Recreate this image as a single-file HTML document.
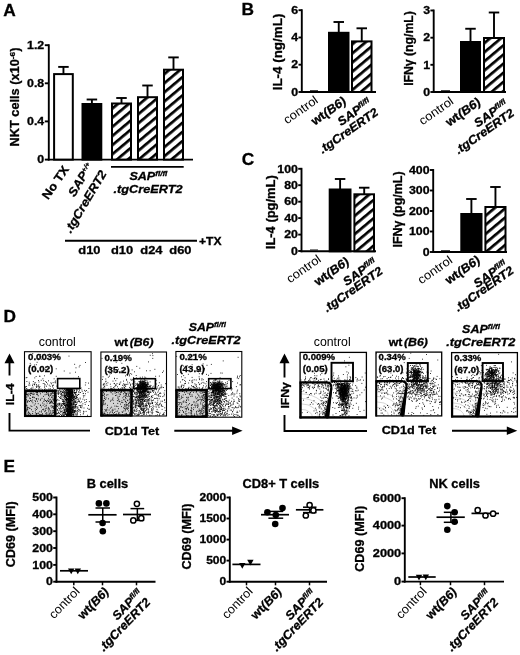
<!DOCTYPE html><html><head><meta charset="utf-8"><title>Figure</title><style>html,body{margin:0;padding:0;background:#fff}svg{display:block}text{font-family:"Liberation Sans",sans-serif}</style></head><body><svg width="520" height="655" viewBox="0 0 520 655">
<defs><pattern id="h" width="7" height="7" patternUnits="userSpaceOnUse" patternTransform="rotate(-40)"><rect width="7" height="7" fill="#fff"/><rect width="7" height="2.7" fill="#000"/></pattern><filter id="bl" x="-5%" y="-5%" width="110%" height="110%"><feGaussianBlur stdDeviation="0.35"/></filter></defs>
<rect width="520" height="655" fill="#fff"/>
<g fill="#000" stroke="#000" stroke-width="0" font-weight="bold">
<text transform="translate(3.2 15.6)" font-size="17.3" stroke-width=".3">A</text>
<text transform="translate(241.5 15.3)" font-size="17.3" stroke-width=".3">B</text>
<text transform="translate(241.7 164.5)" font-size="17.3" stroke-width=".3">C</text>
<text transform="translate(3.4 321.9)" font-size="17.3" stroke-width=".3">D</text>
<text transform="translate(3.4 471.7)" font-size="17.3" stroke-width=".3">E</text>
<line x1="48.8" y1="44.25" x2="48.8" y2="160.54999999999998" stroke-width="1.9"/>
<line x1="44.8" y1="45.2" x2="48.8" y2="45.2" stroke-width="1.9"/>
<text transform="translate(44.199999999999996 48.908) scale(1.2 1)" font-size="10.3" stroke-width=".3" text-anchor="end">1.2</text>
<line x1="44.8" y1="83.3" x2="48.8" y2="83.3" stroke-width="1.9"/>
<text transform="translate(44.199999999999996 87.008) scale(1.2 1)" font-size="10.3" stroke-width=".3" text-anchor="end">0.8</text>
<line x1="44.8" y1="121.4" x2="48.8" y2="121.4" stroke-width="1.9"/>
<text transform="translate(44.199999999999996 125.108) scale(1.2 1)" font-size="10.3" stroke-width=".3" text-anchor="end">0.4</text>
<line x1="44.8" y1="159.6" x2="48.8" y2="159.6" stroke-width="1.9"/>
<text transform="translate(44.199999999999996 163.308) scale(1.2 1)" font-size="10.3" stroke-width=".3" text-anchor="end">0</text>
<line x1="47.849999999999994" y1="159.6" x2="193" y2="159.6" stroke-width="1.9"/>
<line x1="63.45" y1="66.9" x2="63.45" y2="74.1" stroke-width="1.9"/>
<line x1="58.2" y1="66.9" x2="68.7" y2="66.9" stroke-width="1.9"/>
<rect x="54.1" y="74.1" width="18.699999999999996" height="85.5" fill="#fff" stroke-width="2.0"/>
<line x1="91.9" y1="99.5" x2="91.9" y2="104" stroke-width="1.9"/>
<line x1="86.65" y1="99.5" x2="97.15" y2="99.5" stroke-width="1.9"/>
<rect x="82.5" y="104.0" width="18.799999999999997" height="55.599999999999994" fill="#000" stroke-width="2.0"/>
<line x1="121.5" y1="98" x2="121.5" y2="103.5" stroke-width="1.9"/>
<line x1="116.25" y1="98" x2="126.75" y2="98" stroke-width="1.9"/>
<rect x="112.0" y="103.5" width="19.0" height="56.099999999999994" fill="url(#h)" stroke-width="2.0"/>
<line x1="147.5" y1="85.5" x2="147.5" y2="97.2" stroke-width="1.9"/>
<line x1="142.25" y1="85.5" x2="152.75" y2="85.5" stroke-width="1.9"/>
<rect x="138.0" y="97.2" width="19.0" height="62.39999999999999" fill="url(#h)" stroke-width="2.0"/>
<line x1="173.5" y1="57.4" x2="173.5" y2="69.7" stroke-width="1.9"/>
<line x1="168.25" y1="57.4" x2="178.75" y2="57.4" stroke-width="1.9"/>
<rect x="164.0" y="69.7" width="19.0" height="89.89999999999999" fill="url(#h)" stroke-width="2.0"/>
<text transform="translate(19.3 146.5) rotate(-90) scale(1.04 1)" font-size="12.3" stroke-width=".3">NKT cells (x10<tspan font-size="8" dy="-4">-6</tspan><tspan dy="4">)</tspan></text>
<text transform="translate(69.5 169.5) rotate(-55) scale(1.08 1)" font-size="12" stroke-width=".3" text-anchor="end">No TX</text>
<text transform="translate(93.5 166) rotate(-59) scale(1.08 1)" font-size="12" stroke-width=".3" font-style="italic" text-anchor="end">SAP<tspan font-size="6.5" dy="-4">+/+</tspan></text>
<text transform="translate(107 173.5) rotate(-59) scale(1.08 1)" font-size="12" stroke-width=".3" font-style="italic" text-anchor="end">.tgCreERT2</text>
<line x1="111" y1="166.9" x2="183.7" y2="166.9" stroke-width="1.9"/>
<text transform="translate(148.4 180) scale(1.1 1)" font-size="11.4" stroke-width=".3" font-style="italic" text-anchor="middle">SAP<tspan font-size="7.4" dy="-3.6">fl/fl</tspan></text>
<text transform="translate(148 192.5) scale(1.12 1)" font-size="11.4" stroke-width=".3" font-style="italic" text-anchor="middle">.tgCreERT2</text>
<line x1="65" y1="240.8" x2="197" y2="240.8" stroke-width="1.9"/>
<text transform="translate(199 245) scale(1.1 1)" font-size="11" stroke-width=".3">+TX</text>
<text transform="translate(89.4 253.5) scale(1.12 1)" font-size="11.5" stroke-width=".3" text-anchor="middle">d10</text>
<text transform="translate(122 253.5) scale(1.12 1)" font-size="11.5" stroke-width=".3" text-anchor="middle">d10</text>
<text transform="translate(151.4 253.5) scale(1.12 1)" font-size="11.5" stroke-width=".3" text-anchor="middle">d24</text>
<text transform="translate(180.4 253.5) scale(1.12 1)" font-size="11.5" stroke-width=".3" text-anchor="middle">d60</text>
<line x1="301.8" y1="9.25" x2="301.8" y2="92.95" stroke-width="1.9"/>
<line x1="298.5" y1="10.2" x2="301.8" y2="10.2" stroke-width="1.9"/>
<text transform="translate(298.2 13.908) scale(1.2 1)" font-size="10.3" stroke-width=".3" text-anchor="end">6</text>
<line x1="298.5" y1="37.5" x2="301.8" y2="37.5" stroke-width="1.9"/>
<text transform="translate(298.2 41.208) scale(1.2 1)" font-size="10.3" stroke-width=".3" text-anchor="end">4</text>
<line x1="298.5" y1="64.7" x2="301.8" y2="64.7" stroke-width="1.9"/>
<text transform="translate(298.2 68.408) scale(1.2 1)" font-size="10.3" stroke-width=".3" text-anchor="end">2</text>
<line x1="298.5" y1="92" x2="301.8" y2="92" stroke-width="1.9"/>
<text transform="translate(298.2 95.708) scale(1.2 1)" font-size="10.3" stroke-width=".3" text-anchor="end">0</text>
<line x1="300.85" y1="92" x2="376" y2="92" stroke-width="1.9"/>
<line x1="310" y1="90.6" x2="318" y2="90.6" stroke-width="0.8"/>
<line x1="338.75" y1="22" x2="338.75" y2="32.8" stroke-width="1.9"/>
<line x1="333.5" y1="22" x2="344.0" y2="22" stroke-width="1.9"/>
<rect x="329.0" y="32.8" width="19.5" height="59.2" fill="#000" stroke-width="2.0"/>
<line x1="361.75" y1="28.3" x2="361.75" y2="41.4" stroke-width="1.9"/>
<line x1="356.5" y1="28.3" x2="367.0" y2="28.3" stroke-width="1.9"/>
<rect x="352.0" y="41.4" width="19.5" height="50.6" fill="url(#h)" stroke-width="2.0"/>
<text transform="translate(281.8 52) rotate(-90) scale(1.09 1)" font-size="12.3" stroke-width=".3" text-anchor="middle">IL-4 (ng/mL)</text>
<text transform="translate(319 102) rotate(-35) scale(1.06 1)" font-size="12.3" font-weight="normal" text-anchor="end">control</text>
<text transform="translate(347 103) rotate(-35) scale(1.06 1)" font-size="12.2" stroke-width=".3" text-anchor="end">wt<tspan font-style="italic">(B6)</tspan></text>
<text transform="translate(372 104.5) rotate(-35) scale(1.06 1)" font-size="12" stroke-width=".3" font-style="italic" text-anchor="end">SAP<tspan font-size="7.4" dy="-4">fl/fl</tspan></text>
<text transform="translate(379 114.3) rotate(-35) scale(1.06 1)" font-size="12" stroke-width=".3" font-style="italic" text-anchor="end">.tgCreERT2</text>
<line x1="433.7" y1="9.55" x2="433.7" y2="92.95" stroke-width="1.9"/>
<line x1="430.4" y1="10.5" x2="433.7" y2="10.5" stroke-width="1.9"/>
<text transform="translate(430.09999999999997 14.208) scale(1.2 1)" font-size="10.3" stroke-width=".3" text-anchor="end">3</text>
<line x1="430.4" y1="37.7" x2="433.7" y2="37.7" stroke-width="1.9"/>
<text transform="translate(430.09999999999997 41.408) scale(1.2 1)" font-size="10.3" stroke-width=".3" text-anchor="end">2</text>
<line x1="430.4" y1="64.8" x2="433.7" y2="64.8" stroke-width="1.9"/>
<text transform="translate(430.09999999999997 68.508) scale(1.2 1)" font-size="10.3" stroke-width=".3" text-anchor="end">1</text>
<line x1="430.4" y1="92" x2="433.7" y2="92" stroke-width="1.9"/>
<text transform="translate(430.09999999999997 95.708) scale(1.2 1)" font-size="10.3" stroke-width=".3" text-anchor="end">0</text>
<line x1="432.75" y1="92" x2="506" y2="92" stroke-width="1.9"/>
<line x1="441" y1="90.6" x2="450" y2="90.6" stroke-width="0.8"/>
<line x1="470.5" y1="28.75" x2="470.5" y2="42" stroke-width="1.9"/>
<line x1="465.25" y1="28.75" x2="475.75" y2="28.75" stroke-width="1.9"/>
<rect x="461.0" y="42.0" width="19.0" height="50.0" fill="#000" stroke-width="2.0"/>
<line x1="494.0" y1="12.5" x2="494.0" y2="38" stroke-width="1.9"/>
<line x1="488.75" y1="12.5" x2="499.25" y2="12.5" stroke-width="1.9"/>
<rect x="484.0" y="38.0" width="20.0" height="54.0" fill="url(#h)" stroke-width="2.0"/>
<text transform="translate(413.40000000000003 48.5) rotate(-90) scale(1.02 1)" font-size="12" stroke-width=".3" text-anchor="middle">IFN&#947; (ng/mL)</text>
<text transform="translate(454.5 103) rotate(-35) scale(1.06 1)" font-size="12.3" font-weight="normal" text-anchor="end">control</text>
<text transform="translate(481.5 104) rotate(-35) scale(1.06 1)" font-size="12.2" stroke-width=".3" text-anchor="end">wt<tspan font-style="italic">(B6)</tspan></text>
<text transform="translate(508.5 106.0) rotate(-35) scale(1.06 1)" font-size="12" stroke-width=".3" font-style="italic" text-anchor="end">SAP<tspan font-size="7.4" dy="-4">fl/fl</tspan></text>
<text transform="translate(515 115.0) rotate(-35) scale(1.06 1)" font-size="12" stroke-width=".3" font-style="italic" text-anchor="end">.tgCreERT2</text>
<line x1="301.5" y1="167.85000000000002" x2="301.5" y2="252.25" stroke-width="1.9"/>
<line x1="298.2" y1="168.8" x2="301.5" y2="168.8" stroke-width="1.9"/>
<text transform="translate(297.9 172.508) scale(1.2 1)" font-size="10.3" stroke-width=".3" text-anchor="end">100</text>
<line x1="298.2" y1="185.2" x2="301.5" y2="185.2" stroke-width="1.9"/>
<text transform="translate(297.9 188.908) scale(1.2 1)" font-size="10.3" stroke-width=".3" text-anchor="end">80</text>
<line x1="298.2" y1="201.7" x2="301.5" y2="201.7" stroke-width="1.9"/>
<text transform="translate(297.9 205.408) scale(1.2 1)" font-size="10.3" stroke-width=".3" text-anchor="end">60</text>
<line x1="298.2" y1="218.1" x2="301.5" y2="218.1" stroke-width="1.9"/>
<text transform="translate(297.9 221.808) scale(1.2 1)" font-size="10.3" stroke-width=".3" text-anchor="end">40</text>
<line x1="298.2" y1="234.6" x2="301.5" y2="234.6" stroke-width="1.9"/>
<text transform="translate(297.9 238.308) scale(1.2 1)" font-size="10.3" stroke-width=".3" text-anchor="end">20</text>
<line x1="298.2" y1="251" x2="301.5" y2="251" stroke-width="1.9"/>
<text transform="translate(297.9 254.708) scale(1.2 1)" font-size="10.3" stroke-width=".3" text-anchor="end">0</text>
<line x1="300.55" y1="251.3" x2="376" y2="251.3" stroke-width="1.9"/>
<line x1="310" y1="249.9" x2="318" y2="249.9" stroke-width="0.8"/>
<line x1="340.1" y1="179" x2="340.1" y2="189.5" stroke-width="1.9"/>
<line x1="334.85" y1="179" x2="345.35" y2="179" stroke-width="1.9"/>
<rect x="329.7" y="189.5" width="20.80000000000001" height="61.80000000000001" fill="#000" stroke-width="2.0"/>
<line x1="364.2" y1="187.7" x2="364.2" y2="194.3" stroke-width="1.9"/>
<line x1="358.95" y1="187.7" x2="369.45" y2="187.7" stroke-width="1.9"/>
<rect x="354.4" y="194.3" width="19.600000000000023" height="57.0" fill="url(#h)" stroke-width="2.0"/>
<text transform="translate(275.40000000000003 212.2) rotate(-90) scale(1.07 1)" font-size="12.1" stroke-width=".3" text-anchor="middle">IL-4 (pg/mL)</text>
<text transform="translate(322 261) rotate(-35) scale(1.06 1)" font-size="12.3" font-weight="normal" text-anchor="end">control</text>
<text transform="translate(350 263.5) rotate(-35) scale(1.06 1)" font-size="12.2" stroke-width=".3" text-anchor="end">wt<tspan font-style="italic">(B6)</tspan></text>
<text transform="translate(377.5 264.5) rotate(-35) scale(1.06 1)" font-size="12" stroke-width=".3" font-style="italic" text-anchor="end">SAP<tspan font-size="7.4" dy="-4">fl/fl</tspan></text>
<text transform="translate(383.5 273.0) rotate(-35) scale(1.06 1)" font-size="12" stroke-width=".3" font-style="italic" text-anchor="end">.tgCreERT2</text>
<line x1="433.2" y1="169.05" x2="433.2" y2="252.95" stroke-width="1.9"/>
<line x1="429.9" y1="170" x2="433.2" y2="170" stroke-width="1.9"/>
<text transform="translate(429.59999999999997 173.708) scale(1.2 1)" font-size="10.3" stroke-width=".3" text-anchor="end">400</text>
<line x1="429.9" y1="190.5" x2="433.2" y2="190.5" stroke-width="1.9"/>
<text transform="translate(429.59999999999997 194.208) scale(1.2 1)" font-size="10.3" stroke-width=".3" text-anchor="end">300</text>
<line x1="429.9" y1="211" x2="433.2" y2="211" stroke-width="1.9"/>
<text transform="translate(429.59999999999997 214.708) scale(1.2 1)" font-size="10.3" stroke-width=".3" text-anchor="end">200</text>
<line x1="429.9" y1="231.5" x2="433.2" y2="231.5" stroke-width="1.9"/>
<text transform="translate(429.59999999999997 235.208) scale(1.2 1)" font-size="10.3" stroke-width=".3" text-anchor="end">100</text>
<line x1="429.9" y1="252" x2="433.2" y2="252" stroke-width="1.9"/>
<text transform="translate(429.59999999999997 255.708) scale(1.2 1)" font-size="10.3" stroke-width=".3" text-anchor="end">0</text>
<line x1="432.25" y1="252" x2="507" y2="252" stroke-width="1.9"/>
<line x1="441" y1="250.6" x2="450" y2="250.6" stroke-width="0.8"/>
<line x1="471.4" y1="199" x2="471.4" y2="214" stroke-width="1.9"/>
<line x1="466.15" y1="199" x2="476.65" y2="199" stroke-width="1.9"/>
<rect x="461.3" y="214.0" width="20.19999999999999" height="38.0" fill="#000" stroke-width="2.0"/>
<line x1="495.45" y1="187" x2="495.45" y2="207" stroke-width="1.9"/>
<line x1="490.2" y1="187" x2="500.7" y2="187" stroke-width="1.9"/>
<rect x="485.4" y="207.0" width="20.100000000000023" height="45.0" fill="url(#h)" stroke-width="2.0"/>
<text transform="translate(401.6 209.5) rotate(-90) scale(1.03 1)" font-size="12.1" stroke-width=".3" text-anchor="middle">IFN&#947; (pg/mL)</text>
<text transform="translate(453.3 262) rotate(-35) scale(1.06 1)" font-size="12.3" font-weight="normal" text-anchor="end">control</text>
<text transform="translate(481 262) rotate(-35) scale(1.06 1)" font-size="12.2" stroke-width=".3" text-anchor="end">wt<tspan font-style="italic">(B6)</tspan></text>
<text transform="translate(508 266.5) rotate(-35) scale(1.06 1)" font-size="12" stroke-width=".3" font-style="italic" text-anchor="end">SAP<tspan font-size="7.4" dy="-4">fl/fl</tspan></text>
<text transform="translate(514.5 272.5) rotate(-35) scale(1.06 1)" font-size="12" stroke-width=".3" font-style="italic" text-anchor="end">.tgCreERT2</text>
<rect x="24" y="390.8" width="31.299999999999997" height="26.19999999999999" fill="#d4d4d4"/>
<path d="M25 391.9h0M25 406.8h0M25 409.8h0M25.1 391.4h0M25.1 394.7h0M25.1 413.8h0M25.1 415.6h0M25.2 401.7h0M25.2 404.2h0M25.3 386.7h0M25.3 394.1h0M25.3 405.5h0M25.4 400.9h0M25.5 387.9h0M25.5 398.7h0M25.6 402.4h0M25.6 404.7h0M25.6 407.6h0M25.7 413.9h0M25.8 389.7h0M25.8 408.9h0M25.8 415.6h0M25.9 391.5h0M25.9 405.9h0M26 393.2h0M26.1 377.8h0M26.1 409.8h0M26.2 394.6h0M26.3 394.5h0M26.4 386.5h0M26.4 388.6h0M26.4 410.9h0M26.5 391.3h0M26.5 392.1h0M26.5 399.8h0M26.6 405.2h0M26.7 391.6h0M26.8 393.3h0M26.8 397.1h0M26.9 377.5h0M26.9 381.5h0M26.9 394.5h0M27.1 405.9h0M27.1 415.3h0M27.2 389.2h0M27.2 402.1h0M27.3 390.2h0M27.3 401h0M27.3 408.7h0M27.3 409.7h0M27.5 394.4h0M27.6 401.9h0M27.6 407.4h0M27.8 395.8h0M27.8 409.9h0M28 413.3h0M28.2 407.6h0M28.2 412h0M28.3 390h0M28.3 390.9h0M28.3 400.8h0M28.4 415.8h0M28.5 394h0M28.5 412.2h0M28.6 414.8h0M28.7 395.9h0M28.8 385.1h0M29.1 412.9h0M29.2 382.2h0M29.2 389.6h0M29.3 383.6h0M29.3 408.2h0M29.4 398.1h0M29.4 401.5h0M29.4 413.7h0M29.9 385.1h0M29.9 389.8h0M29.9 394.3h0M30 408.4h0M30.1 393.2h0M30.2 363.4h0M30.3 374h0M30.3 390.7h0M30.4 395.5h0M30.4 415.2h0M30.5 400.4h0M30.6 398.4h0M30.6 415.2h0M30.7 414.1h0M30.8 390.2h0M30.8 393.7h0M30.9 388.6h0M30.9 393.1h0M30.9 405.9h0M31 400.5h0M31.3 391h0M31.4 409.7h0M31.7 388.1h0M31.7 389.8h0M31.7 391.8h0M31.7 393.5h0M31.9 401.6h0M31.9 406.5h0M32.1 389.3h0M32.3 394.1h0M32.4 385.4h0M32.4 397.5h0M32.4 415.8h0M32.7 400h0M32.7 413.5h0M32.8 353.6h0M32.8 390.4h0M32.9 390.7h0M32.9 396.8h0M32.9 402.8h0M32.9 411.6h0M33 384.2h0M33 387.1h0M33 389h0M33.2 393h0M33.3 381.5h0M33.3 394.6h0M34 397.3h0M34.1 390h0M34.2 397.7h0M34.2 405.1h0M34.3 383h0M34.3 391.2h0M34.3 394h0M34.4 384.8h0M34.5 384.4h0M34.7 365h0M34.8 377.9h0M34.9 390.4h0M35 400.6h0M35.2 389.1h0M35.2 408.8h0M35.3 403.8h0M35.3 412.8h0M35.4 410.8h0M35.5 401.6h0M35.7 382.8h0M36.1 376.5h0M36.1 392.6h0M36.2 398.5h0M36.2 414h0M36.3 364.7h0M36.3 384.5h0M36.3 386.5h0M36.3 406.7h0M36.3 414.9h0M36.4 389.9h0M36.4 399.6h0M36.4 409.5h0M36.5 394.3h0M36.5 413.5h0M36.6 387.4h0M36.6 391.5h0M36.7 415.2h0M36.8 392.7h0M36.8 398.6h0M36.8 407.2h0M36.9 385.4h0M37.1 362.3h0M37.2 415.9h0M37.3 392.4h0M37.4 401.2h0M37.4 408.1h0M37.6 394.8h0M37.7 392.3h0M37.7 394h0M37.8 413.3h0M37.8 415.7h0M37.9 386.7h0M38.1 390.4h0M38.2 403.7h0M38.3 371.9h0M38.3 395.8h0M38.4 358.6h0M38.4 386h0M38.5 380.5h0M38.6 399h0M38.6 413.2h0M38.7 390.9h0M38.8 384.9h0M38.8 389.8h0M38.9 387.1h0M38.9 388.7h0M39 382h0M39.4 376.2h0M39.5 387.7h0M39.6 390h0M39.7 414.4h0M39.8 411.7h0M39.9 386.5h0M39.9 392h0M40 356.9h0M40 376.3h0M40.3 400.3h0M40.3 405h0M40.5 393.8h0M40.6 405.5h0M40.7 354.5h0M40.7 399.3h0M40.8 414.6h0M41 389h0M41.2 380.3h0M41.3 407h0M41.3 412.1h0M41.3 415.8h0M41.5 411h0M41.6 359.2h0M41.7 414.9h0M41.9 391.1h0M42 391.5h0M42 398.3h0M42.3 389.7h0M42.6 392.2h0M42.6 413.7h0M42.6 414.9h0M42.7 403h0M42.7 409.6h0M42.9 378.8h0M42.9 390.5h0M43.1 405.4h0M43.2 383.5h0M43.5 396.4h0M43.7 380.7h0M43.7 409.8h0M43.8 409.1h0M43.9 401.5h0M44.1 404.1h0M44.2 391.9h0M44.2 400.1h0M44.4 389.5h0M44.4 391.4h0M44.6 375.8h0M44.6 383.9h0M44.6 387.2h0M44.6 399.1h0M44.8 386h0M44.8 411.7h0M44.9 406.7h0M45 389.9h0M45 394.8h0M45.1 384.7h0M45.1 388.8h0M45.1 390.9h0M45.2 410.9h0M45.5 369.3h0M45.6 400.5h0M45.6 408.9h0M45.8 381.5h0M45.8 410.6h0M45.9 413.4h0M46.1 405.2h0M46.1 415.1h0M46.2 394.3h0M46.2 405.9h0M46.3 390.4h0M46.3 392.5h0M46.4 392.3h0M46.4 401.5h0M46.5 386.2h0M46.6 382.5h0M46.6 390.6h0M46.6 401.2h0M46.6 408.1h0M46.7 414h0M46.8 391.6h0M46.8 412.6h0M46.9 389.6h0M47.1 393.9h0M47.1 403.1h0M47.5 384h0M47.6 400.3h0M48 391.1h0M48 414.1h0M48.1 390.2h0M48.1 392.2h0M48.1 409.1h0M48.2 394.2h0M48.2 401.1h0M48.3 407.4h0M48.4 395.4h0M48.4 398.6h0M48.5 380.8h0M48.5 401.4h0M48.7 389.1h0M48.7 394h0M48.8 395.2h0M48.8 408.5h0M48.8 411.8h0M48.9 391.5h0M48.9 410.3h0M49.2 385.2h0M49.2 396.8h0M49.2 399.8h0M49.2 414.4h0M49.4 390.2h0M49.4 403h0M49.6 409.1h0M49.7 391.5h0M49.7 413.3h0M49.8 390h0M49.9 390.9h0M49.9 401.1h0M50 403.5h0M50.2 386.3h0M50.2 388.7h0M50.2 395.1h0M50.4 410.9h0M50.5 373.5h0M50.5 402.3h0M50.7 399.3h0M50.7 402.5h0M50.8 389.9h0M50.8 395.4h0M50.8 412.3h0M50.9 382.8h0M50.9 393.4h0M50.9 406.1h0M50.9 415.3h0M51 391.5h0M51 413.5h0M51.1 394.2h0M51.2 401.5h0M51.3 400.8h0M51.4 397.3h0M51.5 383.8h0M51.5 401.4h0M51.6 414.8h0M51.7 393.8h0M51.8 402.8h0M51.9 390.7h0M51.9 405.7h0M51.9 407.7h0M52 390.4h0M52.1 397h0M52.2 389.5h0M52.2 392.1h0M52.2 402h0M52.2 411h0M52.3 393.2h0M52.4 406.6h0M52.5 413.1h0M52.6 385.4h0M52.6 386.8h0M52.6 402.9h0M52.8 392.7h0M52.8 395.7h0M52.9 398h0M52.9 415.8h0M53 399.4h0M53 410.7h0M53.1 382.6h0M53.1 407.5h0M53.2 399.9h0M53.2 412.8h0M53.3 412.2h0M53.4 390.4h0M53.4 391.1h0M53.4 408.2h0M53.4 415.4h0M53.5 403.4h0M53.5 406.4h0M53.6 385.2h0M53.6 388.2h0M53.6 395.9h0M53.7 408.8h0M53.7 410.8h0M53.8 391.9h0M53.8 393.6h0M53.8 398.9h0M53.8 400.5h0M53.8 412.6h0M54 390.5h0M54 390.9h0M54 401.6h0M54.1 378.8h0M54.1 405h0M54.2 392.8h0M54.2 397.7h0M54.2 407h0M54.3 399.5h0M54.3 403.7h0M54.3 413.5h0M54.4 412.2h0M54.4 415.3h0M54.5 394.5h0M54.5 407.5h0M54.6 405h0M54.9 403.3h0M54.9 413.2h0M55 382.1h0M55 390.1h0M55 408.9h0M55 414.2h0M55 414.8h0M55.1 402.3h0M55.2 394.6h0M55.3 382.8h0M55.3 396.2h0M55.4 391.2h0M55.4 397.3h0M55.4 407.9h0M55.6 381h0M55.6 392.3h0M55.6 403.8h0M55.6 411.4h0M55.7 397.7h0M55.7 412.7h0M55.8 406.8h0M55.8 409.3h0M55.9 408.1h0M56 395.5h0M56 413.9h0M56.1 356.6h0M56.1 393.7h0M56.2 368.8h0M56.2 376.3h0M56.3 396.9h0M56.5 400.3h0M56.5 400.8h0M56.5 405.4h0M56.5 406h0M56.7 390.4h0M56.8 400.2h0M56.9 386.1h0M56.9 400.8h0M57 413.2h0M57.1 413.5h0M57.2 390.6h0M57.3 392h0M57.4 404.2h0M57.4 406.6h0M57.4 409.4h0M57.4 410.1h0M57.5 356.3h0M57.7 415.2h0M57.8 399.4h0M57.9 413.5h0M58 393.3h0M58 404.1h0M58 405.6h0M58 410.7h0M58.1 393.9h0M58.2 403.3h0M58.3 394.4h0M58.5 391.3h0M58.5 408.1h0M58.6 387.7h0M58.6 412.3h0M58.6 412.8h0M58.7 392.4h0M58.7 396.4h0M58.8 381.2h0M58.8 393.6h0M58.8 415.4h0M58.9 390.5h0M58.9 412.2h0M59 400.4h0M59 404.6h0M59.1 405.9h0M59.3 403.3h0M59.4 404.5h0M59.4 410h0M59.4 413.6h0M59.6 397.6h0M59.6 403.4h0M59.6 415.6h0M59.7 408.6h0M59.8 392.9h0M59.9 389.4h0M59.9 390.1h0M60 405h0M60.2 391.1h0M60.3 391.8h0M60.3 407.4h0M60.4 394.1h0M60.4 396.8h0M60.5 414.4h0M60.6 391.8h0M60.6 398.5h0M60.6 411.1h0M60.6 412.1h0M60.7 408.1h0M60.8 406.3h0M60.9 388.5h0M60.9 398.4h0M60.9 403.3h0M61 409.8h0M61.1 397.2h0M61.1 405.1h0M61.1 408.5h0M61.2 394.2h0M61.2 395h0M61.2 411.4h0M61.3 387.4h0M61.3 404.7h0M61.4 393.7h0M61.4 415.5h0M61.4 415.9h0M61.6 393.9h0M61.6 395.9h0M61.7 406.2h0M61.7 411.8h0M61.8 391.9h0M61.8 405.5h0M61.8 415h0M61.9 391.2h0M61.9 398.9h0M62 389.8h0M62.1 381.1h0M62.1 403.6h0M62.2 399.8h0M62.2 405.6h0M62.2 413.7h0M62.3 391.9h0M62.4 401.5h0M62.4 403.9h0M62.5 392.5h0M62.5 395h0M62.6 392.7h0M62.6 412h0M62.6 414.9h0M62.7 382.4h0M62.8 387.8h0M62.8 408h0M62.9 389.2h0M62.9 399.9h0M63 395.7h0M63 396.2h0M63 399.3h0M63 403.4h0M63 410.4h0M63.1 407.1h0M63.1 408.1h0M63.1 414h0M63.1 415.5h0M63.2 392.5h0M63.2 397.6h0M63.2 401h0M63.4 390.8h0M63.4 403.7h0M63.5 400h0M63.5 407.1h0M63.5 412.2h0M63.5 412.8h0M63.5 415.2h0M63.6 379.6h0M63.6 401.7h0M63.6 404.7h0M63.6 412.7h0M63.7 401.4h0M63.7 403.2h0M63.7 403.6h0M63.7 415.9h0M63.8 390.8h0M63.8 394h0M63.9 392.3h0M63.9 404.5h0M63.9 412.7h0M64 387.7h0M64 395.3h0M64 402h0M64 402.8h0M64 409.5h0M64.1 391.6h0M64.1 401.2h0M64.1 414.5h0M64.2 371h0M64.2 393.2h0M64.2 408.2h0M64.2 415.4h0M64.3 389.1h0M64.3 389.5h0M64.3 395.4h0M64.3 396.4h0M64.3 403.4h0M64.3 412.8h0M64.4 386.7h0M64.4 396.3h0M64.5 395.1h0M64.5 405.1h0M64.5 409.9h0M64.5 410.4h0M64.5 411.8h0M64.5 412h0M64.6 393.8h0M64.6 396h0M64.6 403.5h0M64.6 405.6h0M64.6 413h0M64.6 415h0M64.7 388.9h0M64.7 396.9h0M64.7 397.9h0M64.7 398.3h0M64.7 412.5h0M64.8 391.2h0M64.8 392.2h0M64.8 394.2h0M64.8 401.5h0M64.8 405.4h0M64.9 400.1h0M64.9 403.9h0M64.9 409.7h0M64.9 410.6h0M65 404.1h0M65.1 396.4h0M65.1 412.4h0M65.2 392.6h0M65.2 392.9h0M65.2 393.1h0M65.2 396.4h0M65.2 399.2h0M65.2 399.5h0M65.2 407.5h0M65.2 412.1h0M65.2 413.3h0M65.3 405.3h0M65.3 406.6h0M65.3 411.1h0M65.4 388.7h0M65.4 391h0M65.4 395.7h0M65.4 406.9h0M65.4 409.2h0M65.4 413.8h0M65.5 390.8h0M65.6 395.3h0M65.6 397.3h0M65.6 397.5h0M65.6 399.3h0M65.6 405.3h0M65.6 412.6h0M65.6 413.9h0M65.7 389.8h0M65.7 396.5h0M65.7 403h0M65.7 406.3h0M65.8 395h0M65.8 395.6h0M65.8 406.1h0M65.8 408.9h0M65.8 414.3h0M65.9 399.9h0M65.9 402.2h0M65.9 405.3h0M66 394h0M66 399.8h0M66 400.1h0M66 404h0M66 405.3h0M66 414.7h0M66.1 389.3h0M66.1 390.6h0M66.1 395.6h0M66.1 399.6h0M66.1 407.1h0M66.1 408.1h0M66.1 410h0M66.1 411.2h0M66.2 390.4h0M66.2 398.7h0M66.2 399.5h0M66.2 401.6h0M66.3 392.1h0M66.3 400.5h0M66.3 404.2h0M66.3 411.6h0M66.3 414.2h0M66.3 415.9h0M66.4 392.8h0M66.4 393.7h0M66.4 397.8h0M66.4 398.5h0M66.4 400.5h0M66.4 411.1h0M66.4 414.6h0M66.5 389.8h0M66.5 391.3h0M66.5 393.1h0M66.5 394.8h0M66.5 404.8h0M66.5 411.7h0M66.5 415.2h0M66.5 415.8h0M66.6 389.4h0M66.6 397.2h0M66.6 397.3h0M66.6 397.7h0M66.6 398.4h0M66.6 400.7h0M66.6 404.2h0M66.6 407h0M66.6 410h0M66.7 388.6h0M66.7 398.1h0M66.7 409.3h0M66.7 410.8h0M66.7 415.5h0M66.8 389.5h0M66.8 394.5h0M66.8 394.8h0M66.8 399.2h0M66.8 402h0M66.8 406.1h0M66.8 414.2h0M66.8 415.2h0M66.9 388.2h0M66.9 389.8h0M66.9 393.8h0M66.9 395h0M66.9 395.8h0M66.9 398.7h0M66.9 398.8h0M66.9 399.7h0M66.9 402.9h0M66.9 405.4h0M66.9 408.4h0M66.9 409.8h0M66.9 411h0M66.9 415.8h0M67 389.3h0M67 391h0M67 391.8h0M67 392.4h0M67 398.1h0M67 402.1h0M67 404.7h0M67 405.3h0M67 408.4h0M67 408.6h0M67 410.4h0M67 414.9h0M67.1 390.5h0M67.1 392.7h0M67.1 393.6h0M67.1 395h0M67.1 395.8h0M67.1 401.9h0M67.1 407.3h0M67.1 409.2h0M67.1 414.2h0M67.2 397h0M67.2 400.6h0M67.2 402.4h0M67.2 408.4h0M67.2 408.7h0M67.2 410.7h0M67.2 412.7h0M67.2 413.3h0M67.2 414.1h0M67.2 415.7h0M67.3 389.8h0M67.3 392.3h0M67.3 393.2h0M67.3 403.3h0M67.3 412.9h0M67.3 413.7h0M67.4 394.1h0M67.4 409.3h0M67.4 412h0M67.4 413.3h0M67.5 392.3h0M67.5 394h0M67.5 396.5h0M67.5 399.3h0M67.5 402.6h0M67.5 402.7h0M67.5 404.2h0M67.5 405.3h0M67.5 408.4h0M67.5 410.5h0M67.5 410.9h0M67.5 415.3h0M67.5 415.5h0M67.6 389.6h0M67.6 389.7h0M67.6 389.8h0M67.6 390.9h0M67.6 396h0M67.6 396.2h0M67.6 398.5h0M67.6 399.3h0M67.6 404.4h0M67.6 405.1h0M67.6 405.2h0M67.6 406.9h0M67.6 408.4h0M67.6 409.4h0M67.6 411.4h0M67.6 412.4h0M67.6 415.9h0M67.7 392.7h0M67.7 399.3h0M67.7 405.4h0M67.7 405.8h0M67.7 410.1h0M67.7 414.4h0M67.7 415h0M67.7 415.1h0M67.8 392.8h0M67.8 396h0M67.8 396.1h0M67.8 399.1h0M67.8 402.2h0M67.8 413.8h0M67.8 414.3h0M67.8 415.1h0M67.8 415.3h0M67.9 390.2h0M67.9 392.6h0M67.9 398.7h0M67.9 399.2h0M67.9 401h0M67.9 402.1h0M67.9 403h0M67.9 403.8h0M67.9 406.5h0M67.9 408.3h0M67.9 410.4h0M67.9 413.1h0M67.9 414.5h0M67.9 414.8h0M67.9 415.2h0M68 389.4h0M68 395h0M68 398.7h0M68 399.2h0M68 405.4h0M68 406.6h0M68 406.9h0M68 407.6h0M68 410.9h0M68 411.4h0M68 413.9h0M68 414.2h0M68.1 390.5h0M68.1 391.5h0M68.1 391.9h0M68.1 392.9h0M68.1 394.1h0M68.1 398.9h0M68.1 400h0M68.1 400.6h0M68.1 401h0M68.1 403.8h0M68.1 405.1h0M68.1 407.2h0M68.1 409.7h0M68.1 411.1h0M68.1 413.8h0M68.1 415.2h0M68.2 394.3h0M68.2 396.4h0M68.2 399h0M68.2 399.3h0M68.2 401.3h0M68.2 402.3h0M68.2 408.5h0M68.2 409.2h0M68.2 409.4h0M68.2 411.2h0M68.2 413.3h0M68.3 392.7h0M68.3 399.4h0M68.3 400.3h0M68.3 402.1h0M68.3 409.6h0M68.3 412.8h0M68.3 415.9h0M68.4 382.4h0M68.4 389.7h0M68.4 390h0M68.4 390.5h0M68.4 391.1h0M68.4 394.9h0M68.4 400.5h0M68.4 401.6h0M68.4 402.7h0M68.4 403.3h0M68.4 404.5h0M68.4 406.3h0M68.4 407.2h0M68.4 412h0M68.4 414.6h0M68.4 415h0M68.4 415.1h0M68.5 389.3h0M68.5 390.8h0M68.5 391.4h0M68.5 392h0M68.5 392.1h0M68.5 393.5h0M68.5 397.4h0M68.5 398.2h0M68.5 405.9h0M68.5 406.8h0M68.5 410.4h0M68.5 413.4h0M68.5 414.3h0M68.6 388.9h0M68.6 393.5h0M68.6 394.1h0M68.6 394.2h0M68.6 399.7h0M68.6 400.3h0M68.6 402h0M68.6 402.2h0M68.6 404.1h0M68.6 406h0M68.6 409.4h0M68.6 409.6h0M68.6 411.5h0M68.6 411.6h0M68.6 411.8h0M68.6 415.2h0M68.7 389.7h0M68.7 393.8h0M68.7 394.9h0M68.7 396.6h0M68.7 398.9h0M68.7 400.3h0M68.7 400.5h0M68.7 401.1h0M68.7 402.1h0M68.7 402.6h0M68.7 409.1h0M68.7 409.5h0M68.7 415.8h0M68.8 390.6h0M68.8 392.8h0M68.8 396.1h0M68.8 396.4h0M68.8 396.6h0M68.8 397.5h0M68.8 400.1h0M68.8 402h0M68.8 404.6h0M68.8 405.7h0M68.8 406.8h0M68.8 407.1h0M68.8 407.2h0M68.8 409.4h0M68.8 410.9h0M68.8 411.1h0M68.8 411.6h0M68.8 412.1h0M68.8 412.2h0M68.8 412.4h0M68.8 414.8h0M68.9 391h0M68.9 391.9h0M68.9 398.1h0M68.9 399h0M68.9 400.9h0M68.9 402.7h0M68.9 402.9h0M68.9 404.7h0M68.9 405.5h0M68.9 406.3h0M68.9 409.3h0M68.9 413h0M68.9 414h0M68.9 415.1h0M69 356.1h0M69 388.7h0M69 390.6h0M69 390.9h0M69 391.5h0M69 394h0M69 395.6h0M69 401.2h0M69 401.7h0M69 402.1h0M69 407h0M69 407.8h0M69 408.5h0M69 409.6h0M69 410.2h0M69 411.8h0M69 413.8h0M69 414.3h0M69 415.1h0M69.1 391.1h0M69.1 392.1h0M69.1 392.4h0M69.1 392.6h0M69.1 394.1h0M69.1 394.2h0M69.1 395.1h0M69.1 396h0M69.1 396.1h0M69.1 400.3h0M69.1 402.3h0M69.1 405.5h0M69.1 407.6h0M69.1 415h0M69.1 415.4h0M69.2 390.1h0M69.2 390.2h0M69.2 393.1h0M69.2 394.1h0M69.2 395.5h0M69.2 397.4h0M69.2 398.1h0M69.2 399.2h0M69.2 402.3h0M69.2 405.2h0M69.2 409.7h0M69.2 412.2h0M69.2 414.2h0M69.3 391.7h0M69.3 391.8h0M69.3 393.1h0M69.3 393.9h0M69.3 394.3h0M69.3 394.9h0M69.3 396.5h0M69.3 396.6h0M69.3 398.2h0M69.3 398.9h0M69.3 399.1h0M69.3 401.9h0M69.3 403.3h0M69.3 404.4h0M69.3 404.9h0M69.3 405.9h0M69.3 406.4h0M69.3 407.4h0M69.3 408.8h0M69.3 411.5h0M69.3 414.4h0M69.3 415.6h0M69.3 415.9h0M69.4 389h0M69.4 391.6h0M69.4 392.5h0M69.4 394.1h0M69.4 396.2h0M69.4 399.4h0M69.4 404.9h0M69.4 406.2h0M69.4 406.7h0M69.4 409.6h0M69.4 410.2h0M69.4 410.9h0M69.4 411.4h0M69.4 413.5h0M69.4 413.6h0M69.4 414.5h0M69.4 414.6h0M69.5 391.7h0M69.5 394.1h0M69.5 396.1h0M69.5 397.9h0M69.5 402h0M69.5 402.4h0M69.5 402.7h0M69.5 403.3h0M69.5 405h0M69.5 405.8h0M69.5 406.5h0M69.5 407.9h0M69.5 412h0M69.5 413.2h0M69.5 414.4h0M69.6 389.2h0M69.6 390.8h0M69.6 391.8h0M69.6 393.7h0M69.6 394.5h0M69.6 394.9h0M69.6 395.5h0M69.6 395.6h0M69.6 398.8h0M69.6 400h0M69.6 400.2h0M69.6 401.2h0M69.6 401.6h0M69.6 402h0M69.6 406.8h0M69.6 406.9h0M69.6 407.2h0M69.6 408h0M69.6 408.7h0M69.6 408.8h0M69.6 412.6h0M69.6 413h0M69.7 389.7h0M69.7 390.4h0M69.7 390.5h0M69.7 391h0M69.7 393.1h0M69.7 394.4h0M69.7 394.9h0M69.7 396h0M69.7 398h0M69.7 398.1h0M69.7 398.9h0M69.7 400.9h0M69.7 401.8h0M69.7 403.9h0M69.7 407.2h0M69.7 407.9h0M69.7 408.2h0M69.7 408.9h0M69.7 415h0M69.8 392.8h0M69.8 396h0M69.8 397.1h0M69.8 397.2h0M69.8 400h0M69.8 402.1h0M69.8 404.4h0M69.8 405.7h0M69.8 408h0M69.8 410h0M69.8 414.5h0M69.9 392.6h0M69.9 393.5h0M69.9 395.1h0M69.9 395.7h0M69.9 396.4h0M69.9 396.9h0M69.9 398.3h0M69.9 400.2h0M69.9 401.5h0M69.9 402.4h0M69.9 403h0M69.9 403.3h0M69.9 407h0M69.9 407.4h0M69.9 408h0M69.9 409h0M69.9 411h0M69.9 411.1h0M69.9 411.9h0M69.9 414.8h0M69.9 415.5h0M70 373.1h0M70 389.1h0M70 389.4h0M70 392.1h0M70 392.7h0M70 396.1h0M70 396.9h0M70 398h0M70 398.5h0M70 399.9h0M70 400.3h0M70 403.4h0M70 403.8h0M70 405.6h0M70 405.7h0M70 408h0M70 408.1h0M70 409.6h0M70 410.1h0M70 410.7h0M70 411.9h0M70.1 390.8h0M70.1 391.2h0M70.1 391.5h0M70.1 392.2h0M70.1 392.4h0M70.1 393.2h0M70.1 398.8h0M70.1 399.1h0M70.1 400.9h0M70.1 401h0M70.1 401.6h0M70.1 401.7h0M70.1 402.9h0M70.1 403.8h0M70.1 408.6h0M70.1 409.9h0M70.1 413.2h0M70.1 413.5h0M70.1 414.2h0M70.1 414.4h0M70.2 388.7h0M70.2 389.9h0M70.2 390.5h0M70.2 399.6h0M70.2 400.2h0M70.2 404.7h0M70.2 404.9h0M70.2 406.9h0M70.2 407.9h0M70.2 408.6h0M70.2 409.6h0M70.2 410.9h0M70.2 412.4h0M70.2 414h0M70.2 414.4h0M70.3 391.2h0M70.3 391.6h0M70.3 393.1h0M70.3 393.8h0M70.3 394.6h0M70.3 399.1h0M70.3 399.2h0M70.3 403.4h0M70.3 404.8h0M70.3 406h0M70.3 407.4h0M70.3 410.6h0M70.3 411h0M70.3 415.4h0M70.4 390.7h0M70.4 393.4h0M70.4 396.7h0M70.4 400.7h0M70.4 402.1h0M70.4 402.2h0M70.4 405.6h0M70.4 408.5h0M70.4 409.6h0M70.4 409.9h0M70.4 410.7h0M70.4 411.8h0M70.4 411.9h0M70.4 414.8h0M70.5 387.3h0M70.5 389.8h0M70.5 391.4h0M70.5 392.4h0M70.5 392.5h0M70.5 393.8h0M70.5 394.9h0M70.5 400.7h0M70.5 402.3h0M70.5 403.8h0M70.5 408.4h0M70.5 410.5h0M70.5 411.1h0M70.5 411.3h0M70.6 388.6h0M70.6 389.9h0M70.6 392.8h0M70.6 393.5h0M70.6 397.4h0M70.6 399h0M70.6 399.7h0M70.6 399.9h0M70.6 401.9h0M70.6 403h0M70.6 403.3h0M70.6 403.5h0M70.6 405.1h0M70.6 405.2h0M70.6 405.9h0M70.6 406.6h0M70.6 409.9h0M70.6 412.2h0M70.6 412.5h0M70.7 392.6h0M70.7 394.2h0M70.7 395.9h0M70.7 397.5h0M70.7 398.8h0M70.7 402h0M70.7 403.8h0M70.7 407.7h0M70.7 411.8h0M70.8 388.3h0M70.8 390.5h0M70.8 392.2h0M70.8 394.1h0M70.8 395.8h0M70.8 396.3h0M70.8 396.8h0M70.8 397.7h0M70.8 398h0M70.8 404.8h0M70.8 410.6h0M70.8 411.1h0M70.8 412.2h0M70.8 413.2h0M70.8 413.3h0M70.8 415.7h0M70.8 415.9h0M70.9 389.3h0M70.9 389.7h0M70.9 391.8h0M70.9 394.6h0M70.9 394.7h0M70.9 395.3h0M70.9 400.3h0M70.9 401.4h0M70.9 401.9h0M70.9 406.1h0M70.9 412h0M70.9 412.1h0M70.9 415.3h0M70.9 415.8h0M71 392.3h0M71 392.7h0M71 392.9h0M71 396.2h0M71 396.9h0M71 397.9h0M71 404.8h0M71 405.6h0M71 408.1h0M71 409.2h0M71 411.3h0M71 413.9h0M71 414.1h0M71.1 392.5h0M71.1 392.7h0M71.1 395h0M71.1 395.4h0M71.1 396h0M71.1 396.6h0M71.1 397h0M71.1 399.5h0M71.1 400.4h0M71.1 401h0M71.1 403.8h0M71.1 404.7h0M71.1 407.9h0M71.1 409.2h0M71.1 413h0M71.1 415.7h0M71.2 389.2h0M71.2 390.8h0M71.2 396.1h0M71.2 396.7h0M71.2 399.6h0M71.2 401.2h0M71.2 403.2h0M71.2 404.7h0M71.2 405h0M71.2 407.1h0M71.2 411.8h0M71.2 412.8h0M71.3 389.1h0M71.3 390.6h0M71.3 391.7h0M71.3 392.9h0M71.3 393h0M71.3 394.7h0M71.3 397.2h0M71.3 397.7h0M71.3 400.3h0M71.3 404.3h0M71.3 404.4h0M71.3 409.5h0M71.3 410.7h0M71.3 413.2h0M71.3 413.6h0M71.3 413.8h0M71.4 395.3h0M71.4 395.7h0M71.4 404.2h0M71.4 405.2h0M71.5 389.5h0M71.5 391.4h0M71.5 394.8h0M71.5 397.6h0M71.5 400.8h0M71.5 403.5h0M71.5 404.1h0M71.5 406.4h0M71.5 408.9h0M71.5 409.7h0M71.5 411.9h0M71.5 412.9h0M71.6 392.5h0M71.6 392.7h0M71.6 393.1h0M71.6 393.4h0M71.6 396.6h0M71.6 399.6h0M71.6 402.9h0M71.6 411.8h0M71.6 413.8h0M71.6 413.9h0M71.6 415.5h0M71.7 389.3h0M71.7 392.1h0M71.7 399.1h0M71.7 399.3h0M71.7 407.9h0M71.7 408h0M71.7 409.4h0M71.7 415.1h0M71.8 389h0M71.8 390.1h0M71.8 391.5h0M71.8 396.7h0M71.8 398.3h0M71.8 399.2h0M71.8 402.6h0M71.8 403.9h0M71.8 408.6h0M71.8 410.6h0M71.8 415.1h0M71.9 393.4h0M71.9 395.3h0M71.9 398.2h0M71.9 399.1h0M71.9 400.7h0M71.9 406.9h0M71.9 408.1h0M71.9 413.9h0M72 389h0M72 389.1h0M72 392.7h0M72 393.5h0M72 397.5h0M72 408h0M72 408.9h0M72 412h0M72 414.2h0M72.1 390.2h0M72.1 390.3h0M72.1 392.8h0M72.1 395.9h0M72.1 396.4h0M72.1 407.9h0M72.1 412.5h0M72.2 391.3h0M72.2 393.2h0M72.2 393.5h0M72.2 403.9h0M72.2 413h0M72.3 391.5h0M72.3 393.7h0M72.3 396h0M72.3 396.5h0M72.3 397h0M72.3 405.3h0M72.3 410h0M72.4 390.3h0M72.4 392.3h0M72.4 392.9h0M72.4 394.2h0M72.4 397.7h0M72.4 403.1h0M72.4 411.2h0M72.4 411.4h0M72.5 390.7h0M72.5 391.5h0M72.5 394.8h0M72.5 400.6h0M72.5 404.7h0M72.5 408.9h0M72.5 412.8h0M72.6 392.3h0M72.6 392.5h0M72.6 395.5h0M72.6 398.1h0M72.6 398.5h0M72.6 400.3h0M72.6 401.1h0M72.6 410h0M72.6 410.2h0M72.6 410.4h0M72.7 389.7h0M72.7 391.6h0M72.7 393h0M72.7 394.8h0M72.7 395.5h0M72.7 406.8h0M72.7 409.7h0M72.7 412.5h0M72.8 381.2h0M72.8 393h0M72.8 393.2h0M72.8 393.8h0M72.8 406.7h0M72.8 407.6h0M72.8 414.5h0M72.9 407.3h0M72.9 415.3h0M73 394.4h0M73 399.8h0M73 402.2h0M73 406.1h0M73 407.5h0M73 411.9h0M73 412.4h0M73.1 392.6h0M73.1 395.4h0M73.1 411.1h0M73.1 414.9h0M73.2 401.9h0M73.2 406.7h0M73.2 409.1h0M73.2 415.8h0M73.3 389.9h0M73.3 397.6h0M73.3 414.3h0M73.4 396.9h0M73.4 398h0M73.4 400.9h0M73.4 404.5h0M73.5 394.8h0M73.5 399.3h0M73.5 403.3h0M73.6 378.4h0M73.6 395.7h0M73.6 399.5h0M73.6 403.9h0M73.6 406.2h0M73.6 408.7h0M73.6 411h0M73.6 414.4h0M73.7 391.8h0M73.7 399.1h0M73.7 402.6h0M73.7 409.7h0M73.7 413.2h0M73.8 398h0M73.8 403.7h0M73.8 404.8h0M73.8 407.6h0M73.8 410.7h0M73.8 414.8h0M73.9 396.4h0M73.9 399.8h0M74 396.1h0M74 410.5h0M74 412.4h0M74 415.2h0M74.1 390h0M74.1 397h0M74.1 397.3h0M74.1 397.6h0M74.1 401.8h0M74.1 404.5h0M74.1 411.5h0M74.1 412.7h0M74.2 399.1h0M74.2 399.8h0M74.2 412.7h0M74.3 390.5h0M74.3 392.5h0M74.3 396.9h0M74.3 406.1h0M74.4 393h0M74.4 396.3h0M74.4 401.2h0M74.4 402.7h0M74.4 411.2h0M74.5 410.6h0M74.6 388.8h0M74.6 390.3h0M74.6 392.1h0M74.6 392.3h0M74.6 411.1h0M74.7 364.3h0M74.7 407.4h0M74.8 400.9h0M74.8 403.9h0M74.8 408.5h0M74.8 412.6h0M74.9 398.7h0M75 393.4h0M75 397h0M75 411.8h0M75.1 402.1h0M75.1 406.2h0M75.1 406.5h0M75.2 392.7h0M75.2 393.2h0M75.2 401.9h0M75.2 414h0M75.3 394.6h0M75.3 406.3h0M75.4 372.2h0M75.4 398.4h0M75.4 401.9h0M75.4 407.8h0M75.5 398.4h0M75.5 410.2h0M75.6 405.2h0M75.6 411.2h0M75.7 394.8h0M75.7 404.5h0M75.7 405.3h0M75.7 410.9h0M75.8 392.5h0M75.8 402.1h0M75.8 402.4h0M75.8 407.3h0M75.9 392.5h0M75.9 401.1h0M75.9 415.1h0M76 367.8h0M76 395.2h0M76 396.6h0M76 400h0M76 406.5h0M76.1 389.6h0M76.1 413.9h0M76.2 392.7h0M76.3 396.4h0M76.3 397.2h0M76.3 398.7h0M76.3 411.8h0M76.4 391.7h0M76.4 397.3h0M76.4 404.4h0M76.6 404.6h0M76.9 390h0M76.9 390.6h0M76.9 394.9h0M76.9 397.8h0M77 389.2h0M77 402.6h0M77 403h0M77 406.9h0M77 414.4h0M77 415.4h0M77.1 408.3h0M77.1 410.2h0M77.3 397.7h0M77.4 382.8h0M77.4 395.6h0M77.5 410.7h0M77.6 412.8h0M77.6 413.9h0M77.7 387.6h0M77.8 379.6h0M77.8 388.8h0M77.8 407.1h0M77.9 399.6h0M78 401.5h0M78 408.1h0M78.1 411.5h0M78.3 378.1h0M78.5 394.5h0M78.5 401.1h0M78.6 376.6h0M78.6 391.9h0M78.6 399.1h0M78.7 409.8h0M78.8 384.6h0M78.8 394.5h0M79 409.5h0M79.1 386.9h0M79.1 389.4h0M79.1 392.7h0M79.1 400.8h0M79.1 405.6h0M79.2 366.9h0M79.5 390.8h0M79.6 385.5h0M79.6 401.5h0M79.9 405.5h0M80 365.4h0M80 410.3h0M80 410.8h0M80.1 398h0M80.1 402.7h0M80.2 388.5h0M80.2 399h0M80.2 412.2h0M80.4 414.8h0M80.5 407.1h0M80.6 388.5h0M80.6 392.5h0M80.7 405.6h0M80.7 407.1h0M80.9 407.2h0M81.1 388h0M81.7 401.8h0M81.8 407.8h0M81.9 389.9h0M81.9 405.2h0M82.1 406.1h0M82.2 391.3h0M82.9 399.2h0M82.9 403.8h0M83.2 393.3h0M83.2 414h0M83.3 393.6h0M83.3 395.7h0M83.4 413.1h0M83.6 411.3h0M83.7 397h0M84 408h0M84 411.8h0M84.5 390.4h0M84.5 400.1h0M84.8 395.7h0M85 402.5h0M85.2 404.4h0M85.3 385h0M85.3 391.3h0M85.6 362.5h0M85.6 393.7h0M85.8 382.7h0M86.1 411.4h0M86.2 399.5h0M86.6 390.5h0M86.6 401.7h0M87.5 415.3h0M87.7 408.3h0M88 392.2h0M88.4 405.5h0M88.5 383.1h0M88.9 388.5h0M89.1 409.1h0M89.1 409.5h0M89.3 401.6h0" stroke-width="1.0" stroke-linecap="round" stroke-opacity="1" fill="none" filter="url(#bl)"/>
<rect x="24" y="389.6" width="32.599999999999994" height="2.5"/>
<rect x="54.0" y="389.6" width="2.6" height="27.399999999999988"/>
<rect x="24" y="390.8" width="2.3" height="26.19999999999999"/>
<rect x="24" y="414.8" width="31.299999999999997" height="2.2"/>
<rect x="24.5" y="351.7" width="66.6" height="64.80000000000001" fill="none" stroke-width="1.1"/>
<rect x="57.6" y="378.6" width="22.199999999999996" height="9.799999999999955" fill="#fff" stroke-width="1.6"/>
<text transform="translate(28 360.4) scale(1.1 1)" font-size="8.8" stroke-width=".3">0.003%</text>
<text transform="translate(28 372.2) scale(1.1 1)" font-size="8.8" stroke-width=".3">(0.02)</text>
<rect x="100.4" y="390" width="31.099999999999994" height="26.5" fill="#d4d4d4"/>
<path d="M101.4 392.9h0M101.5 395.2h0M101.5 401.5h0M101.5 413.8h0M101.7 399h0M101.7 405.5h0M101.8 390.4h0M101.8 391.3h0M101.8 397.3h0M101.8 399.9h0M101.9 406.8h0M102 358.4h0M102 413h0M102.1 388.3h0M102.2 395.6h0M102.2 409.3h0M102.4 395.4h0M102.4 415h0M102.5 379.4h0M102.6 391.5h0M102.7 405.7h0M102.7 413h0M102.9 403.9h0M103 376.8h0M103.1 404.6h0M103.2 384.9h0M103.3 395.4h0M103.3 414.2h0M103.4 390.4h0M103.4 392.8h0M103.4 402.2h0M103.5 400.4h0M103.6 414h0M103.7 384.8h0M103.7 387.7h0M103.7 392h0M103.8 384.1h0M103.8 401.7h0M103.8 403.8h0M104 388.9h0M104.1 390.2h0M104.1 400.5h0M104.1 412.1h0M104.2 383.4h0M104.2 394.2h0M104.3 386.5h0M104.3 398.5h0M104.5 396.3h0M104.5 413.4h0M104.6 390.7h0M104.6 394h0M104.7 398h0M104.8 387h0M104.9 385h0M105 404.6h0M105 409.5h0M105 413.7h0M105.2 415.4h0M105.3 403.3h0M105.7 399.4h0M105.8 379h0M105.8 381.8h0M105.8 410.5h0M105.9 389.9h0M106 381.2h0M106 411.3h0M106.1 397.9h0M106.3 383.7h0M106.3 391.4h0M106.7 391.4h0M106.7 395.1h0M106.8 409.3h0M106.8 410.2h0M107 385.3h0M107.3 412.8h0M107.4 390.2h0M107.4 405.3h0M107.5 407.7h0M107.7 414.5h0M107.9 382.8h0M107.9 394.7h0M108 390.6h0M108.3 377.2h0M108.5 398.8h0M108.6 389.1h0M109 390.7h0M109.1 410h0M109.3 366.3h0M109.4 376.1h0M109.4 415.4h0M109.7 413h0M110.1 373.9h0M110.3 367.1h0M110.3 384.2h0M110.3 391.8h0M110.3 408.2h0M110.4 389h0M110.4 401.2h0M110.7 412h0M110.8 389h0M110.9 386.8h0M111.1 391.1h0M111.1 400.2h0M111.2 392.7h0M111.4 373.4h0M111.6 415h0M111.7 388.5h0M111.7 407.2h0M112.1 410.2h0M112.2 411.8h0M112.3 391.4h0M112.4 412.7h0M112.5 399.2h0M112.8 359h0M112.8 388.9h0M112.8 394h0M112.9 409.3h0M113 381.1h0M113 398h0M113 410.5h0M113.1 400.3h0M113.4 387.6h0M113.4 389.7h0M113.5 403.4h0M113.6 413.8h0M114.2 383.4h0M114.2 391.7h0M114.3 383.6h0M114.3 388.9h0M114.4 378.7h0M114.5 378.3h0M114.5 412.5h0M114.7 386.8h0M114.9 406.1h0M114.9 414.5h0M115 409.1h0M115.1 393.2h0M115.3 384.9h0M115.4 391.2h0M115.5 385.8h0M115.6 395.5h0M115.8 380.7h0M115.8 414.4h0M116 411.4h0M116.2 362.3h0M116.3 385.1h0M116.3 392.6h0M116.5 406.2h0M116.5 414h0M116.8 371.7h0M116.8 392.4h0M116.8 395.1h0M116.9 390.4h0M117 378.6h0M117 383.6h0M117.3 400.6h0M117.6 386.8h0M117.7 411.1h0M117.8 371.9h0M117.8 403.4h0M117.9 398.1h0M117.9 406.5h0M118 396.9h0M118.2 392.7h0M118.4 388.6h0M118.4 390.3h0M118.4 408.7h0M118.4 415.1h0M118.6 369.2h0M118.7 399.2h0M118.7 413.6h0M118.9 400.1h0M119 412.5h0M119.2 391.4h0M119.2 394.1h0M119.2 401.5h0M119.3 384.2h0M119.3 396.3h0M119.4 389.8h0M119.7 384.5h0M119.8 401.6h0M119.8 414.2h0M120 383.1h0M120.3 391h0M120.5 392.8h0M120.6 394.6h0M120.6 404.1h0M120.8 382h0M120.8 388.7h0M121.4 391.5h0M121.4 406.6h0M121.7 390.7h0M121.7 392.3h0M121.8 371h0M121.8 402.5h0M121.9 363.3h0M121.9 400.8h0M122 387.7h0M122.1 411.8h0M122.2 389.6h0M122.3 388.7h0M122.5 385.3h0M122.5 414.9h0M122.7 412.4h0M122.8 402.6h0M122.9 397.8h0M123 387.8h0M123 389.5h0M123.1 391h0M123.4 381.1h0M123.4 383.9h0M123.5 393.8h0M123.6 407.8h0M123.7 399.7h0M123.8 411h0M123.9 386.1h0M123.9 391h0M123.9 396.4h0M124.1 389h0M124.1 391.5h0M124.3 406.1h0M124.4 385.1h0M124.4 387.6h0M124.4 392.7h0M124.6 404.7h0M124.6 408.3h0M124.7 384.3h0M124.7 387.9h0M124.8 399.9h0M124.9 389.7h0M125 385.4h0M125 408.8h0M125.1 396h0M125.1 413.8h0M125.2 389h0M125.3 395.3h0M125.3 401.3h0M125.3 406.1h0M125.3 410.8h0M125.4 375.9h0M125.4 397.5h0M125.5 393h0M125.6 409.3h0M125.7 386.4h0M125.7 390.9h0M125.7 401.5h0M125.8 384.4h0M125.8 389.4h0M125.8 393.9h0M125.9 390.2h0M126 398.6h0M126 404.1h0M126.1 407.8h0M126.2 402.5h0M126.2 405h0M126.2 414.2h0M126.4 379.4h0M126.5 394.7h0M126.5 396h0M126.5 405.9h0M126.6 413.4h0M126.7 380.3h0M126.7 393.4h0M126.7 408.7h0M126.8 384.4h0M126.8 393.7h0M126.8 404.4h0M127.1 408h0M127.1 414.8h0M127.2 390.4h0M127.4 355.8h0M127.5 375.4h0M127.6 409.3h0M127.7 382h0M127.7 400.6h0M127.8 400.1h0M127.8 408h0M127.9 384.1h0M127.9 396.6h0M127.9 404.9h0M128 392h0M128 405h0M128.4 389.8h0M128.4 403.5h0M128.4 415.4h0M128.5 395h0M128.5 408.2h0M128.6 406.2h0M128.7 394h0M128.7 410.9h0M128.8 389.9h0M128.9 395.9h0M129.3 375.9h0M129.3 393.2h0M129.3 402.1h0M129.3 402.8h0M129.4 414.2h0M129.5 374.9h0M129.5 399.8h0M129.5 413h0M129.6 382.8h0M129.6 387.4h0M129.6 391.9h0M129.6 414.3h0M129.7 415.2h0M129.8 390.3h0M129.8 396.6h0M129.9 398.3h0M129.9 405.9h0M130 402.6h0M130.1 391.3h0M130.2 373.5h0M130.3 388.5h0M130.3 404.1h0M130.3 412.1h0M130.4 407.5h0M130.5 385.1h0M130.5 392h0M130.5 394.7h0M130.5 407.7h0M130.5 410.5h0M130.6 385h0M130.6 406.7h0M130.6 413.5h0M130.7 411.7h0M130.8 384.1h0M130.8 405.2h0M130.8 406.2h0M130.8 408.9h0M130.8 409.8h0M130.9 379.3h0M130.9 388.3h0M130.9 393.3h0M130.9 413.3h0M131 397.8h0M131.1 387h0M131.1 402h0M131.1 415.1h0M131.3 380.2h0M131.3 389.6h0M131.3 403.4h0M131.4 397.3h0M131.4 399h0M131.5 395h0M131.5 405.4h0M131.6 399.8h0M131.6 399.9h0M131.7 374.2h0M131.7 395.7h0M131.7 403.3h0M131.7 404.5h0M131.8 390.5h0M131.8 407.5h0M131.8 408.9h0M131.9 397.8h0M132 409.9h0M132 411.3h0M132.1 369.9h0M132.1 393.1h0M132.1 401.6h0M132.2 396.8h0M132.4 392.2h0M132.4 394.4h0M132.4 398.3h0M132.4 408.3h0M132.4 412.2h0M132.5 379.8h0M132.5 401.4h0M132.5 402h0M132.6 383.9h0M132.6 411.7h0M132.8 387.2h0M132.8 399.7h0M132.9 396.3h0M133 388.7h0M133 394.7h0M133.2 407.5h0M133.3 390.7h0M133.3 396.3h0M133.3 412.8h0M133.4 377.6h0M133.4 396.7h0M133.5 403.7h0M133.6 401.3h0M133.7 391.4h0M133.7 412.1h0M133.8 391.7h0M133.8 391.8h0M133.8 400h0M133.8 400.9h0M133.8 404.7h0M133.9 402.4h0M133.9 408h0M133.9 410.6h0M134 389h0M134 390.6h0M134 403.8h0M134 406.9h0M134 409.8h0M134 413.5h0M134.3 386.5h0M134.6 371.8h0M134.6 388.5h0M134.6 389.3h0M134.6 392.7h0M134.7 393.5h0M134.7 396.7h0M134.7 410.1h0M134.7 411.2h0M134.7 414h0M134.9 381.9h0M134.9 398h0M134.9 399.9h0M135 394h0M135 410.3h0M135 414.5h0M135.1 404.1h0M135.2 406.1h0M135.3 392.3h0M135.3 405.2h0M135.3 406.7h0M135.4 399.2h0M135.4 403.1h0M135.4 407.6h0M135.5 399.8h0M135.6 397.6h0M135.6 405.7h0M135.7 385.3h0M135.8 394.1h0M135.9 383.7h0M135.9 388.4h0M135.9 396.9h0M135.9 404.2h0M135.9 407.9h0M136 387.8h0M136 389.2h0M136 400.6h0M136 402.8h0M136 411.4h0M136 413.4h0M136.1 402.3h0M136.2 375.5h0M136.2 393.1h0M136.2 395.2h0M136.2 401.7h0M136.3 399.2h0M136.3 400.8h0M136.3 405.4h0M136.4 403.6h0M136.5 378h0M136.5 388.8h0M136.5 397.4h0M136.6 388.7h0M136.6 392.6h0M136.6 396.7h0M136.6 409.7h0M136.7 384.2h0M136.7 394.3h0M136.7 397.4h0M136.7 401.8h0M136.7 402.7h0M136.7 411.2h0M136.8 366.4h0M136.8 387.5h0M136.8 406.9h0M136.9 389.1h0M136.9 415.2h0M137 390.9h0M137 403.8h0M137.1 387.6h0M137.1 389.8h0M137.1 390.3h0M137.1 396.5h0M137.2 385.1h0M137.2 387.7h0M137.2 390.9h0M137.2 391h0M137.2 405.4h0M137.2 408.7h0M137.2 415h0M137.3 392.7h0M137.3 400.6h0M137.4 393.3h0M137.4 398.7h0M137.5 397.2h0M137.6 383.3h0M137.6 385.6h0M137.6 386.7h0M137.6 389.6h0M137.6 390h0M137.6 391h0M137.7 378.8h0M137.7 385h0M137.7 394.7h0M137.8 386.5h0M137.8 386.9h0M137.8 387.3h0M137.8 396.7h0M137.8 399.6h0M137.8 402.2h0M137.9 384.1h0M137.9 384.6h0M137.9 389.7h0M137.9 410.8h0M137.9 414.2h0M138 385.6h0M138 385.8h0M138 389.2h0M138 389.3h0M138 398.4h0M138.1 387.6h0M138.1 387.7h0M138.1 388.4h0M138.1 388.9h0M138.1 391.8h0M138.1 393.3h0M138.1 395.5h0M138.2 385.2h0M138.2 387.2h0M138.2 396.6h0M138.2 400.5h0M138.2 405.4h0M138.2 415.2h0M138.3 384.7h0M138.3 391.7h0M138.3 403.3h0M138.3 405.9h0M138.3 406.6h0M138.3 415.1h0M138.4 391.8h0M138.4 400h0M138.5 385.5h0M138.5 385.9h0M138.5 389.3h0M138.5 389.9h0M138.5 403.3h0M138.6 389.5h0M138.6 391.6h0M138.6 396.3h0M138.6 397.5h0M138.6 399.4h0M138.6 414h0M138.7 385.2h0M138.7 386.3h0M138.7 388.9h0M138.7 390.9h0M138.8 387.6h0M138.8 387.7h0M138.8 389.2h0M138.8 389.5h0M138.8 389.7h0M138.8 391.8h0M138.8 401.4h0M138.8 402.2h0M138.8 406h0M138.9 385.2h0M138.9 385.9h0M138.9 386h0M138.9 387.6h0M138.9 392.7h0M138.9 396.9h0M138.9 401.1h0M138.9 412.4h0M139 384.4h0M139 386.6h0M139 387.7h0M139 388.9h0M139 404.9h0M139.1 381.5h0M139.1 384h0M139.1 386.7h0M139.1 389.9h0M139.1 390.8h0M139.1 395.7h0M139.1 406.5h0M139.2 381.6h0M139.2 386.6h0M139.2 389.6h0M139.2 392h0M139.2 397.5h0M139.2 402.8h0M139.2 410.8h0M139.2 414.5h0M139.3 392.2h0M139.3 395.3h0M139.3 397.9h0M139.3 404.4h0M139.4 393.4h0M139.4 394.1h0M139.4 395.1h0M139.4 399h0M139.4 405.7h0M139.5 383.7h0M139.5 385.7h0M139.5 386.1h0M139.5 387.6h0M139.5 396.6h0M139.5 397.2h0M139.5 397.4h0M139.5 400.6h0M139.5 406.2h0M139.6 393.6h0M139.6 398.6h0M139.7 387.7h0M139.7 388.9h0M139.7 389.3h0M139.7 391.2h0M139.7 410.9h0M139.8 368.2h0M139.8 387.5h0M139.8 392.2h0M139.8 392.3h0M139.8 393h0M139.8 394.7h0M139.8 403.6h0M139.8 403.9h0M139.8 407.1h0M139.9 382.1h0M139.9 384.4h0M139.9 385.4h0M139.9 386.9h0M139.9 388.4h0M139.9 390.4h0M139.9 392.2h0M139.9 395.1h0M139.9 395.9h0M139.9 400h0M140 384h0M140 388.4h0M140 393.1h0M140 393.4h0M140 406.5h0M140.1 382.5h0M140.1 382.6h0M140.1 384.7h0M140.1 388.3h0M140.1 388.7h0M140.1 389h0M140.1 389.8h0M140.1 395.5h0M140.1 408h0M140.1 413.5h0M140.2 377.3h0M140.2 386h0M140.2 394.6h0M140.2 399.1h0M140.2 399.4h0M140.2 399.6h0M140.2 404.2h0M140.3 380h0M140.3 383.8h0M140.3 384.3h0M140.3 385.4h0M140.3 386h0M140.3 388h0M140.3 392.3h0M140.3 397.6h0M140.3 402.2h0M140.3 403.1h0M140.3 405h0M140.3 406.4h0M140.3 411.8h0M140.3 412.8h0M140.3 413.1h0M140.4 383.8h0M140.4 387.2h0M140.4 388.5h0M140.4 406.2h0M140.5 382.2h0M140.5 386h0M140.5 386.2h0M140.5 387.3h0M140.5 389.1h0M140.5 396h0M140.5 397.4h0M140.5 401.4h0M140.5 406.5h0M140.6 382.3h0M140.6 388.1h0M140.6 388.6h0M140.6 389.6h0M140.6 390.6h0M140.6 391.1h0M140.6 391.7h0M140.6 393.8h0M140.6 397h0M140.7 383.2h0M140.7 384h0M140.7 385.2h0M140.7 385.8h0M140.7 386.2h0M140.7 390.7h0M140.7 399h0M140.7 401.3h0M140.7 402.8h0M140.7 405.1h0M140.8 380.8h0M140.8 381.7h0M140.8 382.6h0M140.8 387.7h0M140.8 392.1h0M140.8 408h0M140.9 381.4h0M140.9 381.7h0M140.9 386h0M140.9 388.8h0M140.9 389.1h0M140.9 391.1h0M140.9 392.6h0M140.9 395.2h0M140.9 400.5h0M140.9 405.9h0M141 386.7h0M141 386.8h0M141 387.5h0M141 387.6h0M141 391.4h0M141 392.2h0M141 392.8h0M141 408.6h0M141 409.4h0M141.1 382.5h0M141.1 388h0M141.1 393.2h0M141.1 396.2h0M141.1 407.4h0M141.1 409.5h0M141.2 382h0M141.2 386.6h0M141.2 392.7h0M141.2 395.4h0M141.2 396.4h0M141.2 396.9h0M141.2 398h0M141.2 399.6h0M141.2 401.9h0M141.3 384h0M141.3 386.7h0M141.3 387h0M141.3 387.9h0M141.3 399.5h0M141.3 401.6h0M141.4 384.8h0M141.4 386.1h0M141.4 388.9h0M141.4 410.3h0M141.5 384h0M141.5 391.3h0M141.5 394.6h0M141.5 408.6h0M141.6 387.1h0M141.6 389.2h0M141.6 393.3h0M141.6 393.5h0M141.6 396.7h0M141.6 404.2h0M141.7 384.4h0M141.7 385.9h0M141.7 386h0M141.7 387.6h0M141.7 388.6h0M141.7 389.8h0M141.7 391.3h0M141.7 399.3h0M141.7 404.2h0M141.7 405.3h0M141.8 379.9h0M141.8 387.7h0M141.8 387.8h0M141.8 388.9h0M141.8 392.2h0M141.8 392.4h0M141.8 393.4h0M141.8 393.9h0M141.8 403.9h0M141.8 409.2h0M141.9 382.1h0M141.9 382.3h0M141.9 383.3h0M141.9 384.5h0M141.9 385.4h0M141.9 389.4h0M141.9 392.7h0M141.9 395h0M141.9 397.7h0M141.9 399.4h0M141.9 402.1h0M141.9 413.7h0M142 383.4h0M142 384.9h0M142 387.8h0M142 388h0M142 388.1h0M142 389h0M142 394.9h0M142 396.4h0M142 396.7h0M142 397.8h0M142 409h0M142 415.4h0M142.1 383.5h0M142.1 384h0M142.1 386.6h0M142.1 387.3h0M142.1 389.8h0M142.1 399.8h0M142.1 403.1h0M142.1 406.7h0M142.2 383h0M142.2 383.3h0M142.2 383.8h0M142.2 385.1h0M142.2 385.5h0M142.2 387.9h0M142.2 393h0M142.2 398.7h0M142.2 402.6h0M142.2 403.1h0M142.2 403.2h0M142.3 382.3h0M142.3 383.8h0M142.3 384.6h0M142.3 386.3h0M142.3 387.5h0M142.3 390.4h0M142.3 392.4h0M142.3 399.5h0M142.3 400.8h0M142.3 404h0M142.3 412.6h0M142.4 383h0M142.4 387.1h0M142.4 387.6h0M142.4 387.8h0M142.4 390.3h0M142.4 391.9h0M142.5 385.4h0M142.5 385.9h0M142.5 386.2h0M142.5 387.3h0M142.5 387.8h0M142.5 388.5h0M142.5 390.9h0M142.5 391.4h0M142.5 391.7h0M142.5 392.2h0M142.5 395h0M142.5 395.1h0M142.5 410.1h0M142.5 410.3h0M142.6 377.1h0M142.6 385.7h0M142.6 386.5h0M142.6 387.1h0M142.6 389.9h0M142.6 394.3h0M142.7 381.1h0M142.7 383.3h0M142.7 383.6h0M142.7 385.2h0M142.7 385.8h0M142.7 386.4h0M142.7 388.2h0M142.7 395.4h0M142.7 396.3h0M142.7 399.9h0M142.7 404.8h0M142.8 383.8h0M142.8 384.4h0M142.8 385.2h0M142.8 385.6h0M142.8 385.7h0M142.8 386.9h0M142.8 387h0M142.8 387.6h0M142.8 388.4h0M142.8 389h0M142.8 390.7h0M142.8 399.1h0M142.8 400.2h0M142.8 400.9h0M142.9 381.5h0M142.9 381.6h0M142.9 384.6h0M142.9 391.3h0M142.9 391.4h0M142.9 391.5h0M142.9 395.9h0M142.9 397.4h0M142.9 399.9h0M142.9 401.8h0M142.9 404.8h0M142.9 408.4h0M143 381h0M143 381.1h0M143 383.2h0M143 383.8h0M143 384.3h0M143 386.9h0M143 391.3h0M143 392.7h0M143 393.9h0M143 396.7h0M143 403.7h0M143 406.7h0M143.1 385.3h0M143.1 385.9h0M143.1 390.9h0M143.2 383.5h0M143.2 385.4h0M143.2 385.8h0M143.2 387.4h0M143.2 388.6h0M143.2 389.1h0M143.2 389.7h0M143.2 391h0M143.2 392.2h0M143.2 392.9h0M143.2 396.4h0M143.2 397.2h0M143.2 408h0M143.2 408.8h0M143.3 381.7h0M143.3 381.9h0M143.3 382.8h0M143.3 384.5h0M143.3 385.5h0M143.3 386h0M143.3 386.8h0M143.3 387.7h0M143.3 391.4h0M143.3 401.3h0M143.3 406.5h0M143.3 411.5h0M143.4 383.7h0M143.4 384.6h0M143.4 389.9h0M143.4 393.5h0M143.4 399.1h0M143.4 412.3h0M143.4 414.4h0M143.5 383.4h0M143.5 387.7h0M143.5 388.6h0M143.5 389.7h0M143.5 390.3h0M143.5 390.5h0M143.5 390.7h0M143.5 399.1h0M143.6 386.4h0M143.6 388.5h0M143.6 394.9h0M143.6 403.1h0M143.6 405.4h0M143.6 410.2h0M143.7 385.5h0M143.7 388.3h0M143.7 392.6h0M143.7 397.7h0M143.7 404.1h0M143.7 410h0M143.8 383.3h0M143.8 386.1h0M143.8 388.1h0M143.8 388.9h0M143.8 391.4h0M143.8 393.1h0M143.8 395.7h0M143.8 409.2h0M143.8 409.6h0M143.8 412h0M143.9 381.7h0M143.9 383h0M143.9 383.6h0M143.9 386.5h0M143.9 388.5h0M143.9 393.7h0M143.9 395h0M143.9 395.1h0M143.9 410.6h0M143.9 411.1h0M143.9 413.1h0M144 382.7h0M144 384.1h0M144 387.4h0M144 387.9h0M144 389.2h0M144 390.7h0M144 395.7h0M144 396.3h0M144.1 383.3h0M144.1 383.4h0M144.1 384.7h0M144.1 385.1h0M144.1 386.8h0M144.1 387.1h0M144.1 390.6h0M144.1 396.7h0M144.1 413.3h0M144.2 379.6h0M144.2 383.2h0M144.2 386.4h0M144.2 387.8h0M144.2 390h0M144.2 391.3h0M144.2 391.6h0M144.2 392.3h0M144.2 393.8h0M144.2 395.3h0M144.3 380.1h0M144.3 382.6h0M144.3 386.4h0M144.3 387.1h0M144.3 387.4h0M144.3 387.6h0M144.3 388.6h0M144.3 388.8h0M144.3 389h0M144.3 390.7h0M144.3 391.7h0M144.3 394.9h0M144.3 397.7h0M144.3 414.3h0M144.4 381.8h0M144.4 383.9h0M144.4 384.2h0M144.4 387.1h0M144.4 387.2h0M144.4 387.4h0M144.4 391.2h0M144.4 391.5h0M144.4 398.8h0M144.4 400.6h0M144.4 401.3h0M144.5 381h0M144.5 383.7h0M144.5 386.7h0M144.5 390.6h0M144.5 400.8h0M144.5 408.7h0M144.6 384.5h0M144.6 385.7h0M144.6 386.9h0M144.6 391.9h0M144.6 394.1h0M144.6 395.5h0M144.6 400.8h0M144.6 412.6h0M144.7 389.8h0M144.7 391.6h0M144.7 392.3h0M144.7 396h0M144.7 411.7h0M144.8 377.1h0M144.8 386.4h0M144.8 387.4h0M144.8 388.3h0M144.8 407h0M144.9 384.4h0M144.9 384.8h0M144.9 384.9h0M144.9 386.2h0M144.9 386.5h0M144.9 387h0M144.9 387.4h0M144.9 387.5h0M144.9 387.8h0M144.9 393.7h0M144.9 395.2h0M144.9 396.4h0M144.9 405.3h0M145 381.7h0M145 384.8h0M145 385.8h0M145 386.1h0M145 386.8h0M145 389h0M145 389.5h0M145 391.4h0M145 391.5h0M145 401.5h0M145 408.6h0M145.1 384.6h0M145.1 385.3h0M145.1 386.2h0M145.1 387h0M145.1 390.8h0M145.1 394.5h0M145.2 389.1h0M145.2 390.7h0M145.2 391.7h0M145.2 397h0M145.2 397.3h0M145.2 399.4h0M145.2 406.6h0M145.3 386.9h0M145.3 388.3h0M145.3 389h0M145.3 390.8h0M145.3 395.5h0M145.3 396.2h0M145.3 399.9h0M145.4 385.1h0M145.4 387.3h0M145.4 393.2h0M145.4 394.5h0M145.4 403.9h0M145.5 382.7h0M145.5 383.5h0M145.5 384.6h0M145.5 405.8h0M145.5 410.9h0M145.6 382.9h0M145.6 385.2h0M145.6 388h0M145.6 388.8h0M145.6 390.3h0M145.6 391.1h0M145.6 391.7h0M145.7 380.3h0M145.7 382.5h0M145.7 385.3h0M145.7 386.3h0M145.7 386.6h0M145.7 389.7h0M145.8 377.9h0M145.8 390.4h0M145.8 405.3h0M145.9 386.8h0M145.9 390.1h0M145.9 392.7h0M145.9 397.5h0M145.9 410.6h0M146 382.8h0M146 389.7h0M146 397.2h0M146.1 380.8h0M146.1 386.5h0M146.1 389.4h0M146.1 393.6h0M146.1 395.2h0M146.1 400.9h0M146.1 401.2h0M146.2 386h0M146.2 407.3h0M146.3 383.1h0M146.3 385.5h0M146.3 388h0M146.3 388.6h0M146.3 388.7h0M146.3 389h0M146.3 391.8h0M146.4 385.4h0M146.4 389.8h0M146.4 395.6h0M146.4 405.3h0M146.5 387.4h0M146.5 388.2h0M146.5 389.7h0M146.6 370.8h0M146.6 384.5h0M146.6 384.6h0M146.6 384.9h0M146.6 385.6h0M146.6 389.8h0M146.6 405h0M146.6 405.1h0M146.6 414.2h0M146.7 390.7h0M146.7 391.2h0M146.7 396.3h0M146.7 399.3h0M146.7 409.8h0M146.7 412.7h0M146.8 386.7h0M146.8 388.1h0M146.8 389.9h0M146.8 395.2h0M146.8 406.2h0M146.9 384.4h0M146.9 385.3h0M146.9 389.5h0M146.9 395.8h0M146.9 396.6h0M146.9 402.2h0M146.9 403.4h0M146.9 407.9h0M146.9 409.3h0M147 388.8h0M147 395.2h0M147.1 386.3h0M147.1 390.3h0M147.1 408.8h0M147.2 388.4h0M147.2 391.7h0M147.2 397.6h0M147.3 382.7h0M147.3 383h0M147.3 386h0M147.3 388.7h0M147.3 401.2h0M147.3 405.7h0M147.4 389.4h0M147.4 391.2h0M147.5 384.2h0M147.5 386.7h0M147.5 392.7h0M147.6 385h0M147.6 392.5h0M147.7 381.1h0M147.7 384h0M147.7 386.8h0M147.7 388.4h0M147.8 386.8h0M147.8 391.8h0M147.8 399.2h0M147.9 383.2h0M147.9 394.5h0M147.9 397.4h0M147.9 400.6h0M147.9 412.3h0M148 384.8h0M148.1 389.3h0M148.1 390.1h0M148.1 402.9h0M148.2 399.9h0M148.2 400h0M148.3 384.6h0M148.3 387.8h0M148.3 399.3h0M148.3 401.1h0M148.3 411.6h0M148.4 361.9h0M148.4 383h0M148.4 388.9h0M148.4 392.5h0M148.4 403.4h0M148.4 404.3h0M148.4 410h0M148.4 413h0M148.5 392.6h0M148.6 394.2h0M148.6 395.9h0M148.7 386.6h0M148.7 391.5h0M148.7 402.9h0M148.7 409h0M148.7 412.4h0M148.8 403.7h0M148.9 391.2h0M149.2 396.5h0M149.3 393.2h0M149.4 392.1h0M149.4 394.1h0M149.4 406.4h0M149.4 415.2h0M149.5 386.7h0M149.5 398.7h0M149.5 405.4h0M149.6 389.6h0M149.6 399h0M149.7 400.8h0M149.7 407.3h0M149.9 386.6h0M149.9 386.7h0M149.9 403h0M149.9 404.2h0M150 385.3h0M150.1 370.7h0M150.1 381.9h0M150.1 411.9h0M150.2 355.3h0M150.2 386.4h0M150.2 392.2h0M150.3 387.9h0M150.3 403.7h0M150.4 389.8h0M150.4 392.1h0M150.9 388.5h0M151 385.6h0M151 392.2h0M151 406.5h0M151 415.2h0M151.1 397.9h0M151.1 399.9h0M151.3 396.1h0M151.4 396.7h0M151.4 408.7h0M151.4 412.9h0M151.6 410.7h0M151.7 389.3h0M151.7 396.5h0M151.8 400.4h0M151.8 401.8h0M151.8 409.6h0M152 403.5h0M152.1 390.2h0M152.2 402.5h0M152.3 403.5h0M152.4 387.1h0M152.4 391h0M152.5 353.7h0M152.5 403.5h0M152.5 413.8h0M152.6 390.3h0M152.6 411h0M152.7 397.4h0M152.7 402.6h0M152.8 358.4h0M152.8 391.2h0M152.8 400.5h0M152.8 407.4h0M152.8 412.5h0M152.9 355.6h0M152.9 395.6h0M153 405.3h0M153 409.8h0M153.2 408.7h0M153.3 390.6h0M153.4 392.3h0M153.4 400h0M153.8 386.2h0M153.9 406.6h0M154.1 390.9h0M154.7 398.4h0M154.9 369.3h0M154.9 389.3h0M154.9 394.4h0M155.2 398.5h0M155.2 402.3h0M155.3 393.9h0M155.4 392.3h0M155.7 376.3h0M155.9 404.5h0M156 406.1h0M156 415.4h0M156.1 411.4h0M156.2 380.3h0M156.2 407.2h0M156.3 384h0M156.3 388.9h0M156.3 394.1h0M156.5 389.7h0M156.5 411.8h0M156.7 398.2h0M156.7 403.8h0M157 388.4h0M157 403.1h0M157.1 395.2h0M157.1 409.4h0M157.2 387h0M157.3 412.5h0M157.6 414.8h0M157.7 398.4h0M157.7 402.2h0M157.8 392.2h0M157.8 400.2h0M157.8 404.5h0M157.8 411.3h0M158.1 405.7h0M158.4 385.6h0M158.4 394.6h0M158.4 412.5h0M158.5 390.9h0M158.8 395.6h0M158.9 389.1h0M158.9 396.6h0M158.9 406h0M159 407.5h0M159.2 398.7h0M159.2 404.5h0M159.3 376.1h0M159.3 382.7h0M159.4 393.6h0M159.5 414.2h0M159.6 389h0M159.7 404h0M159.7 415.4h0M160 387.8h0M160.1 413.1h0M160.2 392.8h0M160.3 403.2h0M160.6 396.3h0M160.8 393.5h0M161 387.9h0M161 401.2h0M161.2 385h0M161.2 386.9h0M161.2 404.7h0M161.3 406.1h0M161.7 405.4h0M162 387.2h0M162.1 409.4h0M162.4 401.2h0M162.5 372.4h0M162.5 414.7h0M162.8 396.6h0M162.8 406.5h0M163.4 371h0M163.4 413.8h0M163.5 387.5h0M163.8 414.3h0M163.8 414.7h0M164 395.9h0M164.1 393.1h0M164.2 412.7h0M164.4 400.3h0M164.6 394.7h0M164.7 399.7h0M164.8 390.7h0M164.8 407.8h0M165 402.4h0M165.2 410.6h0M165.5 383.7h0" stroke-width="1.0" stroke-linecap="round" stroke-opacity="1" fill="none" filter="url(#bl)"/>
<rect x="100.4" y="388.8" width="32.39999999999999" height="2.5"/>
<rect x="130.2" y="388.8" width="2.6" height="27.7"/>
<rect x="100.4" y="390" width="2.3" height="26.5"/>
<rect x="100.4" y="414.3" width="31.099999999999994" height="2.2"/>
<rect x="100.9" y="352.0" width="65.6" height="64.0" fill="none" stroke-width="1.1"/>
<rect x="133.7" y="378.7" width="21.700000000000017" height="9.800000000000011" fill="none" stroke-width="1.6"/>
<text transform="translate(104.4 360.7) scale(1.1 1)" font-size="8.8" stroke-width=".3">0.19%</text>
<text transform="translate(104.4 372.5) scale(1.1 1)" font-size="8.8" stroke-width=".3">(35.2)</text>
<rect x="175.4" y="390" width="31.099999999999994" height="27.69999999999999" fill="#d4d4d4"/>
<path d="M176.4 400.8h0M176.4 406.7h0M176.4 410.3h0M176.4 412.6h0M176.6 398.5h0M176.6 402.2h0M176.7 356.4h0M176.7 391h0M176.8 399.5h0M176.8 402.9h0M176.9 392.6h0M177.1 394.5h0M177.1 395.9h0M177.2 397.3h0M177.2 411.7h0M177.2 413.9h0M177.3 389.8h0M177.4 374.5h0M177.4 408.3h0M177.5 406.5h0M177.7 397.9h0M177.8 396.3h0M177.9 392.4h0M178 390.9h0M178 413.2h0M178 416.1h0M178.1 387h0M178.1 397.2h0M178.1 410.2h0M178.2 393.7h0M178.2 394.7h0M178.2 402.5h0M178.3 404.8h0M178.6 395.9h0M178.8 390h0M179 387h0M179 388h0M179 399.3h0M179 415h0M179.1 391.6h0M179.2 412.5h0M179.3 395.4h0M179.4 393.5h0M179.4 397.1h0M179.5 389.1h0M179.5 408.4h0M179.5 409.2h0M179.6 404h0M179.7 402.7h0M179.7 412.2h0M179.9 399.4h0M180 391.3h0M180 406.3h0M180.1 410.6h0M180.4 372h0M180.5 382h0M180.5 407h0M180.8 402.6h0M181 390.6h0M181.2 386.7h0M181.2 387.7h0M181.2 390.2h0M181.2 398.4h0M181.3 385.9h0M181.3 416h0M181.4 376.8h0M181.4 415.2h0M181.5 386.3h0M181.5 396.2h0M181.7 404.6h0M181.7 406.8h0M181.8 403.3h0M181.9 397.6h0M182 385h0M182 391.6h0M182 414.7h0M182.2 407.5h0M182.3 379.9h0M182.4 390.2h0M182.5 388.8h0M182.6 390.9h0M182.6 391.5h0M182.6 410.6h0M182.9 379.5h0M182.9 397.4h0M183 401.9h0M183.1 390.4h0M183.2 385.3h0M183.2 394.9h0M183.4 366h0M183.5 387.4h0M183.5 411.7h0M183.5 412.4h0M183.6 355h0M183.7 375.6h0M183.8 402.1h0M183.9 401h0M184 385.9h0M184 391.6h0M184 407h0M184.5 383.8h0M184.7 380.5h0M184.7 392.6h0M185.1 377.8h0M185.1 390.5h0M185.1 413.2h0M185.2 408.9h0M185.4 388.8h0M185.5 383.5h0M185.5 394.4h0M185.6 381.7h0M185.7 402.1h0M185.8 406.6h0M185.8 414.2h0M185.9 411.4h0M186 408.4h0M186.1 391.1h0M186.4 400.6h0M186.5 400h0M186.5 402.6h0M186.5 409.8h0M186.6 391.3h0M186.6 415.3h0M186.7 408.6h0M186.8 391.9h0M186.8 413.7h0M186.9 388.8h0M186.9 397.2h0M186.9 397.6h0M186.9 405.1h0M186.9 415.9h0M187.2 365.7h0M187.4 407.2h0M187.8 357h0M187.8 416.2h0M187.9 398.9h0M187.9 408.1h0M188 389.6h0M188 393.2h0M188.3 374.3h0M188.3 388.5h0M188.4 388.2h0M188.4 409.7h0M188.5 404.8h0M188.6 388.5h0M188.6 397.3h0M188.6 409.1h0M188.6 416.1h0M188.7 383h0M188.7 400.1h0M188.9 412.8h0M189 387.3h0M189 390.4h0M189.5 356.4h0M189.5 403.6h0M189.7 380.4h0M189.7 394.7h0M189.8 393.2h0M189.9 394.1h0M190.3 413h0M190.4 392.5h0M190.5 410.7h0M190.8 396.4h0M190.9 388.6h0M191 388.2h0M191.1 410.1h0M191.1 415h0M191.3 405.5h0M191.3 407.4h0M191.3 413.8h0M191.4 385.7h0M191.4 390.9h0M191.4 412h0M191.6 410.3h0M191.7 381h0M191.7 413.1h0M191.7 415.7h0M191.8 390.7h0M191.8 408.5h0M191.8 411.3h0M191.9 404.7h0M192 394.9h0M192.1 364.7h0M192.1 377.4h0M192.1 382.7h0M192.1 415.3h0M192.2 396.3h0M192.3 386.7h0M192.5 404.7h0M192.7 380.2h0M192.7 382.1h0M193.2 390h0M193.4 386.9h0M193.5 389.4h0M193.6 386.4h0M193.6 392.3h0M193.6 409.6h0M193.7 354.4h0M193.8 407.7h0M194 387h0M194 401.6h0M194 402.7h0M194.1 389.6h0M194.1 416h0M194.2 379.8h0M194.2 387.9h0M194.5 414.1h0M194.6 415.6h0M194.7 405.1h0M194.9 383.8h0M195 387.5h0M195.1 390.5h0M195.3 385h0M195.4 388.9h0M195.4 407h0M195.5 389.7h0M195.6 397h0M195.8 405.2h0M196 403h0M196.2 380h0M196.2 392.7h0M196.2 398.7h0M196.3 388.2h0M196.4 389.3h0M196.5 386.4h0M196.5 411.4h0M196.6 384.9h0M196.6 391.5h0M196.6 412.9h0M196.7 414.1h0M196.8 401.6h0M197.1 405.6h0M197.3 397.7h0M197.5 400.2h0M197.6 388.1h0M197.6 407.4h0M197.7 394.1h0M197.7 415h0M197.8 404.1h0M198 406.3h0M198 410.8h0M198.1 405.1h0M198.3 370.6h0M198.4 382.7h0M198.4 400.3h0M198.7 395.2h0M198.8 411.5h0M198.9 389.8h0M199 396.1h0M199.1 376.8h0M199.1 399.5h0M199.1 409h0M199.2 387.7h0M199.3 373.7h0M199.3 378.7h0M199.3 413.8h0M199.4 410.8h0M199.5 379.6h0M199.5 389.5h0M199.6 384.6h0M199.7 388.9h0M199.8 410.2h0M199.9 384h0M200 392.2h0M200 397.3h0M200.3 399.2h0M200.3 412.7h0M200.5 414h0M200.7 402.9h0M200.7 410.6h0M200.8 371.5h0M200.8 404h0M201 391.3h0M201 393.4h0M201 411.7h0M201.1 401h0M201.2 416.1h0M201.3 396.9h0M201.3 408.9h0M201.4 383.2h0M201.5 410.1h0M201.7 399.6h0M201.8 380h0M201.8 413h0M201.9 400.7h0M201.9 411.6h0M202 378.7h0M202 388.6h0M202 389.9h0M202 391.8h0M202 413.7h0M202.1 395.5h0M202.3 374.6h0M202.3 408.1h0M202.3 415.4h0M202.4 388.2h0M202.4 397.2h0M202.4 405.8h0M202.5 389.6h0M202.5 399.3h0M202.6 404.1h0M202.6 409.9h0M202.6 414h0M202.7 392.9h0M202.8 397h0M202.8 407.1h0M202.9 387.4h0M202.9 392.1h0M202.9 413.5h0M203 382.4h0M203.1 363.9h0M203.1 398.6h0M203.1 415.3h0M203.2 379.7h0M203.2 402.5h0M203.2 415.8h0M203.3 408.1h0M203.4 395.6h0M203.4 405.8h0M203.5 385.8h0M203.5 390.9h0M203.5 400.5h0M203.5 412.2h0M203.7 394.6h0M203.7 406.9h0M203.8 408.3h0M203.8 410.5h0M204 369.8h0M204 392.6h0M204 394.4h0M204 396.1h0M204.1 383.1h0M204.1 399.2h0M204.1 415.3h0M204.1 415.8h0M204.2 389.5h0M204.2 392.4h0M204.2 397.4h0M204.2 412h0M204.3 368.4h0M204.3 390.6h0M204.3 406.4h0M204.6 368.9h0M204.6 401.7h0M204.7 398.2h0M204.7 406.1h0M204.8 392.4h0M204.8 394.4h0M204.9 400.1h0M204.9 415.8h0M205 391.3h0M205 396.7h0M205 404.4h0M205 408h0M205 408.8h0M205.1 395.8h0M205.2 389.9h0M205.2 404.9h0M205.2 407h0M205.2 409.6h0M205.2 415.5h0M205.3 412h0M205.4 394.6h0M205.4 398.6h0M205.5 392.8h0M205.6 405.4h0M205.6 410.7h0M205.7 387h0M205.7 401.3h0M205.7 414.4h0M205.8 394h0M205.9 383.8h0M205.9 396.2h0M205.9 398.6h0M205.9 402.1h0M206 394.8h0M206.1 398.4h0M206.1 405.6h0M206.2 413h0M206.5 374.4h0M206.5 381.6h0M206.5 390.7h0M206.6 385.9h0M206.6 402.7h0M206.6 404h0M206.6 410.4h0M206.9 409h0M207 365.3h0M207.1 397.1h0M207.1 397.6h0M207.1 412.2h0M207.1 412.6h0M207.1 416.2h0M207.2 405.3h0M207.3 399.6h0M207.3 400.3h0M207.3 406.7h0M207.4 413.8h0M207.4 415h0M207.5 397.9h0M207.5 399.9h0M207.7 414.2h0M207.8 413h0M208 388h0M208 391.5h0M208 400.1h0M208 411.9h0M208.1 393.6h0M208.2 404.3h0M208.3 396.7h0M208.3 399.3h0M208.3 415.6h0M208.5 375.3h0M208.5 395.1h0M208.5 405.9h0M208.6 383.2h0M208.7 389h0M208.8 407.8h0M208.9 413.8h0M209 391.9h0M209 404.8h0M209 409.5h0M209 410.5h0M209.1 396.6h0M209.2 399.2h0M209.3 403.3h0M209.3 411.4h0M209.3 413.4h0M209.4 395.8h0M209.4 404.3h0M209.5 387.5h0M209.5 402h0M209.6 399.4h0M209.6 411.2h0M209.7 389.9h0M209.7 393.2h0M209.7 409.8h0M209.8 401.2h0M210 397.6h0M210 401.6h0M210 403.8h0M210 416h0M210.1 409.1h0M210.2 416.3h0M210.4 385.3h0M210.4 385.5h0M210.4 403.3h0M210.4 405.4h0M210.4 413.6h0M210.5 400.7h0M210.6 382.5h0M210.6 390h0M210.7 396h0M210.7 408h0M210.8 409.2h0M210.8 415.9h0M210.9 394.9h0M210.9 397.8h0M210.9 399.5h0M210.9 402.6h0M210.9 404.9h0M211 373.4h0M211 382.9h0M211 397.3h0M211 402h0M211.1 384.7h0M211.1 389.2h0M211.1 392.3h0M211.1 400.5h0M211.2 383.6h0M211.2 385.1h0M211.2 389.9h0M211.2 393.1h0M211.3 364.4h0M211.3 387.3h0M211.3 403.1h0M211.4 387.4h0M211.4 397.5h0M211.5 392.6h0M211.5 408.4h0M211.6 395.3h0M211.6 400h0M211.6 402.1h0M211.7 386.7h0M211.7 395.4h0M211.7 404.8h0M211.7 411.7h0M211.8 384.4h0M211.8 395.6h0M211.8 399.8h0M211.8 409.1h0M211.9 384h0M211.9 394.3h0M211.9 414.3h0M212 386.5h0M212 386.6h0M212 393h0M212 396.3h0M212 399.4h0M212 400h0M212.1 384.4h0M212.1 387.9h0M212.1 389.3h0M212.1 392.2h0M212.1 411.9h0M212.2 385.2h0M212.2 388.1h0M212.2 395.2h0M212.2 399.5h0M212.3 388h0M212.4 416.4h0M212.6 386.8h0M212.6 389.3h0M212.6 390.2h0M212.6 399.4h0M212.7 382.1h0M212.7 384.2h0M212.7 385.8h0M212.7 391.4h0M212.7 391.7h0M212.7 392.3h0M212.7 392.5h0M212.8 385.7h0M212.8 387h0M212.8 390.8h0M212.8 393h0M212.9 387.1h0M212.9 391.7h0M212.9 400.9h0M212.9 404h0M212.9 404.7h0M212.9 407.4h0M213 384.1h0M213 392.4h0M213 400h0M213 401.2h0M213 402.3h0M213 404.4h0M213 405.4h0M213.1 382.3h0M213.1 385.6h0M213.1 385.8h0M213.1 398.2h0M213.1 410.4h0M213.1 414.5h0M213.2 390.5h0M213.2 395.5h0M213.2 411.5h0M213.3 384.2h0M213.3 385.4h0M213.3 387.8h0M213.3 394.3h0M213.3 394.9h0M213.3 403h0M213.4 387.3h0M213.4 387.9h0M213.4 390.6h0M213.4 392.1h0M213.4 392.6h0M213.4 393.2h0M213.5 385.1h0M213.5 385.4h0M213.5 387h0M213.5 409.1h0M213.6 386.9h0M213.6 387.9h0M213.6 388.1h0M213.6 389.1h0M213.6 390h0M213.6 391.1h0M213.6 391.5h0M213.6 397.2h0M213.6 403.2h0M213.6 404.1h0M213.6 404.2h0M213.6 405.4h0M213.6 407.6h0M213.6 410h0M213.7 383h0M213.7 386.8h0M213.7 388h0M213.7 389.9h0M213.7 390.9h0M213.7 405.6h0M213.7 408.2h0M213.7 415h0M213.7 415.9h0M213.8 380.7h0M213.8 382.3h0M213.8 383.3h0M213.8 388h0M213.8 392.5h0M213.8 393.7h0M213.8 395.9h0M213.8 407.1h0M213.9 384.3h0M213.9 384.7h0M213.9 389.3h0M213.9 390.4h0M213.9 390.7h0M213.9 398.5h0M213.9 401.1h0M213.9 408.3h0M214 378.7h0M214 383.4h0M214 384.7h0M214 386.3h0M214 386.8h0M214 387.5h0M214 387.6h0M214 391.7h0M214 392.3h0M214 401.6h0M214.1 384.8h0M214.1 385.2h0M214.1 385.4h0M214.1 386.9h0M214.1 387.2h0M214.1 391.3h0M214.1 391.8h0M214.1 397.7h0M214.1 402.5h0M214.1 403.6h0M214.2 384.1h0M214.2 385.3h0M214.2 387.4h0M214.2 388h0M214.2 395.2h0M214.2 395.7h0M214.3 385.8h0M214.3 399.4h0M214.3 401.8h0M214.3 410.3h0M214.4 383.6h0M214.4 386.1h0M214.4 407h0M214.4 407.1h0M214.5 382.4h0M214.5 386.8h0M214.5 400.9h0M214.5 405.9h0M214.6 385.2h0M214.6 385.4h0M214.6 389.4h0M214.6 395.6h0M214.6 396.8h0M214.6 397.7h0M214.6 403.6h0M214.6 410h0M214.6 414.7h0M214.7 383.6h0M214.7 385.7h0M214.7 390.3h0M214.7 402.1h0M214.7 405.9h0M214.7 411.9h0M214.7 416h0M214.8 398.6h0M214.9 386.1h0M214.9 386.7h0M214.9 394.6h0M215 379.3h0M215 381h0M215 384.9h0M215 385.3h0M215 386.4h0M215 386.5h0M215 387.4h0M215 388.4h0M215 390.5h0M215 390.6h0M215 392.3h0M215 393.4h0M215 393.6h0M215 394h0M215 398.2h0M215 400.5h0M215.1 384.2h0M215.1 386.4h0M215.1 387.5h0M215.1 388.7h0M215.1 389h0M215.1 391.1h0M215.1 393.6h0M215.1 394.7h0M215.1 396.8h0M215.1 398h0M215.1 400.5h0M215.1 406.4h0M215.1 407.5h0M215.2 380.4h0M215.2 385.1h0M215.2 386.8h0M215.2 388.1h0M215.2 388.3h0M215.2 388.4h0M215.2 389.2h0M215.2 395.4h0M215.2 411.2h0M215.2 412.6h0M215.3 379.6h0M215.3 387.4h0M215.3 393.1h0M215.3 401h0M215.3 401.3h0M215.3 408.8h0M215.3 412.2h0M215.3 416.6h0M215.4 378.5h0M215.4 384h0M215.4 388.9h0M215.4 389.5h0M215.4 390.6h0M215.4 410.5h0M215.5 384.1h0M215.5 384.3h0M215.5 384.7h0M215.5 388.8h0M215.5 392.1h0M215.5 399.6h0M215.5 405.6h0M215.5 408.6h0M215.6 385.2h0M215.6 389.4h0M215.6 390h0M215.6 390.1h0M215.6 396.8h0M215.6 402.4h0M215.7 382.5h0M215.7 388h0M215.7 388.6h0M215.7 388.7h0M215.7 390.6h0M215.7 393h0M215.7 393.4h0M215.7 394.4h0M215.8 386.4h0M215.8 386.6h0M215.8 387.4h0M215.8 387.8h0M215.8 388.1h0M215.8 389h0M215.8 389.8h0M215.8 390.1h0M215.8 390.5h0M215.8 393.1h0M215.8 401.2h0M215.9 382.7h0M215.9 385.3h0M215.9 388.4h0M215.9 391.3h0M215.9 394.1h0M215.9 410.5h0M216 382.8h0M216 384.7h0M216 384.9h0M216 385.5h0M216 385.7h0M216 386.8h0M216 387.7h0M216 389.3h0M216 391.3h0M216 391.9h0M216 396.6h0M216 397.1h0M216 401.9h0M216 410.2h0M216 416.1h0M216.1 378.5h0M216.1 384.6h0M216.1 386h0M216.1 388.2h0M216.1 388.3h0M216.1 390h0M216.1 390.3h0M216.1 395.2h0M216.1 411.5h0M216.2 379.5h0M216.2 384.1h0M216.2 384.5h0M216.2 388.2h0M216.2 389.9h0M216.2 393.3h0M216.2 399.1h0M216.2 404.4h0M216.2 405.7h0M216.2 411.4h0M216.3 384.9h0M216.3 385.3h0M216.3 385.7h0M216.3 386.3h0M216.3 387.9h0M216.3 390.3h0M216.3 396.2h0M216.3 397.8h0M216.3 399.1h0M216.4 384.1h0M216.4 389.9h0M216.4 390.6h0M216.4 391.2h0M216.4 408.8h0M216.5 385.8h0M216.5 387.3h0M216.5 387.7h0M216.5 389.9h0M216.5 397.6h0M216.5 401.5h0M216.5 403h0M216.6 385.1h0M216.6 387.5h0M216.6 388.6h0M216.6 401.1h0M216.6 405.7h0M216.7 384.5h0M216.7 385.2h0M216.7 389.3h0M216.7 403.9h0M216.7 409.9h0M216.8 385.6h0M216.8 386.5h0M216.8 388.6h0M216.8 389.8h0M216.8 390.1h0M216.8 391.6h0M216.8 392.8h0M216.8 396.2h0M216.8 397.8h0M216.8 414.2h0M216.9 384.9h0M216.9 385.9h0M216.9 386.3h0M216.9 387.1h0M216.9 388.1h0M216.9 389.5h0M216.9 394.5h0M216.9 396.6h0M216.9 396.8h0M217 380.9h0M217 383.1h0M217 383.7h0M217 384.5h0M217 385.8h0M217 387h0M217 390.1h0M217 405.3h0M217.1 383.2h0M217.1 384.8h0M217.1 388h0M217.1 388.7h0M217.1 390.4h0M217.1 390.9h0M217.1 392.2h0M217.1 393.6h0M217.1 396.9h0M217.1 397.7h0M217.1 399.5h0M217.1 399.7h0M217.1 400.5h0M217.1 410.2h0M217.2 383.4h0M217.2 383.9h0M217.2 388.8h0M217.2 389.4h0M217.2 394.7h0M217.2 396.3h0M217.2 398.8h0M217.2 406.9h0M217.3 386.3h0M217.3 386.4h0M217.3 386.8h0M217.3 389.4h0M217.3 390h0M217.3 403.1h0M217.3 406h0M217.3 415.5h0M217.4 383.7h0M217.4 384.7h0M217.4 387.2h0M217.4 400.6h0M217.4 403.8h0M217.5 384.3h0M217.5 384.5h0M217.5 385.3h0M217.5 387.5h0M217.5 389h0M217.5 389.7h0M217.5 389.8h0M217.5 393.2h0M217.5 394.6h0M217.5 403.3h0M217.5 409.1h0M217.5 415.7h0M217.6 383.9h0M217.6 384.4h0M217.6 385.3h0M217.6 385.7h0M217.6 387.6h0M217.6 389.6h0M217.6 390h0M217.6 390.8h0M217.6 393.2h0M217.6 400.4h0M217.6 401h0M217.6 410.9h0M217.7 386.2h0M217.7 388.8h0M217.7 393.5h0M217.7 394.5h0M217.7 396.9h0M217.7 399.7h0M217.7 411.9h0M217.7 414.4h0M217.8 381.6h0M217.8 384.3h0M217.8 385.6h0M217.8 386.9h0M217.8 387.7h0M217.8 389.7h0M217.8 394.3h0M217.8 396.5h0M217.8 400.8h0M217.9 382.8h0M217.9 383.6h0M217.9 384.6h0M217.9 389.8h0M217.9 391.1h0M217.9 392.3h0M217.9 401.7h0M217.9 403.4h0M218 383.2h0M218 383.8h0M218 384.3h0M218 385.1h0M218 387.6h0M218 387.9h0M218 389.4h0M218 392.9h0M218 394.8h0M218 397.6h0M218 403h0M218.1 384.6h0M218.1 386.2h0M218.1 386.9h0M218.1 389.8h0M218.1 390.2h0M218.1 397.2h0M218.1 403.4h0M218.2 382.1h0M218.2 383.2h0M218.2 385.4h0M218.2 386h0M218.2 389.3h0M218.2 389.5h0M218.2 402.1h0M218.2 415h0M218.3 384.2h0M218.3 386.7h0M218.3 387.4h0M218.3 393.2h0M218.3 394.6h0M218.3 408.1h0M218.4 387.3h0M218.4 391.5h0M218.4 404.5h0M218.5 386h0M218.5 390h0M218.5 390.5h0M218.5 394.1h0M218.5 396.6h0M218.5 399.5h0M218.5 401.1h0M218.5 411.5h0M218.6 384.6h0M218.6 386.5h0M218.6 386.7h0M218.6 388.2h0M218.6 389.7h0M218.6 398.2h0M218.6 411.6h0M218.6 414.1h0M218.7 385.3h0M218.7 388.8h0M218.7 390.8h0M218.7 392.6h0M218.7 399.2h0M218.8 382.5h0M218.8 384.3h0M218.8 386.6h0M218.8 391.8h0M218.8 392.6h0M218.8 393.2h0M218.9 384.1h0M218.9 384.9h0M218.9 389.4h0M218.9 390.4h0M218.9 391.1h0M218.9 391.5h0M218.9 393.8h0M218.9 396.4h0M219 381.1h0M219 383.3h0M219 387h0M219 387.9h0M219 388.7h0M219 401.1h0M219 408.2h0M219.1 382.2h0M219.1 382.8h0M219.1 383.5h0M219.1 385.2h0M219.1 386.8h0M219.1 388h0M219.1 391.4h0M219.1 394.6h0M219.1 402.2h0M219.1 412.4h0M219.2 387.1h0M219.2 387.2h0M219.2 389h0M219.2 395.1h0M219.2 398.6h0M219.2 400.5h0M219.2 401h0M219.3 386h0M219.3 387.8h0M219.3 388.2h0M219.3 389.3h0M219.3 392.4h0M219.3 400.1h0M219.3 400.5h0M219.4 383.8h0M219.4 386.4h0M219.4 390.9h0M219.4 392.8h0M219.4 396.4h0M219.4 405.7h0M219.4 410.7h0M219.5 384.6h0M219.5 386h0M219.5 387h0M219.5 394.3h0M219.5 403.5h0M219.5 407.1h0M219.5 409h0M219.6 382.5h0M219.6 384.9h0M219.6 387.8h0M219.6 388.8h0M219.6 391h0M219.6 391.3h0M219.6 393.9h0M219.6 398.6h0M219.6 402.7h0M219.6 414.1h0M219.7 381.7h0M219.7 387.7h0M219.7 389.6h0M219.7 395.1h0M219.7 397.3h0M219.7 397.9h0M219.7 402.1h0M219.8 380.3h0M219.8 381.8h0M219.8 384.6h0M219.8 387.6h0M219.8 387.8h0M219.8 388.5h0M219.8 392.1h0M219.8 393.3h0M219.8 398.8h0M219.8 403.7h0M219.8 411.5h0M219.9 385.2h0M219.9 386.4h0M219.9 387.2h0M219.9 387.5h0M219.9 390.7h0M219.9 392.2h0M219.9 395.3h0M220 383.5h0M220 384.7h0M220 390.9h0M220 405.1h0M220.1 377.8h0M220.1 387.3h0M220.1 389.3h0M220.1 390.7h0M220.2 386.8h0M220.2 390.6h0M220.2 391.5h0M220.2 396.4h0M220.2 397.8h0M220.2 399.9h0M220.2 400.3h0M220.2 409.5h0M220.3 386.8h0M220.3 391.2h0M220.3 391.5h0M220.3 392.3h0M220.3 393.1h0M220.3 395.4h0M220.3 400.5h0M220.3 400.9h0M220.3 403.1h0M220.3 403.4h0M220.3 407.9h0M220.4 383.4h0M220.4 383.5h0M220.4 383.7h0M220.4 386.1h0M220.4 386.5h0M220.4 386.8h0M220.4 387.2h0M220.4 389.2h0M220.4 389.9h0M220.4 394.1h0M220.4 406.3h0M220.4 411.6h0M220.4 415.6h0M220.5 386.2h0M220.5 398.8h0M220.5 413.4h0M220.6 384.1h0M220.6 386.9h0M220.6 392.1h0M220.6 410.1h0M220.7 382.2h0M220.7 385.4h0M220.7 387.7h0M220.7 390.4h0M220.7 395.6h0M220.7 396.7h0M220.7 406.4h0M220.7 411.6h0M220.8 373h0M220.8 387.1h0M220.8 390.8h0M220.8 401.7h0M220.8 405h0M220.8 408.9h0M220.9 383.6h0M220.9 384h0M220.9 384.2h0M220.9 414.8h0M221 383.7h0M221 385.1h0M221 388.4h0M221 389.1h0M221 391.5h0M221.1 384h0M221.1 389.2h0M221.1 395h0M221.1 407.3h0M221.2 384.5h0M221.2 389.3h0M221.2 390.6h0M221.2 393.5h0M221.2 401.7h0M221.2 414.1h0M221.3 383.1h0M221.3 384.8h0M221.3 385.5h0M221.3 389h0M221.3 391.5h0M221.3 396.3h0M221.3 409.2h0M221.4 384.5h0M221.4 391.2h0M221.4 397.8h0M221.4 402.7h0M221.4 404.4h0M221.5 385.3h0M221.5 394.1h0M221.5 396.8h0M221.5 407.3h0M221.5 409.5h0M221.6 386.5h0M221.6 389.1h0M221.6 392.8h0M221.6 393.5h0M221.6 394.2h0M221.6 394.8h0M221.6 407.8h0M221.7 395.3h0M221.7 401.4h0M221.8 382.1h0M221.8 387.7h0M221.8 391.2h0M221.8 409.2h0M221.8 413.7h0M221.9 392h0M222 387.1h0M222 391.3h0M222 402.8h0M222 414.4h0M222.1 400.1h0M222.1 408.5h0M222.2 373.1h0M222.2 381.9h0M222.2 386.9h0M222.2 391.1h0M222.2 392.3h0M222.2 393.1h0M222.2 410.8h0M222.3 384.9h0M222.3 387.3h0M222.3 388.7h0M222.3 389.2h0M222.3 390h0M222.3 405.2h0M222.3 413.2h0M222.4 385.3h0M222.4 388.9h0M222.4 390.7h0M222.4 391.7h0M222.4 394.3h0M222.4 395.2h0M222.4 399.3h0M222.4 410.8h0M222.5 383.9h0M222.5 393.6h0M222.5 395.4h0M222.6 383.6h0M222.6 384.9h0M222.6 405.9h0M222.6 412.4h0M222.7 386h0M222.7 389.8h0M222.8 390.8h0M222.9 387h0M222.9 394.2h0M223 386.3h0M223 390.3h0M223 410h0M223.1 387.7h0M223.1 394.6h0M223.1 416h0M223.2 360.9h0M223.2 392.3h0M223.2 392.5h0M223.2 395h0M223.2 404.7h0M223.3 387.7h0M223.3 394.2h0M223.4 390.1h0M223.4 390.4h0M223.4 408.4h0M223.5 391h0M223.5 392.1h0M223.5 395.7h0M223.6 383.4h0M223.6 388.4h0M223.6 389.3h0M223.6 401.2h0M223.6 410.5h0M223.7 384.5h0M223.8 403.9h0M223.8 406.7h0M223.8 414.9h0M223.9 385.3h0M223.9 393h0M223.9 395h0M223.9 409.4h0M224 399.5h0M224.1 396.2h0M224.1 415.6h0M224.2 391.5h0M224.2 396.1h0M224.3 386h0M224.4 394h0M224.4 410.5h0M224.4 413.2h0M224.5 390.4h0M224.5 393.3h0M224.5 398.9h0M224.5 401.7h0M224.6 384.6h0M224.6 414.1h0M224.7 389.9h0M224.7 391.1h0M224.7 402h0M224.8 392h0M224.8 399.3h0M224.9 390.5h0M224.9 408.3h0M225.1 394.6h0M225.1 412.6h0M225.2 384.7h0M225.2 394.7h0M225.4 387.9h0M225.4 405.2h0M225.5 382.8h0M225.5 393.6h0M225.5 405.8h0M225.6 392.1h0M225.6 414.9h0M225.7 396.6h0M225.7 415.9h0M225.8 389.4h0M225.8 394.3h0M225.8 398.5h0M225.8 400.4h0M225.8 409.4h0M225.9 386.2h0M225.9 411.9h0M226.1 386.2h0M226.1 414.3h0M226.2 396.7h0M226.2 403.3h0M226.2 404.5h0M226.3 398.1h0M226.4 390.4h0M226.7 400.5h0M226.8 384.1h0M226.8 401.4h0M226.9 389.2h0M226.9 393.9h0M226.9 413.6h0M227.1 386.1h0M227.2 413.3h0M227.3 381.8h0M227.3 404.1h0M227.4 383.4h0M227.4 410.8h0M227.6 389.2h0M227.7 411.1h0M227.8 415.2h0M227.9 401.7h0M228 408.9h0M228.2 404h0M228.5 402.1h0M228.5 404.5h0M228.6 406.6h0M228.6 406.9h0M228.8 395.5h0M229 380.3h0M229 403.3h0M229.1 406.6h0M229.1 408.2h0M229.1 414.5h0M229.2 400.2h0M230.2 402.7h0M230.2 410.1h0M230.3 406h0M230.4 403.8h0M230.6 387.3h0M230.9 405.3h0M231.1 394.9h0M231.3 390h0M231.4 401.3h0M231.4 410.2h0M231.4 414.1h0M231.5 387.6h0M231.7 393.8h0M232 404.8h0M232.1 388.9h0M232.1 398.1h0M232.1 407.5h0M232.5 411.9h0M232.6 394h0M232.7 381.6h0M232.7 392.4h0M232.7 411.5h0M233.1 407.8h0M233.2 403.2h0M233.2 414h0M233.3 404.2h0M233.4 415.7h0M233.6 401.9h0M233.6 410h0M233.9 394h0M233.9 399.8h0M234 396h0M234.3 408.1h0M234.4 416.5h0M234.6 401.3h0M234.9 394.1h0M234.9 414.5h0M235.5 407.3h0M235.7 406.6h0M236.2 414.8h0M236.3 386.6h0M236.3 407.7h0M236.9 393.1h0M236.9 412.6h0M237 397h0M237.1 391.2h0M237.1 402.8h0M237.2 378h0M237.2 411.3h0M237.4 383h0M237.4 415.2h0M237.6 376.1h0M237.6 377.1h0M237.7 390.1h0M237.8 407.7h0M237.8 412.5h0M237.9 403.5h0M238.1 357.3h0M238.2 415.3h0M238.5 398.7h0M238.6 407.1h0M238.7 378.6h0M238.8 400h0M238.8 401.2h0M239.1 405.2h0M239.4 376.8h0M239.6 401.4h0M239.6 416.4h0M239.8 393.7h0M239.8 411h0M239.9 399.6h0M240 395.8h0M240.1 385.1h0M240.2 375.5h0M240.2 384.5h0M240.2 406.4h0M240.3 396.8h0M240.3 407h0" stroke-width="1.0" stroke-linecap="round" stroke-opacity="1" fill="none" filter="url(#bl)"/>
<rect x="175.4" y="388.8" width="32.39999999999999" height="2.5"/>
<rect x="205.2" y="388.8" width="2.6" height="28.899999999999988"/>
<rect x="175.4" y="390" width="2.3" height="27.69999999999999"/>
<rect x="175.4" y="415.5" width="31.099999999999994" height="2.2"/>
<rect x="175.9" y="351.5" width="65.9" height="65.69999999999999" fill="none" stroke-width="1.1"/>
<rect x="208.7" y="378.7" width="22.200000000000017" height="9.800000000000011" fill="none" stroke-width="1.6"/>
<text transform="translate(179.4 360.2) scale(1.1 1)" font-size="8.8" stroke-width=".3">0.21%</text>
<text transform="translate(179.4 372) scale(1.1 1)" font-size="8.8" stroke-width=".3">(43.9)</text>
<clipPath id="c299"><rect x="300.5" y="383.4" width="28.80000000000001" height="34.0"/></clipPath>
<g clip-path="url(#c299)" fill="none" stroke="#aaa" stroke-width="0.5"><ellipse cx="301.5" cy="417.4" rx="11" ry="8"/><ellipse cx="301.5" cy="417.4" rx="17" ry="13.5"/><ellipse cx="301.5" cy="417.4" rx="23" ry="19"/><ellipse cx="301.5" cy="417.4" rx="27.5" ry="23.5"/></g>
<path d="M300.5 382.8h0M300.6 390.1h0M300.7 393.1h0M300.9 382.8h0M301 380h0M301.4 385.7h0M301.6 383.9h0M301.6 389.5h0M301.8 391.6h0M302.2 412.7h0M302.4 387.7h0M302.7 384.9h0M302.9 384.3h0M303.3 385.6h0M303.5 400.2h0M303.6 383.1h0M303.8 390.9h0M304.1 384.2h0M304.3 386.1h0M304.6 379.9h0M304.9 383.1h0M305 381.1h0M305.3 384.2h0M305.5 376.9h0M305.5 381.5h0M305.6 378.3h0M305.6 379.1h0M305.7 382.6h0M306.1 392.6h0M306.2 392.4h0M306.6 383.2h0M306.8 383.6h0M306.8 385.9h0M307 384.5h0M307.2 397.6h0M307.3 412.4h0M307.5 385.2h0M307.6 382.9h0M308.1 387.8h0M308.3 387.5h0M308.4 384.2h0M308.4 397.3h0M308.5 385.3h0M308.7 380.6h0M309.3 386.5h0M309.4 389h0M309.5 387.9h0M309.5 394.7h0M309.7 379.1h0M309.8 380.2h0M310 385.8h0M310.2 404.4h0M310.4 393.5h0M310.5 377.8h0M310.5 381.2h0M311.2 377.6h0M311.5 393.8h0M311.6 402.6h0M312 382.8h0M312.3 387.3h0M312.7 383.6h0M313 387.2h0M313 404.1h0M313.1 378.8h0M313.3 388.6h0M313.4 383.2h0M313.7 381.1h0M314 400.7h0M314 410.9h0M314.2 382.8h0M314.2 384.3h0M314.4 394h0M314.5 378.4h0M314.5 385.9h0M314.5 387.5h0M314.6 373.3h0M314.8 375.6h0M314.8 378.5h0M315 380.1h0M315 382.8h0M315.1 377.4h0M315.2 416.8h0M315.3 384.6h0M315.4 413.3h0M315.7 408.2h0M316.1 393.2h0M316.2 382.9h0M316.3 378.3h0M316.3 390.3h0M316.3 410h0M316.4 390.8h0M316.7 378.5h0M316.7 379.5h0M316.8 357.7h0M316.9 375.8h0M317 366.9h0M317 383.7h0M317 412.6h0M317.2 381.4h0M317.8 383.6h0M317.8 404.4h0M317.9 386.7h0M318.1 387.9h0M318.2 385.5h0M318.4 403.5h0M318.5 380.4h0M318.5 385h0M318.6 386.1h0M318.9 406.8h0M319.1 383.8h0M319.2 393.8h0M319.2 408h0M319.3 382.9h0M319.5 411.6h0M319.5 416.5h0M319.6 405.2h0M319.7 386.6h0M319.7 414.4h0M319.7 415.2h0M319.8 389h0M319.8 411.4h0M319.8 416.5h0M320 404.2h0M320 406.9h0M320 413.2h0M320.3 379.7h0M320.4 374.8h0M320.6 417.1h0M320.7 393.5h0M320.7 397.1h0M320.9 391.3h0M320.9 392.4h0M321.1 379.4h0M321.1 383.8h0M321.1 400.8h0M321.2 408.9h0M321.5 387h0M321.7 403.4h0M321.9 373.5h0M322 384.7h0M322 398.2h0M322.1 355.1h0M322.1 384.4h0M322.1 400.6h0M322.1 404h0M322.1 413h0M322.2 371.6h0M322.2 411.8h0M322.3 404.9h0M322.5 383h0M322.7 414.6h0M322.9 395h0M323 385.4h0M323 386h0M323.1 413.5h0M323.2 402.6h0M323.2 405.8h0M323.3 387.9h0M323.3 416.8h0M323.4 403.5h0M323.5 398h0M323.5 412.4h0M323.6 391.2h0M323.6 416.8h0M323.7 402h0M323.8 387.8h0M323.8 405.1h0M323.9 410.5h0M324 379h0M324.1 383.7h0M324.1 393.2h0M324.2 414.6h0M324.3 407.7h0M324.5 408.9h0M324.5 412.7h0M324.6 413.3h0M324.7 395.9h0M324.8 402.3h0M324.9 370.8h0M324.9 380.9h0M325 382.9h0M325 397.6h0M325 415.6h0M325.1 384.3h0M325.2 409.7h0M325.2 411.4h0M325.3 388.3h0M325.3 392.9h0M325.3 401.3h0M325.3 403.4h0M325.3 409.1h0M325.3 414h0M325.4 385.9h0M325.5 397.4h0M325.7 383.9h0M325.7 405.7h0M325.7 411.6h0M325.8 405.4h0M325.8 408h0M325.9 385.1h0M325.9 413.1h0M326 383.1h0M326 409.8h0M326.1 395.2h0M326.3 381.4h0M326.4 401.4h0M326.4 402.7h0M326.4 406.7h0M326.6 388.7h0M326.7 397.5h0M326.8 394.6h0M326.9 381h0M326.9 395.7h0M326.9 401.9h0M327 401.5h0M327.1 387h0M327.1 389.5h0M327.3 400.2h0M327.3 402.9h0M327.4 405.4h0M327.5 385.1h0M327.5 395.5h0M327.6 398.3h0M327.7 386.1h0M327.9 390.5h0M327.9 393.7h0M328 383.3h0M328 393.2h0M328.1 383.8h0M328.2 386.9h0M328.4 378.7h0M328.4 379.5h0M328.5 385.2h0M328.5 390.8h0M328.6 389.5h0M328.7 388.1h0M328.9 385.6h0M329.1 386.7h0M329.4 383.3h0M329.8 382.7h0M330 383.8h0M330.6 384.5h0M331.2 387.6h0M331.9 379.2h0M332.4 380.2h0M332.7 376.9h0M332.7 380.5h0M332.7 398.1h0M332.8 407.5h0M333 415h0M333.3 384.8h0M333.3 385.7h0M333.4 375.2h0M333.5 392.7h0M333.6 402.7h0M333.8 357.9h0M333.8 373h0M333.8 380.4h0M333.8 380.6h0M334.2 378.3h0M334.4 417.1h0M334.9 384.3h0M334.9 408.3h0M335 380.4h0M335 380.5h0M335.2 388.3h0M335.5 393.3h0M335.6 384h0M335.8 392.5h0M335.9 385.7h0M336 385.1h0M336 386.1h0M336 393.2h0M336 402.8h0M336 413.5h0M336.2 388.8h0M336.2 396h0M336.4 384.3h0M336.4 387.9h0M336.4 403.5h0M336.6 384.2h0M336.7 393h0M336.8 389.4h0M336.8 390.8h0M336.9 379.8h0M336.9 391.6h0M336.9 395.6h0M337.3 378.3h0M337.3 384.2h0M337.4 385.3h0M337.4 402.6h0M337.5 388.3h0M337.6 383.6h0M337.6 386.8h0M337.6 387.1h0M337.6 390.4h0M337.7 383.5h0M337.7 384.7h0M337.7 385h0M337.7 387.3h0M337.7 390.5h0M337.8 396.3h0M337.9 382.9h0M337.9 384.3h0M337.9 385.7h0M338 384.5h0M338 387.1h0M338 390.9h0M338.1 381.3h0M338.1 396.7h0M338.1 398.6h0M338.3 384h0M338.3 391h0M338.3 407.5h0M338.4 383.2h0M338.4 385.7h0M338.4 404.7h0M338.5 375.9h0M338.5 384.7h0M338.5 386.7h0M338.5 390.8h0M338.6 386.1h0M338.6 387.1h0M338.6 387.8h0M338.6 404.9h0M338.7 388.9h0M338.7 389.7h0M338.7 390.6h0M338.7 392.8h0M338.7 394.2h0M338.7 397.9h0M338.8 379h0M338.9 377.8h0M338.9 386.8h0M338.9 391h0M338.9 398.4h0M338.9 400.8h0M339 380.8h0M339 384.4h0M339 393.7h0M339.1 384.1h0M339.1 388.2h0M339.1 407.3h0M339.2 388.3h0M339.2 389.9h0M339.4 391.8h0M339.4 405.3h0M339.5 384.5h0M339.5 397.2h0M339.6 383.5h0M339.6 390.5h0M339.6 393h0M339.6 393.4h0M339.6 393.5h0M339.6 394.6h0M339.6 403.8h0M339.6 411.5h0M339.7 383.8h0M339.7 384.5h0M339.7 386h0M339.7 387.4h0M339.7 395.8h0M339.7 397.3h0M339.8 384.3h0M339.8 387.9h0M339.8 389.2h0M339.8 389.7h0M339.8 390.6h0M339.8 390.9h0M339.8 391.6h0M339.8 392.4h0M339.8 402.3h0M339.8 404.2h0M339.9 380.1h0M339.9 386.6h0M339.9 389.7h0M339.9 393.3h0M340 387.8h0M340 392.6h0M340 394.6h0M340 407.2h0M340 415.5h0M340.1 390.4h0M340.1 397.1h0M340.2 391.8h0M340.2 398.7h0M340.2 405h0M340.3 382.7h0M340.3 385.8h0M340.3 390.2h0M340.3 391.8h0M340.3 392.1h0M340.3 392.7h0M340.3 396.2h0M340.3 396.3h0M340.3 397.2h0M340.4 388.6h0M340.4 388.7h0M340.4 389h0M340.4 391.1h0M340.4 393.6h0M340.4 394.7h0M340.4 398h0M340.5 384.3h0M340.5 388.2h0M340.5 392.3h0M340.5 393.2h0M340.5 395.6h0M340.5 396.4h0M340.5 399.8h0M340.5 404.6h0M340.5 415.6h0M340.6 384.2h0M340.6 386.8h0M340.6 388.3h0M340.6 389.5h0M340.6 392.8h0M340.6 398.8h0M340.7 385.9h0M340.7 387.4h0M340.7 388.4h0M340.7 388.5h0M340.7 391h0M340.7 393.3h0M340.7 393.9h0M340.7 394.2h0M340.7 394.7h0M340.8 380.9h0M340.8 387.7h0M340.8 394.8h0M340.8 394.9h0M340.9 390h0M340.9 390.1h0M340.9 390.5h0M340.9 392.7h0M340.9 394h0M340.9 395.7h0M340.9 396.5h0M340.9 398.1h0M341 385.6h0M341 389.2h0M341 394h0M341 395.5h0M341 395.7h0M341 400.5h0M341 403.6h0M341.1 383.2h0M341.1 384.5h0M341.1 387h0M341.1 388h0M341.1 389h0M341.1 392.3h0M341.1 397.3h0M341.2 388.3h0M341.2 389.5h0M341.2 390.5h0M341.2 391h0M341.2 392.3h0M341.2 397.1h0M341.2 399.4h0M341.2 407.1h0M341.3 384.5h0M341.3 385.7h0M341.3 388.5h0M341.3 395.1h0M341.4 386.9h0M341.4 389.3h0M341.4 389.5h0M341.4 391h0M341.4 392.6h0M341.5 385.9h0M341.5 389.3h0M341.5 389.7h0M341.5 389.9h0M341.5 391.3h0M341.5 391.5h0M341.5 391.9h0M341.5 394.3h0M341.5 395.1h0M341.5 410.5h0M341.6 384.7h0M341.6 384.8h0M341.6 385.6h0M341.6 386h0M341.6 388.2h0M341.6 390h0M341.6 391h0M341.6 391.7h0M341.6 391.9h0M341.6 393.8h0M341.6 404.4h0M341.6 406.1h0M341.7 383.4h0M341.7 384.8h0M341.7 386.9h0M341.7 389.8h0M341.7 390.2h0M341.7 390.8h0M341.7 396.4h0M341.7 398h0M341.7 398.2h0M341.7 399.4h0M341.7 405.1h0M341.7 405.2h0M341.8 386.1h0M341.8 386.6h0M341.8 387.4h0M341.8 389.2h0M341.8 390.9h0M341.8 391.7h0M341.8 392.1h0M341.8 393.3h0M341.8 394.8h0M341.8 396.8h0M341.8 399.9h0M341.8 401.9h0M341.8 409h0M341.9 383.9h0M341.9 384.4h0M341.9 387.7h0M341.9 391h0M341.9 392h0M341.9 394.9h0M341.9 395.3h0M341.9 397.2h0M341.9 415.2h0M342 383.3h0M342 384.8h0M342 388.2h0M342 389.2h0M342 389.5h0M342 389.9h0M342 390.8h0M342 391.5h0M342 392.4h0M342 394.6h0M342 399.1h0M342 401h0M342 403.9h0M342 414.1h0M342.1 388.6h0M342.1 388.9h0M342.1 389h0M342.1 389.1h0M342.1 389.9h0M342.1 391.1h0M342.1 391.3h0M342.1 398.4h0M342.1 400.4h0M342.2 383.7h0M342.2 385.3h0M342.2 385.8h0M342.2 388.2h0M342.2 389.7h0M342.2 395.1h0M342.2 396.2h0M342.2 397.1h0M342.2 399.4h0M342.2 403.7h0M342.2 410.5h0M342.3 389.5h0M342.3 390.8h0M342.3 391.4h0M342.3 392h0M342.3 392.9h0M342.3 393.6h0M342.3 398h0M342.3 400.1h0M342.3 402h0M342.3 404.4h0M342.3 405.3h0M342.4 385h0M342.4 387h0M342.4 389.6h0M342.4 391.6h0M342.4 393.2h0M342.4 394.6h0M342.4 396.9h0M342.4 397.9h0M342.4 399.6h0M342.4 401.6h0M342.4 404.4h0M342.5 383.8h0M342.5 387.3h0M342.5 388h0M342.5 392.4h0M342.5 392.6h0M342.5 393.8h0M342.5 395.1h0M342.5 399.5h0M342.5 405.5h0M342.6 385.1h0M342.6 385.2h0M342.6 389.5h0M342.6 390.7h0M342.6 391.7h0M342.6 393.2h0M342.6 394.2h0M342.6 394.6h0M342.6 396.2h0M342.6 396.4h0M342.6 400.2h0M342.6 410.5h0M342.7 384.6h0M342.7 385.5h0M342.7 386.7h0M342.7 389.7h0M342.7 390.4h0M342.7 391.5h0M342.7 393h0M342.7 393.3h0M342.7 394.1h0M342.7 395.8h0M342.7 398.1h0M342.7 399h0M342.7 409.1h0M342.7 415h0M342.8 385.7h0M342.8 387.4h0M342.8 388.5h0M342.8 388.7h0M342.8 388.8h0M342.8 390.1h0M342.8 393.5h0M342.8 394.2h0M342.8 394.3h0M342.8 395.3h0M342.8 414.6h0M342.8 416.2h0M342.9 388.4h0M342.9 390.8h0M342.9 391.8h0M342.9 392.4h0M342.9 393.5h0M342.9 395.6h0M342.9 395.7h0M342.9 399h0M342.9 401.5h0M342.9 403.1h0M343 387.8h0M343 389.6h0M343 391.1h0M343 392h0M343 395.5h0M343.1 388.1h0M343.1 389.3h0M343.1 393h0M343.1 394.2h0M343.1 394.7h0M343.1 395.9h0M343.1 396.8h0M343.1 397.8h0M343.1 398.3h0M343.1 410.5h0M343.2 383.6h0M343.2 392.2h0M343.2 395.7h0M343.2 397.4h0M343.2 397.5h0M343.2 397.8h0M343.2 403.9h0M343.3 374.5h0M343.3 383.7h0M343.3 385.4h0M343.3 385.8h0M343.3 386.5h0M343.3 390.2h0M343.3 391.3h0M343.3 393.9h0M343.3 394.5h0M343.3 400.5h0M343.3 401.8h0M343.3 404.8h0M343.3 407.7h0M343.4 389.8h0M343.4 392.7h0M343.4 393.9h0M343.4 395.9h0M343.4 396.5h0M343.4 397.1h0M343.4 397.8h0M343.4 398.7h0M343.4 406.4h0M343.5 385.3h0M343.5 386.7h0M343.5 387.5h0M343.5 388.1h0M343.5 388.3h0M343.5 391.6h0M343.5 392.9h0M343.5 398.1h0M343.5 398.4h0M343.5 399.3h0M343.5 399.9h0M343.5 403.1h0M343.6 388.4h0M343.6 389.5h0M343.6 391.6h0M343.6 393.4h0M343.6 393.5h0M343.6 394.1h0M343.6 394.4h0M343.6 394.7h0M343.6 395h0M343.6 395.2h0M343.6 396.7h0M343.6 399.7h0M343.6 400.3h0M343.6 404.8h0M343.6 414.7h0M343.7 386.2h0M343.7 387.4h0M343.7 391.5h0M343.7 392.7h0M343.7 393.8h0M343.7 394.1h0M343.7 394.4h0M343.7 394.6h0M343.7 394.7h0M343.7 395h0M343.7 395.9h0M343.7 397.4h0M343.7 401.5h0M343.7 406.5h0M343.7 408h0M343.8 383.8h0M343.8 386.6h0M343.8 387.5h0M343.8 388.6h0M343.8 389.8h0M343.8 391.4h0M343.8 393.8h0M343.8 395.7h0M343.8 397.6h0M343.8 399.3h0M343.8 399.4h0M343.8 410.8h0M343.9 386.4h0M343.9 387.3h0M343.9 392.4h0M343.9 393h0M343.9 394h0M343.9 394.8h0M343.9 395.6h0M343.9 401.8h0M343.9 408h0M344 381.5h0M344 389.9h0M344 391.7h0M344 392h0M344 394.5h0M344 394.7h0M344 394.8h0M344 404.5h0M344 409.4h0M344 410h0M344.1 383.2h0M344.1 383.9h0M344.1 385.4h0M344.1 386.6h0M344.1 388.6h0M344.1 390h0M344.1 390.4h0M344.1 390.7h0M344.1 390.8h0M344.1 391.2h0M344.1 391.5h0M344.1 391.7h0M344.1 392.9h0M344.1 395.3h0M344.1 398.5h0M344.1 398.6h0M344.1 411h0M344.1 413.4h0M344.2 383.4h0M344.2 384h0M344.2 387.3h0M344.2 387.8h0M344.2 388.1h0M344.2 391.3h0M344.2 392.8h0M344.2 393h0M344.2 393.7h0M344.2 395.1h0M344.2 396.3h0M344.2 397.3h0M344.2 400.7h0M344.2 401.1h0M344.2 401.2h0M344.2 401.5h0M344.2 407.1h0M344.3 385.3h0M344.3 385.8h0M344.3 387h0M344.3 387.3h0M344.3 388.7h0M344.3 389.1h0M344.3 389.9h0M344.3 390.3h0M344.3 390.7h0M344.3 390.9h0M344.3 392.7h0M344.3 393.4h0M344.3 395.9h0M344.3 396h0M344.4 384.6h0M344.4 386.5h0M344.4 389.6h0M344.4 390.7h0M344.4 391.3h0M344.4 391.7h0M344.4 393.3h0M344.4 401.1h0M344.4 402.9h0M344.4 409.1h0M344.5 384.3h0M344.5 384.8h0M344.5 384.9h0M344.5 387.3h0M344.5 387.5h0M344.5 388.4h0M344.5 390.4h0M344.5 391.9h0M344.5 393.4h0M344.5 394.4h0M344.5 397.9h0M344.5 398.6h0M344.5 402.1h0M344.6 360.9h0M344.6 380h0M344.6 385.8h0M344.6 386.5h0M344.6 389.6h0M344.6 389.8h0M344.6 390.7h0M344.6 392.7h0M344.6 393h0M344.6 394.5h0M344.6 396.3h0M344.6 396.9h0M344.6 397.7h0M344.7 382.7h0M344.7 385.6h0M344.7 391.8h0M344.7 392.1h0M344.7 393h0M344.7 397.6h0M344.7 398.6h0M344.7 399.1h0M344.7 403.5h0M344.7 410.2h0M344.7 412.1h0M344.7 413.7h0M344.8 386.3h0M344.8 388.4h0M344.8 388.6h0M344.8 388.7h0M344.8 392.7h0M344.8 393.6h0M344.8 398.4h0M344.8 399.4h0M344.8 412.7h0M344.9 381.4h0M344.9 387.5h0M344.9 391.1h0M344.9 392.4h0M344.9 392.7h0M344.9 394.3h0M344.9 396.1h0M344.9 399.6h0M344.9 405.5h0M344.9 414.8h0M345 386h0M345 387.1h0M345 388.2h0M345 388.4h0M345 390.3h0M345 391h0M345 391.2h0M345 391.4h0M345 392.4h0M345 393.6h0M345 404.7h0M345.1 388.2h0M345.1 389h0M345.1 390.5h0M345.1 391h0M345.1 395.2h0M345.1 395.7h0M345.1 410.3h0M345.2 385.4h0M345.2 388.1h0M345.2 388.2h0M345.2 389.7h0M345.2 391.3h0M345.2 392.8h0M345.2 395.3h0M345.2 396.4h0M345.2 401.5h0M345.3 383.3h0M345.3 385.8h0M345.3 386.8h0M345.3 388h0M345.3 388.1h0M345.3 389.5h0M345.3 389.7h0M345.3 392.5h0M345.3 393.9h0M345.3 394.4h0M345.3 398.3h0M345.3 400.8h0M345.3 406.8h0M345.4 386.1h0M345.4 387.7h0M345.4 390.1h0M345.4 390.3h0M345.4 390.7h0M345.4 393.1h0M345.4 395.5h0M345.4 398.1h0M345.4 399.1h0M345.4 402.5h0M345.4 403h0M345.5 385.6h0M345.5 386h0M345.5 386.1h0M345.5 389.1h0M345.5 389.5h0M345.5 390h0M345.5 390.9h0M345.5 393.7h0M345.5 393.9h0M345.5 404.1h0M345.5 404.9h0M345.6 388.6h0M345.6 390.8h0M345.6 391.7h0M345.6 392.1h0M345.6 392.7h0M345.6 396.4h0M345.6 399.5h0M345.6 400.9h0M345.6 412.2h0M345.6 414.7h0M345.7 384.7h0M345.7 389.7h0M345.7 393h0M345.7 394.7h0M345.7 399h0M345.7 399.5h0M345.7 404.8h0M345.7 412h0M345.8 382.2h0M345.8 385h0M345.8 386.6h0M345.8 388.7h0M345.8 389.1h0M345.8 390.2h0M345.8 396.1h0M345.8 399.8h0M345.8 405.2h0M345.8 407.3h0M345.8 415.7h0M345.9 366.8h0M345.9 380h0M345.9 390.3h0M345.9 390.6h0M345.9 391.3h0M345.9 391.7h0M345.9 393.3h0M345.9 393.6h0M345.9 396.2h0M346 381h0M346 384.3h0M346 384.7h0M346 389.4h0M346 391.1h0M346 391.8h0M346 392.1h0M346 393.2h0M346 393.7h0M346 395.2h0M346 398h0M346 399.5h0M346 402.7h0M346 403h0M346 403.1h0M346 404h0M346 406.5h0M346 411h0M346.1 389.1h0M346.1 389.3h0M346.1 390.9h0M346.1 391h0M346.1 392.2h0M346.1 397h0M346.1 398.2h0M346.2 385.5h0M346.2 386.2h0M346.2 387.1h0M346.2 387.4h0M346.2 388.4h0M346.2 389.7h0M346.2 390.9h0M346.2 394.5h0M346.2 394.9h0M346.2 396h0M346.2 402.1h0M346.2 407.6h0M346.2 413.4h0M346.2 413.5h0M346.3 384.1h0M346.3 389h0M346.3 395.3h0M346.3 398.3h0M346.3 398.6h0M346.3 406.1h0M346.4 387.1h0M346.4 390.1h0M346.4 391h0M346.4 394.7h0M346.4 396.8h0M346.4 403.5h0M346.4 413.9h0M346.5 383h0M346.5 385.3h0M346.5 388.9h0M346.5 393.3h0M346.5 405.2h0M346.5 407.5h0M346.6 383.9h0M346.6 392h0M346.6 392.7h0M346.6 393.5h0M346.6 404h0M346.6 404.4h0M346.6 410.2h0M346.7 387.8h0M346.7 388.6h0M346.7 391.9h0M346.7 395.5h0M346.7 397.2h0M346.7 403.8h0M346.7 407.4h0M346.7 410.2h0M346.8 382.1h0M346.8 386.9h0M346.8 387.2h0M346.8 392.9h0M346.8 395.1h0M346.8 396.3h0M346.8 401.5h0M346.8 408.7h0M346.9 371.9h0M346.9 389.8h0M346.9 391.6h0M347 381.3h0M347 383.9h0M347 388.2h0M347 393.5h0M347 404h0M347 411h0M347 411.7h0M347 412.4h0M347.1 383.7h0M347.1 387h0M347.1 388.3h0M347.1 407.6h0M347.2 386.4h0M347.2 388.8h0M347.2 393.6h0M347.2 394.9h0M347.2 397.3h0M347.2 403.5h0M347.2 405.3h0M347.2 413.8h0M347.3 377.1h0M347.3 383.7h0M347.3 389.8h0M347.3 395.6h0M347.3 400h0M347.3 402.4h0M347.4 374.9h0M347.4 385h0M347.4 385.1h0M347.4 386.5h0M347.4 386.8h0M347.4 387.3h0M347.4 390.4h0M347.4 396h0M347.5 385.1h0M347.5 385.6h0M347.5 386.1h0M347.5 387.2h0M347.5 391.1h0M347.5 392.7h0M347.5 395.5h0M347.5 395.6h0M347.5 396.1h0M347.5 400.9h0M347.5 403.2h0M347.5 408h0M347.6 379.1h0M347.6 382.7h0M347.6 384h0M347.6 388.3h0M347.6 390.1h0M347.6 395.4h0M347.6 400.2h0M347.6 402.2h0M347.6 407.5h0M347.7 386h0M347.7 393.6h0M347.7 395h0M347.8 395.3h0M347.8 398h0M347.8 398.3h0M347.9 390.4h0M347.9 394h0M347.9 407.7h0M348 386.4h0M348 389.5h0M348 392.4h0M348 400.8h0M348.1 381.4h0M348.1 387.2h0M348.1 391.2h0M348.1 392.8h0M348.1 394.8h0M348.1 405h0M348.1 410.1h0M348.2 388.9h0M348.2 391.3h0M348.2 391.6h0M348.2 395.4h0M348.2 395.8h0M348.2 417h0M348.3 386.6h0M348.3 396.7h0M348.3 399.8h0M348.3 401.1h0M348.4 373h0M348.4 385.6h0M348.4 388.4h0M348.4 388.7h0M348.4 389.5h0M348.4 397.8h0M348.5 391.4h0M348.5 396.9h0M348.5 397.7h0M348.5 398.3h0M348.6 397.6h0M348.6 399.8h0M348.7 383.2h0M348.7 390.1h0M348.7 392.6h0M348.7 403.1h0M348.8 385.4h0M348.8 385.9h0M348.8 387.4h0M348.8 387.9h0M348.8 403.2h0M348.9 365.2h0M348.9 383.6h0M348.9 385.1h0M348.9 394h0M349 389.5h0M349 390h0M349 400h0M349 406.2h0M349 415.8h0M349.1 404.4h0M349.1 406h0M349.1 408.3h0M349.1 411.6h0M349.2 384h0M349.2 384.5h0M349.2 384.9h0M349.2 391h0M349.2 397.2h0M349.3 357.3h0M349.3 393.1h0M349.3 406.4h0M349.5 379.7h0M349.5 388.4h0M349.6 386.9h0M349.6 394.8h0M349.6 406.8h0M349.6 407.9h0M349.7 387h0M349.8 394.8h0M350 379.7h0M350 386.7h0M350 395.7h0M350 396h0M350 406.1h0M350.1 376.7h0M350.1 385.9h0M350.2 383.4h0M350.2 388.2h0M350.3 377.9h0M350.3 403h0M350.4 394.4h0M350.6 395h0M350.7 377.9h0M350.7 380.1h0M350.7 397.8h0M350.8 398h0M351 388.1h0M351.1 388.7h0M351.1 391.3h0M351.1 400.8h0M351.1 404.3h0M351.2 400.5h0M351.5 396.8h0M351.5 397.5h0M351.8 400h0M351.9 393.8h0M351.9 398.5h0M352.3 391.2h0M352.5 385h0M352.8 389.3h0M352.8 408.3h0M352.9 391.5h0M353 380.1h0M353 382.9h0M353.2 379h0M353.3 405.4h0M353.7 393.2h0M354 397.9h0M355.7 385.6h0M355.7 390.7h0M355.9 377.6h0M356.2 398.1h0M356.3 403.3h0M356.8 387.1h0M356.9 388.2h0M356.9 390.9h0M357 381.1h0M357.1 379.8h0M357.1 395.4h0M357.1 414.5h0M357.3 397h0M357.4 378.9h0M358.2 390.2h0M358.4 409.1h0M358.7 407.1h0M359 380.3h0M359.9 394.9h0M360 411.5h0M360.4 379.9h0M361.9 383.4h0M361.9 392.7h0M362.1 377h0M363.5 380.2h0M364 410.3h0M364.2 390h0M365.2 373h0M365.4 387.2h0M365.4 401.6h0" stroke-width="1.0" stroke-linecap="round" stroke-opacity="1" fill="none" filter="url(#bl)"/>
<path d="M299.5 382.4 H326.3 Q331.7 382.4 331.3 387.9 L327.1 418.4" fill="none" stroke-width="2.3" stroke-linejoin="round"/>
<path d="M332.3 388.4 L329.3 417.4 H324.5 L329.90000000000003 390.4Z"/>
<path d="M326.3 382.4 H337" fill="none" stroke-width="1.2" stroke-dasharray="1.5 1"/>
<rect x="299.5" y="382.4" width="2.2" height="36.0"/>
<rect x="299.5" y="416.2" width="67.5" height="2.2"/>
<rect x="300.1" y="352.40000000000003" width="66.3" height="65.39999999999996" fill="none" stroke-width="1.3"/>
<rect x="331.5" y="362.8" width="21.5" height="18.399999999999977" fill="none" stroke-width="1.9"/>
<text transform="translate(302.7 360.40000000000003) scale(1.1 1)" font-size="8.7" stroke-width=".3">0.009%</text>
<text transform="translate(302.7 372.40000000000003) scale(1.1 1)" font-size="8.7" stroke-width=".3">(0.05)</text>
<clipPath id="c375"><rect x="376.4" y="382.2" width="28.100000000000023" height="33.30000000000001"/></clipPath>
<g clip-path="url(#c375)" fill="none" stroke="#aaa" stroke-width="0.5"><ellipse cx="377.4" cy="415.5" rx="11" ry="8"/><ellipse cx="377.4" cy="415.5" rx="17" ry="13.5"/><ellipse cx="377.4" cy="415.5" rx="23" ry="19"/><ellipse cx="377.4" cy="415.5" rx="27.5" ry="23.5"/></g>
<path d="M376.4 353.1h0M376.6 385.5h0M376.7 383.4h0M377.1 381.8h0M377.5 376.9h0M377.6 385.8h0M377.7 377.6h0M377.8 389.8h0M377.9 382.4h0M377.9 382.7h0M378 388.2h0M378.3 387.1h0M378.7 385.5h0M379 391.5h0M379.2 389.3h0M379.3 383.5h0M379.4 380.4h0M379.4 408.7h0M379.6 382.6h0M379.6 383.5h0M379.8 376.1h0M379.9 381.8h0M380.4 390.6h0M380.4 395.8h0M380.5 375.7h0M380.6 384.3h0M380.6 386.3h0M380.9 378.9h0M381 382.2h0M381 389.6h0M381.1 410.3h0M381.1 413.1h0M381.3 387.8h0M381.4 399h0M381.6 384.4h0M381.8 389.8h0M381.9 393.3h0M382.3 378.7h0M382.3 381.7h0M382.3 389.1h0M382.3 413.1h0M382.5 398.1h0M382.6 360.3h0M382.7 387.6h0M382.8 386.8h0M383 386.4h0M383.1 390.2h0M383.2 409.2h0M383.5 376.8h0M383.8 415h0M384.1 396.2h0M384.1 406.2h0M384.3 382.1h0M384.3 384.3h0M384.4 385.8h0M384.5 382.7h0M384.6 386.7h0M384.7 393.1h0M384.8 393.5h0M384.9 384.3h0M385 376.5h0M385.2 410.8h0M385.6 407.4h0M385.6 407.9h0M385.9 382.8h0M386.2 392.4h0M386.4 388.9h0M386.6 384.3h0M386.8 384.7h0M387 382.4h0M387 393.2h0M387.1 378.6h0M387.2 380.3h0M387.4 390.9h0M387.5 382.9h0M387.6 382.1h0M387.6 405.5h0M387.7 385.1h0M387.9 394.6h0M388.6 407.3h0M388.7 372.6h0M388.7 377.5h0M389.2 388.5h0M389.3 381.9h0M389.3 383.3h0M389.4 380.4h0M389.8 359.2h0M389.9 379.9h0M389.9 382.3h0M390.2 386.3h0M390.3 377.5h0M390.9 373h0M390.9 377.1h0M391.1 381.6h0M391.2 387.2h0M391.6 388.2h0M391.6 412h0M391.7 414.8h0M392.5 375.3h0M392.6 385.9h0M392.6 395.1h0M392.7 396.7h0M392.8 380.2h0M392.8 405.3h0M393 385.1h0M393.3 382.3h0M393.4 384.5h0M393.4 399h0M393.7 392.9h0M393.8 403.7h0M393.8 404.7h0M394.1 413.1h0M394.4 386.7h0M394.5 384h0M394.7 383.3h0M394.9 409.9h0M395.1 403.9h0M395.2 365.5h0M395.2 388.3h0M395.2 406.9h0M395.4 378.1h0M395.4 383.9h0M395.4 405.4h0M395.8 411h0M395.9 410.4h0M396.1 391.6h0M396.2 380h0M396.2 382.4h0M396.3 385.1h0M396.3 389h0M396.3 390.2h0M396.4 376.2h0M396.4 386.2h0M396.4 398.9h0M396.5 396.4h0M396.5 402.7h0M396.6 383h0M396.7 385h0M396.7 394.2h0M396.8 415.2h0M396.9 403.8h0M396.9 404.9h0M397 366.8h0M397.1 382.3h0M397.1 410.8h0M397.2 365.6h0M397.5 409.8h0M397.7 393.2h0M397.8 390.6h0M397.8 405.5h0M397.9 383.7h0M397.9 385.4h0M398 404.9h0M398 409.8h0M398.1 381.7h0M398.1 408.9h0M398.3 413.3h0M398.4 376.9h0M398.5 413.1h0M398.6 400.4h0M398.7 378.9h0M398.7 392.3h0M398.8 396.3h0M398.8 405.5h0M398.8 408.6h0M398.9 393.6h0M399 401h0M399 414.9h0M399.1 407.8h0M399.2 381.7h0M399.2 383.4h0M399.2 397.9h0M399.2 403h0M399.3 393.4h0M399.5 360.4h0M399.5 404.5h0M399.5 412.3h0M399.5 412.5h0M399.6 383.4h0M399.6 391.1h0M399.7 400.7h0M399.8 399.2h0M399.8 402.2h0M399.8 413.1h0M399.9 387.9h0M399.9 410.2h0M400.2 393.6h0M400.3 406.2h0M400.3 409.1h0M400.4 381.7h0M400.4 408.3h0M400.5 411h0M400.6 382.7h0M400.6 390.8h0M400.6 398.1h0M400.6 401.5h0M400.8 393.7h0M400.8 396.3h0M400.8 397.2h0M400.8 404.4h0M400.9 409.4h0M401 405.9h0M401 410.3h0M401.1 406.9h0M401.2 402.9h0M401.3 382.2h0M401.4 379.4h0M401.4 401.7h0M401.4 408.5h0M401.4 411.2h0M401.6 393.8h0M401.7 381.3h0M401.8 378.4h0M401.8 387h0M401.8 396.1h0M401.9 391.9h0M402 400.8h0M402.1 397.5h0M402.2 393.5h0M402.2 399h0M402.2 401.6h0M402.3 403.7h0M402.3 405.1h0M402.4 377.6h0M402.4 403.1h0M402.6 377.9h0M402.8 392.1h0M402.8 393.2h0M402.8 398.1h0M402.9 372.8h0M403 390.1h0M403 393.8h0M403.3 385h0M403.4 381.8h0M403.4 386.4h0M403.5 378.5h0M403.7 391h0M403.7 393.6h0M403.9 382.2h0M403.9 388.7h0M404.2 362.6h0M404.3 387.1h0M404.4 390.5h0M405.1 383.3h0M405.2 387.7h0M405.6 391.2h0M406 378.8h0M406.3 372.2h0M406.3 379.9h0M406.4 380.2h0M406.6 373.3h0M406.6 379h0M406.6 392.7h0M406.7 379.6h0M406.7 384.1h0M407 368.9h0M407 375.4h0M407.2 392.6h0M407.3 390.3h0M407.3 397h0M407.5 379.2h0M407.6 380.7h0M407.7 384.5h0M407.8 375.9h0M407.8 383.5h0M407.8 388.1h0M407.8 393.6h0M407.9 387.8h0M408.3 371.2h0M408.4 381.8h0M408.4 388.6h0M408.4 396.1h0M408.5 392.2h0M408.6 377.5h0M408.6 392.6h0M408.7 413.3h0M408.8 366h0M408.8 378.9h0M408.8 380.1h0M408.8 386h0M408.9 374.6h0M408.9 386.4h0M409 399.2h0M409.1 384.7h0M409.1 389h0M409.1 398.1h0M409.2 358.4h0M409.3 370.8h0M409.3 392.8h0M409.4 399.4h0M409.5 387.4h0M409.6 372.6h0M409.7 393.9h0M409.8 376.8h0M409.8 380.2h0M409.8 383.9h0M409.8 389.1h0M409.8 391.7h0M409.9 377.6h0M410 377h0M410 377.3h0M410 377.5h0M410 387.7h0M410.1 372.5h0M410.1 392.6h0M410.2 397.1h0M410.3 375.9h0M410.3 386.7h0M410.3 391.4h0M410.4 372h0M410.4 375.2h0M410.5 376.8h0M410.6 365.5h0M410.6 371.9h0M410.6 377.1h0M410.8 353.2h0M410.9 379.5h0M410.9 390.9h0M410.9 393.1h0M410.9 393.5h0M411 370.2h0M411 372.1h0M411 391.1h0M411.1 371.7h0M411.1 386.7h0M411.2 368.2h0M411.2 373.1h0M411.2 382.5h0M411.3 373.8h0M411.3 381.2h0M411.3 382.3h0M411.3 394.2h0M411.3 397.9h0M411.3 414.7h0M411.4 372.7h0M411.4 373h0M411.4 374.9h0M411.4 385.1h0M411.4 386.9h0M411.5 381.5h0M411.6 372.3h0M411.6 376.7h0M411.6 383h0M411.6 384.6h0M411.7 371.6h0M411.7 376.1h0M411.7 400.7h0M411.8 367.9h0M411.8 369.3h0M411.8 369.7h0M411.8 380.3h0M411.8 385.1h0M412 377.5h0M412 381.5h0M412 384.7h0M412 412.5h0M412.1 381.4h0M412.2 367.5h0M412.2 370.2h0M412.2 375.6h0M412.2 393.8h0M412.3 382.3h0M412.3 390.6h0M412.4 368.6h0M412.4 386.8h0M412.4 387.8h0M412.4 396.2h0M412.4 401.3h0M412.5 376.8h0M412.6 379.9h0M412.6 385.6h0M412.7 365.5h0M412.7 379.6h0M412.7 380.5h0M412.7 387.3h0M412.8 372.4h0M412.8 372.5h0M412.8 374.3h0M412.8 376.2h0M412.8 390.7h0M412.8 392.3h0M412.9 369h0M412.9 375.8h0M412.9 376.4h0M412.9 381.1h0M412.9 387h0M413 374.7h0M413 376.2h0M413 377.6h0M413 383.6h0M413.1 369.9h0M413.1 374.2h0M413.1 379.4h0M413.1 393.2h0M413.2 368.9h0M413.2 376.6h0M413.2 377.3h0M413.2 378.4h0M413.2 381.9h0M413.3 370.1h0M413.3 375h0M413.3 380.9h0M413.3 384.2h0M413.3 392.2h0M413.4 370h0M413.4 371.2h0M413.4 375h0M413.4 375.7h0M413.4 388.7h0M413.4 392.1h0M413.5 371.5h0M413.5 380.7h0M413.5 382.6h0M413.5 384.8h0M413.5 385.1h0M413.5 386.3h0M413.6 366.8h0M413.6 373.7h0M413.6 374.7h0M413.7 367.4h0M413.7 370.8h0M413.7 372.7h0M413.7 373.4h0M413.7 378.4h0M413.7 378.9h0M413.7 379.1h0M413.7 384.9h0M413.7 413.5h0M413.8 374.4h0M413.8 379.5h0M413.8 379.7h0M413.9 369.2h0M413.9 369.4h0M413.9 373.8h0M413.9 375.8h0M413.9 376.7h0M413.9 381.6h0M414 370.5h0M414 372.5h0M414 374.8h0M414 398.2h0M414.1 372.3h0M414.1 376.6h0M414.1 379.7h0M414.1 383.2h0M414.1 399.2h0M414.2 365.9h0M414.2 371.6h0M414.2 373.4h0M414.2 374.8h0M414.2 377.7h0M414.2 378.3h0M414.2 384.9h0M414.3 371h0M414.3 371.5h0M414.3 372.1h0M414.3 378.8h0M414.4 370.4h0M414.4 375h0M414.4 377h0M414.4 388.1h0M414.5 373.3h0M414.5 377h0M414.5 377.5h0M414.5 381.4h0M414.5 383.7h0M414.5 384.4h0M414.5 390.9h0M414.6 370.4h0M414.6 372.2h0M414.6 372.3h0M414.6 375.8h0M414.6 380.2h0M414.7 372.2h0M414.7 376.1h0M414.7 381.4h0M414.8 366h0M414.8 370h0M414.8 371.6h0M414.8 371.8h0M414.8 373.9h0M414.8 378.1h0M414.8 379h0M414.8 379.2h0M414.8 393.8h0M414.9 365.9h0M414.9 368.5h0M414.9 371.6h0M414.9 372.5h0M414.9 375.1h0M414.9 375.6h0M414.9 375.7h0M414.9 378.3h0M414.9 384.7h0M414.9 386.3h0M415 374.9h0M415 376.8h0M415 380.5h0M415 386.9h0M415.1 372h0M415.1 374.4h0M415.1 374.6h0M415.1 377.8h0M415.1 378.6h0M415.1 394.4h0M415.1 398.2h0M415.2 367.1h0M415.2 369.3h0M415.2 381.9h0M415.2 389.2h0M415.3 376.1h0M415.3 382.7h0M415.3 389.9h0M415.4 375h0M415.4 379h0M415.4 390.6h0M415.4 394.8h0M415.5 370.5h0M415.5 370.9h0M415.5 371.3h0M415.5 373h0M415.5 373.6h0M415.5 374.1h0M415.5 377.2h0M415.5 377.3h0M415.5 382.7h0M415.5 395.9h0M415.6 375.4h0M415.6 383.5h0M415.7 368.4h0M415.7 372.7h0M415.7 378.8h0M415.8 368.7h0M415.8 372.1h0M415.8 375.3h0M415.8 381.3h0M415.8 381.6h0M415.8 408.3h0M415.9 371h0M415.9 373.3h0M415.9 374.9h0M415.9 381.7h0M416 365h0M416 369.5h0M416 372.8h0M416 372.9h0M416 377.3h0M416 378h0M416 380.2h0M416 382h0M416.1 372.2h0M416.1 372.9h0M416.1 383.5h0M416.1 384.2h0M416.1 391.9h0M416.2 376.5h0M416.2 379.1h0M416.2 384.4h0M416.2 384.9h0M416.2 394.6h0M416.2 401.3h0M416.2 406.7h0M416.3 373h0M416.3 376.8h0M416.3 378.8h0M416.3 379.2h0M416.3 384.6h0M416.4 374.5h0M416.4 377.1h0M416.4 381.7h0M416.4 385.3h0M416.4 387.9h0M416.4 398.9h0M416.5 369.8h0M416.5 371.8h0M416.5 372.6h0M416.5 374.4h0M416.5 375.4h0M416.5 375.5h0M416.5 392.8h0M416.6 370h0M416.6 371.1h0M416.6 374h0M416.6 376h0M416.6 376.3h0M416.6 376.5h0M416.6 376.8h0M416.6 378.8h0M416.6 379h0M416.6 379.5h0M416.6 380.6h0M416.6 382.6h0M416.7 366.3h0M416.7 370.3h0M416.7 372.3h0M416.7 373.2h0M416.7 376.7h0M416.7 377h0M416.8 377h0M416.8 380h0M416.8 384.1h0M416.8 388.6h0M416.8 400.7h0M416.9 364h0M416.9 373h0M416.9 375h0M416.9 376.8h0M416.9 381.1h0M416.9 384h0M417 371.4h0M417 374h0M417 376h0M417 379.7h0M417 380.2h0M417 384h0M417 387.2h0M417 387.7h0M417 389h0M417 394.9h0M417.1 369.8h0M417.1 374.2h0M417.1 377.2h0M417.1 378.2h0M417.1 379h0M417.1 385.1h0M417.1 389h0M417.1 394h0M417.2 373.2h0M417.2 383h0M417.2 390.1h0M417.3 368.3h0M417.3 371.7h0M417.3 372.2h0M417.3 372.8h0M417.3 377.7h0M417.3 379.6h0M417.3 384h0M417.4 373.9h0M417.4 375.7h0M417.4 378.8h0M417.4 382.3h0M417.5 366.4h0M417.5 373.4h0M417.5 378.5h0M417.5 379.1h0M417.5 380.3h0M417.5 383.2h0M417.5 387h0M417.5 389.6h0M417.5 392.7h0M417.5 400.2h0M417.6 372.1h0M417.6 376.7h0M417.6 378.8h0M417.7 370.1h0M417.7 371.5h0M417.7 373h0M417.7 375.1h0M417.7 375.2h0M417.7 376.7h0M417.7 378h0M417.7 381.8h0M417.7 391.6h0M417.8 372.7h0M417.8 373h0M417.8 375h0M417.8 377.1h0M417.8 385.5h0M417.8 386h0M417.8 390.9h0M417.9 370.6h0M417.9 371.5h0M417.9 373.9h0M417.9 374.2h0M417.9 390.9h0M418 368.7h0M418 370.7h0M418 371.3h0M418 372.1h0M418 372.2h0M418 374.2h0M418 374.9h0M418 381.1h0M418 387.9h0M418.1 371.1h0M418.1 378.2h0M418.1 378.4h0M418.1 387.8h0M418.2 388.4h0M418.2 396.4h0M418.2 406.2h0M418.3 369h0M418.3 371.1h0M418.3 375.4h0M418.3 375.6h0M418.3 377.7h0M418.3 379.9h0M418.3 385.5h0M418.4 368.4h0M418.4 371.5h0M418.4 372.8h0M418.4 374.2h0M418.4 384.5h0M418.5 370.4h0M418.5 374h0M418.5 375.1h0M418.6 366.7h0M418.6 371.6h0M418.6 372.8h0M418.6 377.8h0M418.6 386.3h0M418.7 368.6h0M418.7 369h0M418.7 374.7h0M418.7 377.1h0M418.7 378.6h0M418.7 381h0M418.8 371.8h0M418.8 376.3h0M418.8 385h0M418.8 388.6h0M418.8 398.5h0M418.9 369.3h0M418.9 372.3h0M418.9 375h0M418.9 375.5h0M418.9 377.5h0M418.9 380.4h0M418.9 389.3h0M418.9 390.8h0M419 374.2h0M419 380.3h0M419 385.1h0M419 390.6h0M419 394.5h0M419.1 374.9h0M419.1 376.2h0M419.1 388.7h0M419.1 389.2h0M419.1 392.5h0M419.1 399.4h0M419.2 382.2h0M419.2 382.9h0M419.3 371.9h0M419.3 373h0M419.3 376h0M419.3 376.6h0M419.4 370.8h0M419.4 378.8h0M419.4 379.6h0M419.4 382.4h0M419.4 384.2h0M419.5 372.2h0M419.5 375.3h0M419.5 375.5h0M419.5 382.5h0M419.5 387.8h0M419.6 364.8h0M419.6 368.6h0M419.6 375.2h0M419.7 384.2h0M419.7 387.4h0M419.7 403.5h0M419.8 371.4h0M419.8 371.6h0M419.8 371.7h0M419.8 372.9h0M419.8 374.7h0M419.8 381.5h0M419.9 372.3h0M419.9 382.1h0M419.9 382.5h0M420 381.2h0M420 386.4h0M420 389.8h0M420.1 377.7h0M420.2 381h0M420.2 384.6h0M420.2 385.5h0M420.2 391.2h0M420.2 398.6h0M420.3 374.3h0M420.3 375.8h0M420.3 376h0M420.3 387.8h0M420.3 392.9h0M420.3 393.1h0M420.4 369.7h0M420.4 379.4h0M420.4 380.3h0M420.4 385.4h0M420.4 386.9h0M420.4 388.5h0M420.5 365h0M420.5 366.4h0M420.5 377.3h0M420.5 396h0M420.6 371.5h0M420.6 379.1h0M420.6 379.5h0M420.6 379.7h0M420.6 381.3h0M420.6 412.9h0M420.7 389.3h0M420.8 375.2h0M420.8 382h0M420.8 386.6h0M420.8 390.3h0M420.9 373h0M420.9 387.9h0M420.9 392.9h0M421.2 388.5h0M421.3 368.4h0M421.3 372h0M421.3 372.7h0M421.3 384.2h0M421.4 379.4h0M421.4 385.8h0M421.4 390.3h0M421.4 393.4h0M421.4 395.2h0M421.5 369.8h0M421.5 381.8h0M421.5 382.2h0M421.6 379.8h0M421.6 388.9h0M421.7 384.5h0M421.7 391.3h0M421.7 396.9h0M421.8 385.2h0M421.8 386.3h0M422 367.5h0M422 407.9h0M422.1 381h0M422.1 381.3h0M422.2 377.3h0M422.2 379.8h0M422.2 382.1h0M422.2 391.8h0M422.3 384.6h0M422.4 359.2h0M422.4 385.3h0M422.4 388.5h0M422.4 389.1h0M422.5 372.1h0M422.5 378.1h0M422.5 388.2h0M422.5 409.2h0M422.6 372.6h0M422.6 380.6h0M422.6 384.4h0M422.7 388.3h0M422.7 389.1h0M422.7 390.5h0M422.7 395.5h0M422.8 375.7h0M422.8 399.6h0M422.8 402.8h0M423 386.3h0M423.1 376.7h0M423.1 378.6h0M423.1 388.3h0M423.2 369.3h0M423.2 377.3h0M423.2 390.9h0M423.5 373.3h0M423.5 383.9h0M423.5 386.7h0M423.6 387.4h0M423.7 382.2h0M423.7 383.8h0M423.7 389.9h0M423.7 404.2h0M423.8 391h0M423.8 394.6h0M423.8 415.4h0M423.9 386h0M423.9 386.4h0M423.9 392.6h0M424 378.2h0M424 383.4h0M424 389.2h0M424.1 394.4h0M424.2 382.3h0M424.2 384.1h0M424.2 396.5h0M424.3 385.9h0M424.3 389.1h0M424.4 379.3h0M424.4 391.8h0M424.4 394.3h0M424.4 397.8h0M424.5 406.5h0M424.6 406h0M424.8 377.7h0M424.8 380.8h0M424.8 390.5h0M424.9 383.5h0M425.1 393.8h0M425.1 395.2h0M425.2 382.7h0M425.3 378.8h0M425.3 386.1h0M425.4 375.8h0M425.4 395.5h0M425.5 377.2h0M425.6 384.9h0M425.7 385.9h0M425.7 395.8h0M425.8 387.8h0M425.9 379.3h0M425.9 382.6h0M425.9 386.5h0M425.9 386.7h0M426 395.2h0M426.1 388.4h0M426.2 382.9h0M426.2 385.7h0M426.2 391.5h0M426.3 393.6h0M426.3 400.1h0M426.4 387.7h0M426.5 354.5h0M426.5 379.7h0M426.5 392.1h0M426.6 395.3h0M426.7 378h0M426.7 382.5h0M426.7 386.7h0M426.9 400.8h0M427 372.1h0M427 383.2h0M427 394.6h0M427.1 379.5h0M427.1 382.9h0M427.1 384.4h0M427.1 385.4h0M427.1 413.5h0M427.2 386.9h0M427.2 387.9h0M427.2 390.5h0M427.2 390.6h0M427.4 380.2h0M427.8 392.9h0M427.8 394.9h0M427.9 400.5h0M428 386.2h0M428.1 372.8h0M428.3 381.9h0M428.3 389h0M428.4 380.9h0M428.5 378.3h0M428.7 380.7h0M428.7 397.3h0M428.8 389.1h0M428.9 395.9h0M429.3 398h0M429.7 388.9h0M429.8 388.9h0M429.8 392.4h0M429.9 378.5h0M429.9 383.4h0M429.9 394.4h0M429.9 398.2h0M429.9 401.2h0M430.1 395.7h0M430.2 390.5h0M430.2 403.6h0M430.3 385.1h0M430.4 373.5h0M430.4 383.4h0M430.5 387.6h0M430.5 390.8h0M430.5 396.1h0M430.6 394.6h0M430.8 414.6h0M430.9 389.3h0M431 410.7h0M431.1 371h0M431.1 381.8h0M431.2 390.5h0M431.2 392.4h0M431.6 390.3h0M431.6 401.6h0M431.7 388.5h0M431.7 393.8h0M431.8 383.8h0M431.9 380.4h0M432.1 383.9h0M432.1 397.3h0M432.4 380.2h0M432.5 386.3h0M432.5 399.1h0M432.6 383.1h0M432.6 388.3h0M432.6 394.9h0M432.8 390.1h0M432.8 406.5h0M433.1 393h0M433.1 394.8h0M433.2 386.8h0M433.2 410.3h0M433.3 392.2h0M433.4 379.3h0M433.4 387.2h0M433.4 391.6h0M433.5 381.4h0M433.7 409.6h0M433.8 377.9h0M433.8 378.5h0M433.8 383.7h0M433.9 386.2h0M433.9 391.3h0M434 386.4h0M434 392.3h0M434 394.5h0M434.3 394.1h0M434.7 385.1h0M434.7 412.7h0M434.8 389.5h0M434.8 399.7h0M435 382.5h0M435 394.5h0M435 402.2h0M435.1 402.6h0M435.8 401.2h0M435.9 379h0M435.9 385.9h0M436.2 393.6h0M436.2 399.8h0M436.4 392.2h0M436.6 379.5h0M437.1 376.4h0M437.1 394.2h0M437.4 388.5h0M437.7 387.7h0M437.8 360h0M437.9 414.5h0M438.3 384.8h0M438.4 407.9h0M438.6 396.2h0M438.8 391.6h0M439 399.2h0M439.5 390.2h0M439.7 402.5h0M439.8 387.9h0M439.9 378.7h0M439.9 402.4h0M440 396.4h0M440 404.5h0M440.1 402.6h0M440.2 401.5h0" stroke-width="1.0" stroke-linecap="round" stroke-opacity="1" fill="none" filter="url(#bl)"/>
<path d="M375.4 381.2 H401.5 Q406.9 381.2 406.5 386.7 L402.3 416.5" fill="none" stroke-width="2.3" stroke-linejoin="round"/>
<path d="M407.5 387.2 L404.5 415.5 H399.7 L405.1 389.2Z"/>
<path d="M401.5 381.2 H412.3" fill="none" stroke-width="1.2" stroke-dasharray="1.5 1"/>
<rect x="375.4" y="381.2" width="1.8" height="35.30000000000001"/>
<rect x="376.0" y="352.1" width="65.70000000000003" height="63.8" fill="none" stroke-width="1.3"/>
<rect x="407.8" y="363" width="20.0" height="18" fill="none" stroke-width="1.9"/>
<text transform="translate(378.59999999999997 360.1) scale(1.1 1)" font-size="8.7" stroke-width=".3">0.34%</text>
<text transform="translate(378.59999999999997 372.1) scale(1.1 1)" font-size="8.7" stroke-width=".3">(63.0)</text>
<clipPath id="c451"><rect x="452" y="382.2" width="27.5" height="34.19999999999999"/></clipPath>
<g clip-path="url(#c451)" fill="none" stroke="#aaa" stroke-width="0.5"><ellipse cx="453" cy="416.4" rx="11" ry="8"/><ellipse cx="453" cy="416.4" rx="17" ry="13.5"/><ellipse cx="453" cy="416.4" rx="23" ry="19"/><ellipse cx="453" cy="416.4" rx="27.5" ry="23.5"/></g>
<path d="M452.3 384.7h0M452.5 395.7h0M452.6 376.6h0M452.6 382.6h0M452.9 382h0M453 389.6h0M453.2 397.3h0M453.4 398.1h0M453.8 383.4h0M454.1 381.6h0M454.3 388.9h0M455.2 384.4h0M455.5 379.7h0M455.7 381.8h0M455.7 385.9h0M455.7 399.4h0M455.8 374.9h0M455.8 394.1h0M456 406.3h0M456.7 395.6h0M456.9 377.5h0M457 382.4h0M457 391.7h0M457.3 380.1h0M457.5 384.4h0M457.6 377.6h0M457.6 401h0M457.7 387h0M457.8 399.6h0M458.2 407h0M458.5 357.7h0M458.9 358.5h0M458.9 390.3h0M459 387.2h0M459.2 383.9h0M459.4 395.6h0M459.5 391.8h0M460 387.4h0M460.1 399h0M460.3 390.4h0M460.5 390h0M460.6 395.9h0M460.6 407.7h0M461.2 378.3h0M461.2 381.8h0M461.5 381.9h0M461.6 401.9h0M461.7 393.8h0M461.8 373.5h0M462 402.6h0M462.5 382.9h0M463.1 370h0M463.1 387.1h0M463.3 395.7h0M464.1 388.5h0M464.1 416.2h0M464.2 380.5h0M464.3 402.2h0M464.3 406.9h0M464.4 382h0M465 386.5h0M465.2 387.1h0M465.3 382.1h0M465.3 394.9h0M465.4 383.2h0M465.7 382.5h0M465.7 401.6h0M465.7 404.8h0M465.8 387.3h0M465.8 394.6h0M466 390.1h0M466.4 379.8h0M466.7 383.2h0M466.8 410.5h0M466.9 380h0M466.9 411.5h0M467.1 377.2h0M467.1 387.5h0M467.2 379.2h0M467.2 391.8h0M467.5 400.5h0M467.6 382.1h0M467.6 389.7h0M467.7 410.5h0M467.9 383.4h0M468 405.3h0M468.3 384.1h0M468.3 391h0M468.4 399.7h0M468.5 384.5h0M468.6 388.8h0M468.6 412h0M468.7 386h0M468.7 394.4h0M468.7 400.1h0M469 385.2h0M469 396.5h0M469 408.5h0M469.2 392.6h0M469.2 406.8h0M469.3 394.7h0M469.4 379.6h0M469.4 383.7h0M469.7 386.2h0M469.8 392h0M469.9 398.3h0M469.9 411.7h0M470 383.9h0M470.1 412.7h0M470.1 413.9h0M470.3 382.9h0M470.5 401.1h0M470.5 412.1h0M470.6 412.7h0M470.7 396.1h0M470.8 387.9h0M470.9 370.7h0M470.9 381.7h0M470.9 396.9h0M471.2 378.5h0M471.2 414.5h0M471.3 385.6h0M471.5 375.7h0M471.5 380.2h0M471.6 396.1h0M471.6 412.5h0M471.7 380.2h0M472 383.1h0M472 410.2h0M472.1 382.1h0M472.1 411.6h0M472.3 394.1h0M472.4 378.1h0M472.4 415.6h0M472.6 383.3h0M472.6 385.2h0M472.6 385.8h0M472.7 387.4h0M472.7 405.1h0M472.8 413.7h0M472.8 415.2h0M472.9 374.7h0M473 383.9h0M473.1 396.2h0M473.3 410h0M473.5 411.2h0M473.5 412.5h0M473.6 377.5h0M473.6 382.3h0M473.6 415.8h0M473.7 413.1h0M473.8 409.4h0M474 406.3h0M474 407.2h0M474.4 386.4h0M474.5 369.5h0M474.6 410.4h0M474.7 387.3h0M474.7 388.5h0M474.8 375.5h0M474.8 387.4h0M474.8 395.8h0M474.8 396.8h0M474.8 413.7h0M474.9 395.4h0M475 404h0M475 415.1h0M475.1 386.3h0M475.3 391.7h0M475.3 411h0M475.4 405h0M475.4 407.9h0M475.5 391h0M475.5 409.1h0M475.6 385.6h0M475.7 397.7h0M475.7 403.5h0M475.7 407h0M475.7 411.9h0M475.8 399h0M475.8 400.7h0M475.8 406.1h0M475.9 394.5h0M476 381.7h0M476 392.6h0M476 408.4h0M476 413h0M476.1 397.4h0M476.2 409.9h0M476.3 391.8h0M476.4 405.2h0M476.5 383.6h0M476.5 388.4h0M476.6 369.1h0M476.6 385h0M476.6 395h0M476.7 380.2h0M476.9 403.6h0M477 402.8h0M477.1 382.3h0M477.2 393.3h0M477.3 397.6h0M477.4 405.9h0M477.6 384.5h0M477.6 397.4h0M477.8 387.5h0M477.8 392h0M477.9 384.9h0M477.9 388.5h0M478 393.7h0M478.1 382.9h0M478.1 398.5h0M478.2 394.9h0M478.4 395.5h0M478.6 384.5h0M478.7 383.5h0M479 378.8h0M479 388.5h0M479 390h0M479 391.2h0M479.2 377.6h0M479.4 371.7h0M479.4 384.9h0M479.6 382.5h0M479.6 382.7h0M479.6 392.8h0M480 359.8h0M480 382.2h0M480 385h0M480.2 373.9h0M480.8 387.2h0M480.9 372.5h0M480.9 389.9h0M481 387.9h0M481.1 393.7h0M481.3 365.6h0M481.3 389.6h0M481.3 393.3h0M481.4 377h0M481.4 398.5h0M481.6 388.9h0M482 370.4h0M482 384.6h0M482.4 372.9h0M482.9 405h0M483 407.5h0M483.1 393.8h0M483.3 403.4h0M483.4 395.1h0M483.4 398.9h0M483.5 380h0M483.6 372.6h0M483.7 405.6h0M483.9 378.4h0M484 388.4h0M484.1 381.9h0M484.2 379.7h0M484.2 382.5h0M484.2 398.1h0M484.3 383.1h0M484.4 379.4h0M484.4 386.4h0M484.4 394.9h0M484.4 410.4h0M484.5 379.8h0M484.7 388.9h0M484.9 404.8h0M485 375.3h0M485.1 376.1h0M485.1 396.5h0M485.2 393.1h0M485.3 374.5h0M485.3 408.2h0M485.4 373.4h0M485.4 378.5h0M485.4 379.1h0M485.4 401.8h0M485.7 374.4h0M485.7 379.5h0M485.8 403.4h0M485.9 402.4h0M486.1 383.1h0M486.2 369.3h0M486.2 377.2h0M486.2 390.4h0M486.2 391.2h0M486.3 372.6h0M486.3 375.8h0M486.4 369.9h0M486.4 384.3h0M486.4 394.1h0M486.5 387.8h0M486.6 365.3h0M486.6 374.6h0M486.6 379.5h0M486.6 379.7h0M486.6 391.6h0M486.6 394.9h0M486.7 388.8h0M486.7 395.5h0M486.8 373.3h0M486.8 376.1h0M486.9 378.6h0M486.9 379.2h0M486.9 386.6h0M486.9 414.3h0M487 372.9h0M487 373.6h0M487 379h0M487 379.7h0M487 379.9h0M487.1 369.7h0M487.1 377.4h0M487.1 383.3h0M487.1 392.1h0M487.1 408.7h0M487.2 374.9h0M487.2 377h0M487.2 378.7h0M487.2 384.5h0M487.2 393.2h0M487.3 394h0M487.3 396.8h0M487.3 399.2h0M487.4 372.2h0M487.4 403.7h0M487.5 371.8h0M487.5 376.7h0M487.5 383.7h0M487.5 384.1h0M487.6 369.4h0M487.6 374.4h0M487.6 380.4h0M487.6 382h0M487.6 396.5h0M487.7 374.4h0M487.7 383.3h0M487.8 373.4h0M487.8 380.3h0M487.9 375.2h0M487.9 376.7h0M487.9 377h0M487.9 386.5h0M487.9 387.5h0M488.1 369.6h0M488.1 371.6h0M488.1 375.9h0M488.2 370.2h0M488.2 380h0M488.2 406.1h0M488.3 373.9h0M488.3 375h0M488.3 402.9h0M488.4 373.8h0M488.4 385.6h0M488.5 371.7h0M488.5 376.4h0M488.5 379.1h0M488.6 375h0M488.6 376.6h0M488.7 370.8h0M488.7 371.1h0M488.7 371.2h0M488.7 372.7h0M488.7 378.9h0M488.7 382.9h0M488.7 383.5h0M488.8 380.1h0M488.8 388.5h0M488.9 374.5h0M488.9 390.5h0M488.9 393.6h0M489 374.5h0M489 379.6h0M489 384.2h0M489.1 369.1h0M489.1 376.8h0M489.1 391.6h0M489.2 370h0M489.3 369.8h0M489.3 370.6h0M489.3 372h0M489.3 372.8h0M489.3 391.5h0M489.4 372.4h0M489.5 368h0M489.5 369.1h0M489.5 370.9h0M489.5 371.1h0M489.5 371.8h0M489.5 378.6h0M489.5 384.3h0M489.5 406.6h0M489.6 374h0M489.6 375h0M489.6 376.4h0M489.6 378.5h0M489.6 379.6h0M489.7 375.6h0M489.7 376.7h0M489.7 380.8h0M489.7 386h0M489.8 382.9h0M489.9 370.3h0M489.9 370.4h0M489.9 372h0M489.9 373h0M489.9 379.1h0M489.9 385.5h0M489.9 387.3h0M490 368.6h0M490 375.9h0M490 377.4h0M490 399.5h0M490.1 366.5h0M490.1 373.9h0M490.1 375.8h0M490.2 371.4h0M490.2 373.5h0M490.2 373.7h0M490.2 387.7h0M490.3 377.5h0M490.3 380.4h0M490.3 415.5h0M490.4 372.1h0M490.4 375.5h0M490.4 378h0M490.4 380h0M490.4 387.9h0M490.4 388.5h0M490.5 368.5h0M490.5 391.5h0M490.5 391.8h0M490.5 394h0M490.5 413.1h0M490.6 372.7h0M490.6 375.2h0M490.6 375.4h0M490.6 377.9h0M490.6 383.3h0M490.6 388.1h0M490.6 392.7h0M490.7 371.9h0M490.7 373.4h0M490.8 372.9h0M490.8 378.1h0M490.8 397.6h0M490.9 367.5h0M490.9 376.7h0M490.9 384.1h0M490.9 406.7h0M491 379.1h0M491 383.6h0M491 392.5h0M491 395.4h0M491.1 372.7h0M491.1 376.8h0M491.1 377.4h0M491.2 378.7h0M491.2 379.1h0M491.2 382.3h0M491.2 383.9h0M491.2 385.6h0M491.2 386.4h0M491.3 368h0M491.3 371h0M491.3 372.1h0M491.3 379.2h0M491.3 387h0M491.3 394.6h0M491.4 369h0M491.4 369.4h0M491.4 370h0M491.4 372.9h0M491.4 375.9h0M491.4 383.2h0M491.5 370.5h0M491.5 370.6h0M491.5 370.9h0M491.5 371.2h0M491.5 373.3h0M491.5 375.2h0M491.5 375.3h0M491.5 376.9h0M491.5 387.8h0M491.6 368.1h0M491.6 368.6h0M491.6 371.8h0M491.6 373h0M491.6 373.1h0M491.6 374.4h0M491.6 374.8h0M491.6 376.5h0M491.6 389.8h0M491.7 372.5h0M491.8 371.9h0M491.8 372.4h0M491.8 373.7h0M491.8 374h0M491.8 374.5h0M491.8 400.2h0M491.9 370.8h0M491.9 374.9h0M491.9 380.1h0M491.9 393h0M492 368.6h0M492 378.2h0M492 388.2h0M492 393h0M492 394.9h0M492.1 369.1h0M492.1 370.6h0M492.1 372.6h0M492.1 373.1h0M492.1 373.3h0M492.1 380.3h0M492.2 373.5h0M492.2 377h0M492.2 381.5h0M492.2 385h0M492.2 387.1h0M492.3 371h0M492.3 374.1h0M492.3 375.3h0M492.3 384.4h0M492.3 389.6h0M492.3 394.1h0M492.3 398h0M492.4 375h0M492.4 376.7h0M492.4 383.5h0M492.4 385.5h0M492.4 386.1h0M492.4 388h0M492.4 401h0M492.5 372.7h0M492.6 382.6h0M492.6 385.8h0M492.6 387.5h0M492.6 391.6h0M492.7 371.7h0M492.7 373.8h0M492.7 374.3h0M492.7 374.7h0M492.8 372.6h0M492.8 372.9h0M492.8 377.4h0M492.8 379.5h0M492.8 379.9h0M492.8 382.3h0M492.8 386.6h0M492.8 388.2h0M492.8 390h0M492.9 370h0M492.9 370.5h0M492.9 370.8h0M492.9 371.2h0M492.9 371.7h0M492.9 371.9h0M492.9 373.7h0M492.9 383.2h0M492.9 387.2h0M493 369.7h0M493 370h0M493 373h0M493 376h0M493 386.8h0M493.1 367.5h0M493.1 369.5h0M493.1 379.3h0M493.1 401.8h0M493.2 374.7h0M493.2 375.7h0M493.2 376.8h0M493.2 378.2h0M493.2 382.2h0M493.2 389.2h0M493.2 399.9h0M493.3 375.2h0M493.3 396.8h0M493.4 372.5h0M493.4 387.4h0M493.5 372.8h0M493.5 375.2h0M493.5 377.6h0M493.5 377.8h0M493.5 378.8h0M493.5 379.7h0M493.6 373.1h0M493.6 373.2h0M493.6 377.4h0M493.6 383.2h0M493.6 390.6h0M493.6 391.8h0M493.6 392.3h0M493.7 372h0M493.7 375.7h0M493.7 380.9h0M493.7 390.8h0M493.8 369.7h0M493.8 373.8h0M493.9 376.3h0M493.9 376.8h0M493.9 385.3h0M493.9 392.8h0M493.9 394.5h0M494.1 365.6h0M494.1 370.1h0M494.1 372.8h0M494.1 377.8h0M494.1 379.5h0M494.1 394.1h0M494.2 377.5h0M494.2 382.6h0M494.3 372.3h0M494.3 373.1h0M494.3 374.4h0M494.4 370.9h0M494.4 371.3h0M494.4 384h0M494.4 385.5h0M494.4 386h0M494.4 389.6h0M494.4 393.5h0M494.4 394.5h0M494.4 404.2h0M494.5 363.1h0M494.5 372.6h0M494.5 386.8h0M494.6 371.9h0M494.6 374.7h0M494.6 383.6h0M494.6 384h0M494.6 386.2h0M494.6 388.1h0M494.7 371.6h0M494.7 387.4h0M494.8 367.5h0M494.8 373.8h0M494.8 374.9h0M494.8 378.7h0M494.8 384.2h0M494.8 385h0M494.8 391.5h0M494.8 396.2h0M494.9 370.5h0M494.9 381.4h0M494.9 383.1h0M494.9 387h0M494.9 387.2h0M494.9 393.4h0M495 372.7h0M495 383.7h0M495 389.3h0M495 402.1h0M495.1 365.6h0M495.1 370.6h0M495.1 379.7h0M495.1 380.9h0M495.1 393.2h0M495.2 365.5h0M495.2 369.6h0M495.2 373.8h0M495.2 380.9h0M495.2 382h0M495.3 375.2h0M495.3 380.1h0M495.3 390.4h0M495.3 399.2h0M495.4 367.9h0M495.4 369.4h0M495.4 382.1h0M495.5 373.8h0M495.5 374.7h0M495.5 388.1h0M495.5 388.3h0M495.5 389h0M495.5 392.3h0M495.6 371.9h0M495.6 374.9h0M495.6 381.9h0M495.6 384h0M495.6 391.4h0M495.6 401.2h0M495.7 370.1h0M495.7 371.1h0M495.7 382h0M495.7 383.9h0M495.7 403.7h0M495.8 374.6h0M495.8 383.2h0M495.9 376.4h0M495.9 382.5h0M495.9 388.7h0M496 372.4h0M496 379.2h0M496 382.7h0M496 385.5h0M496.1 387.5h0M496.1 390.2h0M496.2 369.9h0M496.2 370.3h0M496.2 370.9h0M496.2 371.5h0M496.2 375.2h0M496.2 379.2h0M496.2 381.8h0M496.2 391.2h0M496.3 375.7h0M496.3 381.3h0M496.3 382.3h0M496.3 387.4h0M496.4 375.4h0M496.4 377.1h0M496.4 389.7h0M496.4 407.3h0M496.5 387.2h0M496.5 391.1h0M496.5 395.7h0M496.5 396.4h0M496.5 405.9h0M496.6 369.3h0M496.6 370.1h0M496.6 372.5h0M496.6 379.3h0M496.6 381.6h0M496.6 382.8h0M496.6 387.4h0M496.6 388.7h0M496.7 374.4h0M496.7 380.4h0M496.7 380.9h0M496.7 384.7h0M496.8 367.5h0M496.8 376.1h0M496.8 390.2h0M496.9 383.4h0M496.9 412h0M497 378.3h0M497 378.9h0M497 385.5h0M497.1 384.1h0M497.1 384.9h0M497.1 393.7h0M497.2 381.2h0M497.2 383.4h0M497.2 385.9h0M497.2 389.5h0M497.2 399.4h0M497.4 370h0M497.5 370h0M497.5 384.3h0M497.6 380.6h0M497.6 386.1h0M497.6 387h0M497.6 392.2h0M497.7 368.5h0M497.7 374.5h0M497.8 392.3h0M497.9 371.3h0M497.9 382.7h0M497.9 384.2h0M497.9 388.9h0M497.9 389.2h0M498 378.9h0M498 384.8h0M498 393.1h0M498.1 379.9h0M498.1 391.4h0M498.2 374h0M498.2 375.9h0M498.2 376.2h0M498.2 383.2h0M498.2 390.3h0M498.2 405.1h0M498.3 376.7h0M498.3 378.2h0M498.4 379.4h0M498.4 384.9h0M498.5 383.2h0M498.6 372h0M498.6 389.3h0M498.7 354.3h0M498.7 371.4h0M498.8 386.2h0M498.8 395.9h0M498.9 370.5h0M498.9 383.6h0M498.9 388h0M498.9 392.2h0M499.1 377.8h0M499.2 373.6h0M499.4 379.3h0M499.4 385.8h0M499.5 382.1h0M499.6 395.6h0M499.6 407.4h0M499.7 380.7h0M499.7 383.6h0M499.8 368h0M499.8 382.5h0M499.8 396.8h0M499.9 368.5h0M499.9 372.8h0M499.9 377.8h0M500 384.7h0M500 388h0M500.3 377.4h0M500.3 377.8h0M500.4 384.4h0M500.4 389.2h0M500.4 392.2h0M500.5 394.1h0M500.5 412.7h0M500.6 376.3h0M500.6 382.3h0M500.6 415.7h0M500.8 385.8h0M500.8 386.6h0M500.8 389.9h0M500.9 386.6h0M501 378h0M501 379.1h0M501 381.1h0M501.1 393.2h0M501.2 384.4h0M501.2 386.9h0M501.3 394.2h0M501.5 401.5h0M501.6 375.2h0M501.7 397.6h0M501.8 389.3h0M501.9 378.9h0M501.9 396.6h0M502 391.9h0M502.1 382.4h0M502.1 390.4h0M502.2 388.8h0M502.2 389.6h0M502.2 413h0M502.3 379.7h0M502.3 386.6h0M502.3 392.5h0M502.3 400.9h0M502.7 397h0M502.7 399.1h0M502.9 381.1h0M502.9 385.1h0M503.1 371.7h0M503.1 393.5h0M503.2 410.8h0M503.3 390.4h0M503.3 391.9h0M503.4 387.6h0M503.5 383.9h0M503.6 387.5h0M503.6 395.7h0M503.7 376.6h0M503.8 391.3h0M503.8 411h0M503.9 382.8h0M504 379h0M504.2 379.1h0M504.2 383.8h0M504.2 391.6h0M504.4 384.9h0M504.4 388h0M504.4 400h0M504.7 381.9h0M504.7 387.1h0M504.9 412.1h0M505.2 379.1h0M505.3 397h0M505.4 392.6h0M505.5 392.6h0M505.7 392.3h0M505.9 392h0M506.3 397.8h0M506.5 389.9h0M506.9 385.3h0M506.9 387h0M507.1 381.3h0M507.2 407.3h0M507.3 392h0M507.4 382.3h0M507.8 394.1h0M507.9 387.2h0M507.9 412.8h0M508.4 377.8h0M508.4 380.3h0M508.5 380.7h0M508.6 398.9h0M508.7 398.8h0M508.9 382.5h0M509.2 398.3h0M509.3 384h0M509.3 393.6h0M509.4 380.5h0M509.7 389.2h0M509.8 390.5h0M510.4 379.7h0M510.4 391.4h0M510.5 391.6h0M510.5 399.3h0M510.7 387h0M510.7 391.8h0M510.8 390.1h0M511 387.4h0M511.5 361.9h0M511.7 380.2h0M511.7 411.6h0M511.9 390.6h0M512.2 377.9h0M512.6 383.6h0M512.7 383.8h0M512.7 385.7h0M512.8 392.6h0M512.9 381.8h0M513.1 372.9h0M513.2 397.4h0M513.3 394.5h0M513.4 408.8h0M513.6 389h0M513.6 391.8h0M513.8 397.3h0M513.8 412.4h0M514 402.4h0M514.1 398.3h0M514.2 390.3h0M514.5 378.4h0M514.5 397.7h0M514.5 404h0M514.6 391.8h0M514.7 393.6h0M514.9 378.3h0M514.9 380h0M515 407.8h0M515.6 374.7h0M515.8 411.7h0M515.9 385.7h0M516.4 380.9h0M516.5 382.1h0M516.5 397.4h0" stroke-width="1.0" stroke-linecap="round" stroke-opacity="1" fill="none" filter="url(#bl)"/>
<path d="M451 381.2 H476.5 Q481.9 381.2 481.5 386.7 L477.3 417.4" fill="none" stroke-width="2.3" stroke-linejoin="round"/>
<path d="M482.5 387.2 L479.5 416.4 H474.7 L480.1 389.2Z"/>
<path d="M476.5 381.2 H488" fill="none" stroke-width="1.2" stroke-dasharray="1.5 1"/>
<rect x="451" y="381.2" width="2.2" height="36.19999999999999"/>
<rect x="451" y="415.4" width="67" height="2.0"/>
<rect x="451.6" y="352.6" width="65.8" height="64.19999999999997" fill="none" stroke-width="1.3"/>
<rect x="482.6" y="363" width="20.399999999999977" height="18" fill="none" stroke-width="1.9"/>
<text transform="translate(454.2 360.6) scale(1.1 1)" font-size="8.7" stroke-width=".3">0.33%</text>
<text transform="translate(454.2 372.6) scale(1.1 1)" font-size="8.7" stroke-width=".3">(67.0)</text>
<text transform="translate(57.3 345.5)" font-size="12.3" font-weight="normal" text-anchor="middle">control</text>
<text transform="translate(134 345.7) scale(1.04 1)" font-size="11.8" stroke-width=".3" text-anchor="middle">wt<tspan font-style="italic" dx="1.5">(B6)</tspan></text>
<text transform="translate(207.3 331.2) scale(1.04 1)" font-size="11.8" stroke-width=".3" font-style="italic" text-anchor="middle">SAP<tspan font-size="7.6" dy="-4.2">fl/fl</tspan></text>
<text transform="translate(206 344.4) scale(1.08 1)" font-size="11.8" stroke-width=".3" font-style="italic" text-anchor="middle">.tgCreERT2</text>
<text transform="translate(332.2 346)" font-size="12.3" font-weight="normal" text-anchor="middle">control</text>
<text transform="translate(408.3 346) scale(1.04 1)" font-size="11.8" stroke-width=".3" text-anchor="middle">wt<tspan font-style="italic" dx="1.5">(B6)</tspan></text>
<text transform="translate(481 332.7) scale(1.06 1)" font-size="11.8" stroke-width=".3" font-style="italic" text-anchor="middle">SAP<tspan font-size="7.6" dy="-4.2">fl/fl</tspan></text>
<text transform="translate(480.8 346) scale(1.08 1)" font-size="11.8" stroke-width=".3" font-style="italic" text-anchor="middle">.tgCreERT2</text>
<path d="M9.5 413 V430.6 H90" fill="none" stroke-width="1.9"/>
<line x1="9.5" y1="359.6" x2="9.5" y2="375.5" stroke-width="1.9"/>
<path d="M9.5 353.6 L14.5 363.20000000000005 H4.5Z"/>
<text transform="translate(13.7 405.2) rotate(-90) scale(1.07 1)" font-size="11.5" stroke-width=".3">IL-4</text>
<path d="M284.5 415 V431 H367" fill="none" stroke-width="1.9"/>
<line x1="284.5" y1="359.6" x2="284.5" y2="377.5" stroke-width="1.9"/>
<path d="M284.5 353.6 L289.5 363.20000000000005 H279.5Z"/>
<text transform="translate(288.7 408.6) rotate(-90) scale(1.06 1)" font-size="11.5" stroke-width=".3">IFN&#947;</text>
<text transform="translate(104.7 434.6) scale(1.1 1)" font-size="11.5" stroke-width=".3">CD1d Tet</text>
<line x1="174.3" y1="430.7" x2="235.6" y2="430.7" stroke-width="1.9"/>
<path d="M242.6 430.7 L232.1 426.5 V434.9Z"/>
<text transform="translate(381.7 434.4) scale(1.1 1)" font-size="11.5" stroke-width=".3">CD1d Tet</text>
<line x1="452" y1="430.7" x2="510.29999999999995" y2="430.7" stroke-width="1.9"/>
<path d="M517.3 430.7 L506.79999999999995 426.5 V434.9Z"/>
<line x1="56.5" y1="496.55" x2="56.5" y2="582.6500000000001" stroke-width="1.9"/>
<line x1="53.2" y1="497.5" x2="56.5" y2="497.5" stroke-width="1.9"/>
<text transform="translate(52.900000000000006 501.208) scale(1.2 1)" font-size="10.3" stroke-width=".3" text-anchor="end">500</text>
<line x1="53.2" y1="514.3" x2="56.5" y2="514.3" stroke-width="1.9"/>
<text transform="translate(52.900000000000006 518.0079999999999) scale(1.2 1)" font-size="10.3" stroke-width=".3" text-anchor="end">400</text>
<line x1="53.2" y1="531.2" x2="56.5" y2="531.2" stroke-width="1.9"/>
<text transform="translate(52.900000000000006 534.908) scale(1.2 1)" font-size="10.3" stroke-width=".3" text-anchor="end">300</text>
<line x1="53.2" y1="548" x2="56.5" y2="548" stroke-width="1.9"/>
<text transform="translate(52.900000000000006 551.708) scale(1.2 1)" font-size="10.3" stroke-width=".3" text-anchor="end">200</text>
<line x1="53.2" y1="564.9" x2="56.5" y2="564.9" stroke-width="1.9"/>
<text transform="translate(52.900000000000006 568.608) scale(1.2 1)" font-size="10.3" stroke-width=".3" text-anchor="end">100</text>
<line x1="53.2" y1="581.7" x2="56.5" y2="581.7" stroke-width="1.9"/>
<text transform="translate(52.900000000000006 585.408) scale(1.2 1)" font-size="10.3" stroke-width=".3" text-anchor="end">0</text>
<line x1="55.55" y1="581.7" x2="155.5" y2="581.7" stroke-width="1.9"/>
<line x1="73.8" y1="581.7" x2="73.8" y2="585.3000000000001" stroke-width="1.5"/>
<line x1="102.5" y1="581.7" x2="102.5" y2="585.3000000000001" stroke-width="1.5"/>
<line x1="136.5" y1="581.7" x2="136.5" y2="585.3000000000001" stroke-width="1.5"/>
<text transform="translate(107.4 488.2) scale(1.08 1)" font-size="11.9" stroke-width=".3" text-anchor="middle">B cells</text>
<text transform="translate(15.3 534.2) rotate(-90) scale(1.03 1)" font-size="12.3" stroke-width=".3" text-anchor="middle">CD69 (MFI)</text>
<line x1="60" y1="570.8" x2="88" y2="570.8" stroke-width="1.7"/>
<path d="M68.0 568.4 H74.4 L71.2 574.2Z"/>
<path d="M74.6 568.4 H81.0 L77.8 574.2Z"/>
<line x1="88.3" y1="514.8" x2="116.6" y2="514.8" stroke-width="1.7"/>
<line x1="95.5" y1="508" x2="110" y2="508" stroke-width="1.5"/>
<line x1="95.5" y1="522" x2="110" y2="522" stroke-width="1.5"/>
<line x1="102.75" y1="508" x2="102.75" y2="522" stroke-width="1.5"/>
<circle cx="98.9" cy="503.4" r="3.3"/>
<circle cx="106.4" cy="503.4" r="3.3"/>
<circle cx="102.6" cy="523" r="3.3"/>
<circle cx="102.8" cy="531.2" r="3.3"/>
<line x1="123" y1="514.5" x2="151" y2="514.5" stroke-width="1.7"/>
<line x1="130.5" y1="508.6" x2="144.2" y2="508.6" stroke-width="1.5"/>
<line x1="130.5" y1="520.4" x2="144.2" y2="520.4" stroke-width="1.5"/>
<line x1="137.35" y1="508.6" x2="137.35" y2="520.4" stroke-width="1.5"/>
<circle cx="136.9" cy="503.8" r="2.6" fill="#fff" stroke-width="1.5"/>
<circle cx="133.3" cy="520.4" r="2.6" fill="#fff" stroke-width="1.5"/>
<circle cx="141.3" cy="518.2" r="2.6" fill="#fff" stroke-width="1.5"/>
<text transform="translate(80.5 592) rotate(-46) scale(1.03 1)" font-size="12.4" font-weight="normal" text-anchor="end">control</text>
<text transform="translate(109.5 592.5) rotate(-46) scale(1.03 1)" font-size="12.2" stroke-width=".3" text-anchor="end">wt<tspan font-style="italic">(B6)</tspan></text>
<text transform="translate(143 594) rotate(-46) scale(1.03 1)" font-size="12.2" stroke-width=".3" font-style="italic" text-anchor="end">SAP<tspan font-size="7.4" dy="-4">fl/fl</tspan></text>
<text transform="translate(151 603) rotate(-46) scale(1.03 1)" font-size="12.2" stroke-width=".3" font-style="italic" text-anchor="end">.tgCreERT2</text>
<line x1="229.8" y1="496.55" x2="229.8" y2="582.6500000000001" stroke-width="1.9"/>
<line x1="226.5" y1="497.5" x2="229.8" y2="497.5" stroke-width="1.9"/>
<text transform="translate(226.2 501.208) scale(1.17 1)" font-size="10.3" stroke-width=".3" text-anchor="end">2000</text>
<line x1="226.5" y1="518.5" x2="229.8" y2="518.5" stroke-width="1.9"/>
<text transform="translate(226.2 522.208) scale(1.17 1)" font-size="10.3" stroke-width=".3" text-anchor="end">1500</text>
<line x1="226.5" y1="539.6" x2="229.8" y2="539.6" stroke-width="1.9"/>
<text transform="translate(226.2 543.308) scale(1.17 1)" font-size="10.3" stroke-width=".3" text-anchor="end">1000</text>
<line x1="226.5" y1="560.6" x2="229.8" y2="560.6" stroke-width="1.9"/>
<text transform="translate(226.2 564.308) scale(1.17 1)" font-size="10.3" stroke-width=".3" text-anchor="end">500</text>
<line x1="226.5" y1="581.7" x2="229.8" y2="581.7" stroke-width="1.9"/>
<text transform="translate(226.2 585.408) scale(1.17 1)" font-size="10.3" stroke-width=".3" text-anchor="end">0</text>
<line x1="228.85000000000002" y1="581.7" x2="327" y2="581.7" stroke-width="1.9"/>
<line x1="246.5" y1="581.7" x2="246.5" y2="585.3000000000001" stroke-width="1.5"/>
<line x1="275.5" y1="581.7" x2="275.5" y2="585.3000000000001" stroke-width="1.5"/>
<line x1="309.5" y1="581.7" x2="309.5" y2="585.3000000000001" stroke-width="1.5"/>
<text transform="translate(280.8 488.2) scale(1.08 1)" font-size="11.9" stroke-width=".3" text-anchor="middle">CD8+ T cells</text>
<text transform="translate(191 536.5) rotate(-90) scale(1.03 1)" font-size="12.3" stroke-width=".3" text-anchor="middle">CD69 (MFI)</text>
<line x1="232.4" y1="564.4" x2="260.5" y2="564.4" stroke-width="1.7"/>
<path d="M239.10000000000002 563.0 H245.5 L242.3 568.8000000000001Z"/>
<path d="M247.20000000000002 559.8 H253.6 L250.4 565.6Z"/>
<line x1="261" y1="514.7" x2="289" y2="514.7" stroke-width="1.7"/>
<line x1="268.4" y1="511.4" x2="283.2" y2="511.4" stroke-width="1.5"/>
<line x1="268.4" y1="518.2" x2="283.2" y2="518.2" stroke-width="1.5"/>
<line x1="275.79999999999995" y1="511.4" x2="275.79999999999995" y2="518.2" stroke-width="1.5"/>
<circle cx="267.4" cy="512.3" r="3.3"/>
<circle cx="282.5" cy="508.1" r="3.3"/>
<circle cx="275.8" cy="515.1" r="3.3"/>
<circle cx="275.2" cy="524" r="3.3"/>
<line x1="295.9" y1="509.8" x2="323.4" y2="509.8" stroke-width="1.7"/>
<line x1="303" y1="507.2" x2="316.5" y2="507.2" stroke-width="1.5"/>
<line x1="303" y1="512.6" x2="316.5" y2="512.6" stroke-width="1.5"/>
<line x1="309.75" y1="507.2" x2="309.75" y2="512.6" stroke-width="1.5"/>
<circle cx="309.6" cy="505" r="2.6" fill="#fff" stroke-width="1.5"/>
<circle cx="305.8" cy="515.5" r="2.6" fill="#fff" stroke-width="1.5"/>
<circle cx="313.4" cy="510.4" r="2.6" fill="#fff" stroke-width="1.5"/>
<text transform="translate(253.5 592) rotate(-46) scale(1.03 1)" font-size="12.4" font-weight="normal" text-anchor="end">control</text>
<text transform="translate(282.5 592.5) rotate(-46) scale(1.03 1)" font-size="12.2" stroke-width=".3" text-anchor="end">wt<tspan font-style="italic">(B6)</tspan></text>
<text transform="translate(316 594) rotate(-46) scale(1.03 1)" font-size="12.2" stroke-width=".3" font-style="italic" text-anchor="end">SAP<tspan font-size="7.4" dy="-4">fl/fl</tspan></text>
<text transform="translate(324 603) rotate(-46) scale(1.03 1)" font-size="12.2" stroke-width=".3" font-style="italic" text-anchor="end">.tgCreERT2</text>
<line x1="404.8" y1="497.25" x2="404.8" y2="582.5500000000001" stroke-width="1.9"/>
<line x1="401.5" y1="498.2" x2="404.8" y2="498.2" stroke-width="1.9"/>
<text transform="translate(401.2 501.908) scale(1.24 1)" font-size="10.3" stroke-width=".3" text-anchor="end">6000</text>
<line x1="401.5" y1="525.6" x2="404.8" y2="525.6" stroke-width="1.9"/>
<text transform="translate(401.2 529.308) scale(1.24 1)" font-size="10.3" stroke-width=".3" text-anchor="end">4000</text>
<line x1="401.5" y1="553.4" x2="404.8" y2="553.4" stroke-width="1.9"/>
<text transform="translate(401.2 557.108) scale(1.24 1)" font-size="10.3" stroke-width=".3" text-anchor="end">2000</text>
<line x1="401.5" y1="581.6" x2="404.8" y2="581.6" stroke-width="1.9"/>
<text transform="translate(401.2 585.308) scale(1.24 1)" font-size="10.3" stroke-width=".3" text-anchor="end">0</text>
<line x1="403.85" y1="581.6" x2="504" y2="581.6" stroke-width="1.9"/>
<line x1="420.4" y1="581.6" x2="420.4" y2="585.2" stroke-width="1.5"/>
<line x1="450.5" y1="581.6" x2="450.5" y2="585.2" stroke-width="1.5"/>
<line x1="484.5" y1="581.6" x2="484.5" y2="585.2" stroke-width="1.5"/>
<text transform="translate(454.6 488.2) scale(1.08 1)" font-size="11.9" stroke-width=".3" text-anchor="middle">NK cells</text>
<text transform="translate(364 538.8) rotate(-90) scale(1.03 1)" font-size="12.3" stroke-width=".3" text-anchor="middle">CD69 (MFI)</text>
<line x1="408.3" y1="577" x2="435.7" y2="577" stroke-width="1.7"/>
<path d="M415.8 574.6999999999999 H422.2 L419 580.5Z"/>
<path d="M422.6 574.4 H429.0 L425.8 580.2Z"/>
<line x1="436.5" y1="517.2" x2="464.8" y2="517.2" stroke-width="1.7"/>
<line x1="443.8" y1="512.3" x2="458" y2="512.3" stroke-width="1.5"/>
<line x1="443.8" y1="522.3" x2="458" y2="522.3" stroke-width="1.5"/>
<line x1="450.9" y1="512.3" x2="450.9" y2="522.3" stroke-width="1.5"/>
<circle cx="447.3" cy="506.1" r="3.3"/>
<circle cx="454.6" cy="512.3" r="3.3"/>
<circle cx="454.6" cy="521.7" r="3.3"/>
<circle cx="447.3" cy="529.8" r="3.3"/>
<line x1="471.5" y1="513.4" x2="499" y2="513.4" stroke-width="1.7"/>
<line x1="485.0" y1="513.4" x2="485.0" y2="513.4" stroke-width="1.5"/>
<circle cx="477.7" cy="510.2" r="2.6" fill="#fff" stroke-width="1.5"/>
<circle cx="485.5" cy="515.5" r="2.6" fill="#fff" stroke-width="1.5"/>
<circle cx="493.1" cy="513.7" r="2.6" fill="#fff" stroke-width="1.5"/>
<text transform="translate(427.5 592) rotate(-46) scale(1.03 1)" font-size="12.4" font-weight="normal" text-anchor="end">control</text>
<text transform="translate(457.5 592.5) rotate(-46) scale(1.03 1)" font-size="12.2" stroke-width=".3" text-anchor="end">wt<tspan font-style="italic">(B6)</tspan></text>
<text transform="translate(491 594) rotate(-46) scale(1.03 1)" font-size="12.2" stroke-width=".3" font-style="italic" text-anchor="end">SAP<tspan font-size="7.4" dy="-4">fl/fl</tspan></text>
<text transform="translate(499 603) rotate(-46) scale(1.03 1)" font-size="12.2" stroke-width=".3" font-style="italic" text-anchor="end">.tgCreERT2</text>
</g></svg></body></html>
